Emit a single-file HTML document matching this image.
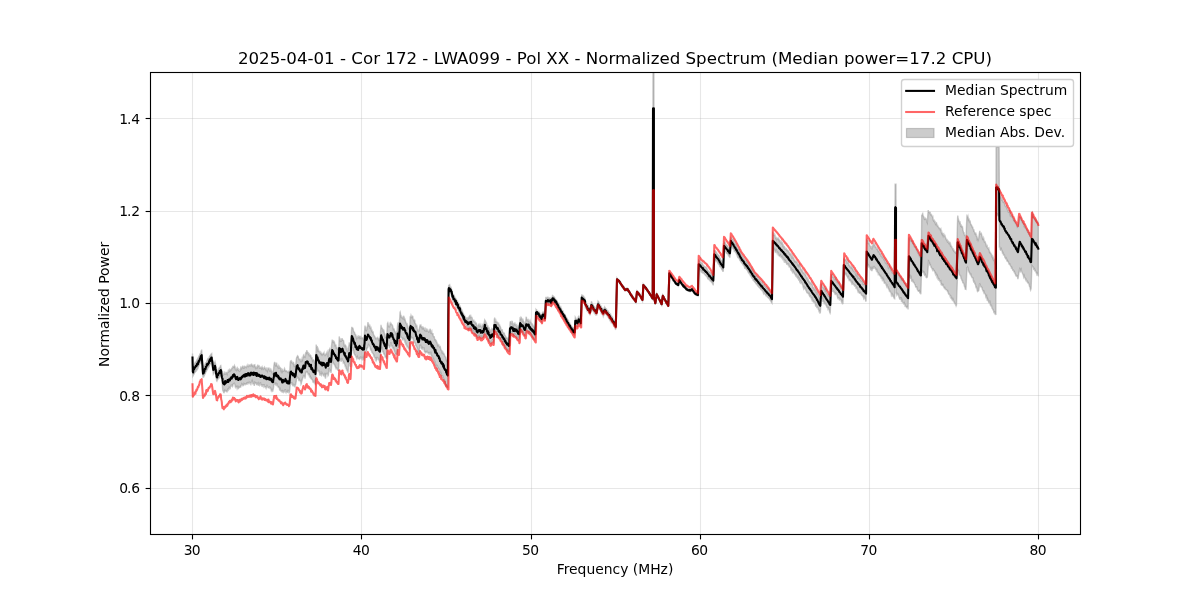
<!DOCTYPE html><html><head><meta charset="utf-8"><title>Normalized Spectrum</title>
<style>html,body{margin:0;padding:0;background:#fff}svg{display:block}text{font-family:"DejaVu Sans","Liberation Sans",sans-serif;fill:#000}</style></head><body>
<svg width="1200" height="600" viewBox="0 0 1200 600">
<rect width="1200" height="600" fill="#fff"/>
<defs><clipPath id="ax"><rect x="150" y="72" width="930" height="462"/></clipPath></defs>
<g clip-path="url(#ax)">
<polygon points="192.5,353.5 192.8,367.8 193.1,366.8 193.4,365.6 193.6,365.0 193.9,364.9 194.2,364.4 194.5,363.8 194.7,363.3 195.0,362.9 195.2,362.2 195.5,362.2 195.8,362.5 196.0,362.4 196.2,361.8 196.5,360.9 196.8,360.4 197.0,359.7 197.2,359.8 197.5,359.6 197.8,358.5 198.0,358.1 198.3,358.3 198.5,357.9 198.8,356.6 199.1,355.7 199.3,355.6 199.6,355.2 199.8,354.2 200.1,353.7 200.4,353.5 200.6,353.6 200.9,352.4 201.1,351.1 201.4,350.7 201.7,349.6 201.9,353.3 202.2,357.4 202.5,361.7 202.7,365.7 203.0,368.7 203.3,368.3 203.5,368.1 203.8,366.9 204.0,366.3 204.3,366.0 204.6,365.4 204.8,365.0 205.1,364.1 205.4,363.4 205.6,363.8 205.9,363.5 206.1,363.0 206.4,362.5 206.7,362.1 206.9,361.0 207.2,360.4 207.4,359.8 207.7,359.0 207.9,358.5 208.2,358.6 208.4,359.1 208.7,358.3 208.9,358.0 209.2,357.5 209.4,356.6 209.7,356.4 209.9,355.7 210.2,355.3 210.4,355.8 210.7,354.9 210.9,354.2 211.2,354.0 211.4,353.9 211.7,353.6 211.9,355.4 212.2,357.5 212.5,359.5 212.8,361.0 213.1,363.4 213.3,365.5 213.6,364.5 213.9,364.4 214.2,363.4 214.4,362.5 214.7,362.4 215.0,361.7 215.3,362.9 215.6,364.0 215.8,365.8 216.1,368.3 216.4,370.3 216.7,372.1 216.9,371.9 217.2,371.6 217.4,371.0 217.7,370.9 218.0,370.3 218.2,369.5 218.5,370.0 218.8,369.9 219.0,368.4 219.3,367.7 219.5,367.8 219.8,367.8 220.1,367.2 220.3,366.3 220.6,365.6 220.8,365.5 221.1,367.4 221.4,368.7 221.6,370.2 221.9,371.8 222.2,373.7 222.5,371.0 222.7,372.5 223.0,375.0 223.3,374.9 223.5,373.9 223.8,374.4 224.0,374.4 224.3,373.8 224.5,373.7 224.8,372.5 225.1,373.0 225.3,374.1 225.6,373.9 225.8,373.8 226.1,373.3 226.3,372.5 226.6,372.6 226.9,373.9 227.1,374.3 227.4,372.7 227.6,372.4 227.9,372.2 228.1,371.4 228.4,372.0 228.7,371.8 228.9,370.1 229.2,369.7 229.4,370.5 229.7,370.8 229.9,371.2 230.2,370.5 230.4,369.9 230.7,370.3 230.9,369.6 231.2,369.6 231.5,369.7 231.7,368.5 232.0,368.5 232.2,368.1 232.5,367.2 232.7,367.7 233.0,367.6 233.2,367.0 233.5,366.5 233.7,366.5 234.0,366.9 234.2,366.2 234.5,365.5 234.8,366.6 235.0,366.6 235.3,369.0 235.6,370.5 235.8,369.0 236.1,369.6 236.4,369.7 236.7,368.9 236.9,369.8 237.2,369.0 237.5,368.1 237.8,369.0 238.1,370.0 238.3,370.2 238.6,369.4 238.9,370.0 239.1,371.0 239.4,371.2 239.6,371.4 239.9,371.2 240.2,369.7 240.4,369.0 240.7,367.9 240.9,367.2 241.2,367.6 241.5,368.0 241.7,368.7 242.0,368.0 242.2,367.1 242.5,366.3 242.8,366.5 243.0,367.4 243.2,367.7 243.5,367.0 243.8,367.8 244.0,368.8 244.2,367.6 244.5,366.5 244.8,366.3 245.0,366.6 245.2,366.7 245.5,366.8 245.8,367.2 246.0,367.6 246.2,367.7 246.5,366.8 246.8,366.3 247.0,366.0 247.2,365.4 247.5,366.6 247.8,366.6 248.0,366.6 248.2,366.6 248.5,365.6 248.8,366.4 249.0,366.2 249.2,365.8 249.5,365.6 249.8,365.0 250.0,365.0 250.2,364.9 250.5,365.8 250.8,366.0 251.0,366.0 251.2,364.6 251.5,363.6 251.8,365.3 252.0,365.1 252.2,365.4 252.5,365.9 252.8,365.1 253.0,365.1 253.3,366.9 253.5,366.9 253.8,365.5 254.0,365.2 254.3,365.2 254.5,364.8 254.8,364.7 255.0,366.9 255.3,367.7 255.5,366.7 255.8,366.8 256.0,367.6 256.3,367.4 256.6,367.5 256.8,367.9 257.1,366.9 257.3,367.3 257.6,366.0 257.8,364.7 258.1,366.3 258.3,366.2 258.6,366.0 258.8,366.2 259.1,366.0 259.4,368.0 259.6,368.8 259.9,367.3 260.1,367.7 260.4,367.7 260.6,367.5 260.9,367.9 261.2,368.4 261.4,367.5 261.7,367.1 261.9,368.0 262.2,367.0 262.4,367.6 262.7,367.8 262.9,368.2 263.2,369.1 263.5,368.6 263.7,368.5 264.0,368.6 264.2,367.6 264.5,367.2 264.7,368.0 265.0,368.2 265.2,368.6 265.5,368.9 265.8,368.5 266.0,369.3 266.2,371.2 266.5,370.1 266.8,368.9 267.0,369.3 267.2,370.1 267.5,371.1 267.8,369.8 268.0,368.4 268.2,368.6 268.5,368.4 268.8,368.2 269.0,369.1 269.2,369.5 269.5,370.2 269.8,371.5 270.0,370.1 270.2,369.3 270.5,369.8 270.8,371.4 271.0,371.5 271.2,370.1 271.5,370.8 271.8,372.1 272.0,372.0 272.2,373.0 272.5,373.8 272.8,373.3 273.0,373.0 273.3,370.6 273.6,368.8 273.9,365.5 274.2,363.6 274.5,362.4 274.7,362.4 275.0,362.8 275.2,364.1 275.5,365.3 275.7,364.9 276.0,365.4 276.2,364.3 276.5,362.7 276.7,363.4 277.0,365.4 277.2,366.0 277.5,366.2 277.8,366.9 278.0,366.0 278.2,365.9 278.5,368.1 278.8,367.9 279.0,366.0 279.2,366.4 279.5,367.6 279.8,368.3 280.0,368.3 280.2,368.4 280.5,367.9 280.8,368.6 281.0,371.0 281.2,371.5 281.5,370.0 281.8,369.7 282.0,369.1 282.2,369.3 282.5,371.2 282.8,370.4 283.0,370.5 283.2,371.1 283.5,371.3 283.8,371.2 284.0,370.7 284.2,369.4 284.5,368.5 284.8,369.3 285.0,370.0 285.2,370.4 285.5,371.2 285.8,370.9 286.0,370.1 286.2,370.9 286.5,371.0 286.8,371.3 287.0,371.3 287.2,371.9 287.5,372.2 287.8,372.1 288.0,372.3 288.2,372.6 288.5,371.9 288.8,371.4 289.0,372.0 289.2,371.9 289.5,372.9 289.8,369.5 290.0,365.5 290.2,362.9 290.5,361.2 290.8,360.9 291.0,361.1 291.2,361.7 291.5,361.2 291.8,362.0 292.0,363.1 292.2,363.2 292.5,363.0 292.8,363.5 293.0,363.8 293.2,362.4 293.5,362.5 293.8,364.2 294.0,365.3 294.2,366.5 294.5,366.5 294.8,365.5 295.0,364.8 295.2,364.9 295.5,366.1 295.8,364.8 296.0,361.8 296.3,359.2 296.5,358.2 296.8,357.1 297.1,357.1 297.4,356.1 297.6,355.8 297.9,356.3 298.2,356.6 298.4,357.6 298.7,358.9 299.0,359.1 299.2,359.6 299.5,359.3 299.8,359.3 300.0,359.7 300.2,359.9 300.5,361.2 300.8,361.6 301.0,360.2 301.2,360.5 301.5,361.6 301.8,360.0 302.0,359.0 302.2,359.6 302.5,360.1 302.8,358.4 303.0,357.1 303.2,357.2 303.5,355.1 303.8,354.8 304.0,355.9 304.2,356.4 304.5,356.0 304.8,356.1 305.0,358.0 305.3,356.9 305.5,355.3 305.8,352.4 306.1,352.3 306.4,352.8 306.7,350.8 307.0,350.8 307.2,351.7 307.5,351.9 307.8,352.5 308.0,353.2 308.2,353.8 308.5,353.3 308.8,354.1 309.0,354.8 309.2,354.4 309.5,355.3 309.8,355.7 310.0,355.0 310.2,355.3 310.5,355.2 310.8,355.6 311.0,357.8 311.2,358.0 311.5,357.3 311.8,357.6 312.0,357.6 312.2,359.5 312.5,360.7 312.8,359.9 313.0,359.8 313.2,360.0 313.5,359.9 313.8,360.2 314.0,360.5 314.2,361.5 314.5,362.7 314.8,363.2 315.0,363.1 315.2,362.4 315.5,362.8 315.9,353.5 316.2,344.6 316.5,346.1 316.7,346.8 317.0,347.0 317.2,346.2 317.5,347.7 317.7,350.1 318.0,349.5 318.2,349.2 318.5,351.1 318.8,350.7 319.0,351.4 319.2,352.2 319.5,350.9 319.8,352.2 320.0,353.3 320.2,352.5 320.5,353.2 320.8,352.6 321.0,353.3 321.2,354.0 321.5,353.3 321.8,353.7 322.0,353.9 322.2,354.7 322.5,354.1 322.8,354.0 323.0,354.2 323.2,353.3 323.5,353.3 323.8,353.0 324.0,352.6 324.2,354.1 324.5,354.9 324.8,355.4 325.0,356.2 325.2,355.3 325.5,354.4 325.8,354.1 326.0,354.7 326.2,354.5 326.5,353.3 326.8,353.3 327.0,352.2 327.2,351.7 327.5,353.5 327.8,356.2 328.0,357.1 328.3,353.5 328.6,351.9 328.9,351.1 329.2,349.5 329.5,349.3 329.7,348.8 330.0,349.5 330.2,350.6 330.5,351.9 330.7,353.3 331.0,352.4 331.3,347.9 331.6,345.3 331.9,342.4 332.2,339.7 332.5,340.6 332.7,341.0 333.0,342.0 333.2,342.3 333.5,341.4 333.7,341.1 334.0,341.6 334.2,342.4 334.5,342.3 334.8,343.8 335.0,345.4 335.2,345.2 335.5,345.1 335.8,344.9 336.0,345.3 336.2,347.7 336.5,347.4 336.8,346.7 337.0,348.7 337.2,349.0 337.5,348.7 337.8,349.4 338.0,349.3 338.2,349.5 338.5,351.2 338.9,344.1 339.2,336.5 339.5,337.8 339.7,339.4 340.0,340.6 340.2,341.0 340.5,340.5 340.7,340.0 341.0,341.1 341.3,341.2 341.6,339.7 341.9,338.8 342.2,338.8 342.5,340.0 342.7,339.8 343.0,340.1 343.2,340.5 343.5,340.6 343.7,341.7 344.0,343.4 344.2,345.8 344.5,345.6 344.8,344.5 345.0,345.5 345.2,344.9 345.5,345.3 345.8,345.8 346.0,346.8 346.2,348.9 346.5,348.8 346.8,348.1 347.0,349.3 347.2,350.5 347.5,350.2 347.8,350.9 348.0,350.5 348.3,348.2 348.6,347.7 348.9,345.5 349.2,342.9 349.5,342.9 349.7,344.0 350.0,345.5 350.2,345.9 350.5,346.3 350.8,342.6 351.0,339.4 351.3,334.9 351.5,330.5 351.8,326.9 352.1,328.0 352.4,328.1 352.6,327.9 352.9,328.2 353.2,329.1 353.4,330.4 353.7,331.7 354.0,331.9 354.2,332.0 354.5,332.2 354.8,333.4 355.0,334.3 355.2,334.3 355.5,334.7 355.8,334.9 356.0,335.4 356.2,337.1 356.5,338.3 356.8,337.4 357.0,336.8 357.2,336.7 357.5,337.7 357.8,339.2 358.0,338.2 358.2,336.6 358.5,337.1 358.8,337.1 359.0,336.1 359.2,336.2 359.5,337.4 359.8,336.3 360.0,335.8 360.2,337.4 360.5,338.0 360.8,337.4 361.0,338.3 361.2,339.0 361.5,337.4 361.8,337.7 362.0,337.7 362.2,337.8 362.5,337.9 362.8,338.0 363.0,338.6 363.2,338.9 363.5,339.8 363.8,339.6 364.0,339.4 364.2,336.2 364.5,331.7 364.8,327.8 365.0,325.6 365.2,326.4 365.5,327.4 365.8,329.9 366.0,330.3 366.2,329.4 366.5,330.1 366.8,329.7 367.0,327.5 367.2,326.7 367.5,326.5 367.8,323.4 368.0,322.2 368.2,323.8 368.5,324.9 368.8,325.3 369.0,326.0 369.2,326.4 369.5,326.3 369.8,325.5 370.0,326.2 370.2,328.4 370.5,328.4 370.8,327.3 371.0,327.3 371.2,329.8 371.5,330.7 371.8,329.9 372.0,330.3 372.2,331.5 372.5,332.2 372.8,331.8 373.0,331.8 373.2,332.6 373.5,334.5 373.8,335.0 374.0,335.3 374.2,336.0 374.5,336.0 374.8,336.5 375.0,336.9 375.2,337.8 375.5,338.5 375.8,338.1 376.0,338.3 376.2,338.6 376.5,338.7 376.8,338.8 377.0,338.7 377.2,337.7 377.5,337.6 377.8,339.1 378.0,338.1 378.2,338.6 378.5,339.8 378.8,339.1 379.0,338.2 379.2,339.3 379.5,340.0 379.8,339.4 380.0,340.6 380.2,336.6 380.5,332.0 380.8,328.1 381.0,324.9 381.2,326.5 381.5,327.4 381.8,327.9 382.0,328.0 382.2,328.5 382.5,328.9 382.8,330.5 383.0,331.6 383.2,330.0 383.5,329.9 383.8,332.4 384.0,332.8 384.2,332.2 384.5,333.7 384.8,333.9 385.0,334.8 385.2,336.9 385.5,336.4 385.8,336.6 386.0,337.2 386.2,336.5 386.5,337.7 386.8,334.7 387.0,330.6 387.2,327.4 387.5,323.2 387.8,322.7 388.0,323.4 388.2,324.7 388.5,326.2 388.8,326.6 389.0,325.9 389.2,326.0 389.5,327.4 389.8,325.5 390.0,323.9 390.3,324.3 390.5,324.3 390.8,323.1 391.1,323.6 391.4,324.2 391.6,324.6 391.9,324.9 392.2,324.9 392.4,325.3 392.7,326.2 393.0,328.2 393.2,329.1 393.5,328.3 393.8,328.6 394.0,329.1 394.2,329.6 394.5,330.6 394.8,331.2 395.0,331.9 395.2,332.1 395.5,332.4 395.8,333.4 396.0,332.6 396.2,332.3 396.5,333.2 396.8,333.0 397.0,332.6 397.3,328.4 397.5,326.0 397.8,323.2 398.1,323.0 398.4,325.0 398.7,325.8 399.0,327.1 399.2,324.8 399.5,320.9 399.8,317.0 400.0,312.3 400.2,312.0 400.5,314.1 400.8,315.5 401.0,315.0 401.2,316.8 401.5,317.4 401.8,317.0 402.0,317.8 402.2,317.9 402.5,317.5 402.8,317.3 403.0,318.7 403.2,319.5 403.5,317.1 403.8,315.7 404.0,317.6 404.2,318.7 404.5,318.3 404.8,319.6 405.0,319.4 405.2,320.1 405.5,321.8 405.8,322.0 406.0,322.7 406.2,323.4 406.5,323.7 406.8,323.6 407.0,324.7 407.2,325.6 407.5,325.0 407.8,326.2 408.0,328.0 408.2,328.6 408.5,328.5 408.8,328.3 409.0,328.6 409.2,328.3 409.5,329.1 409.9,323.2 410.2,316.3 410.5,317.3 410.7,316.8 411.0,315.4 411.2,316.0 411.5,317.2 411.7,317.5 412.0,316.7 412.2,316.4 412.5,316.2 412.8,316.4 413.0,317.9 413.2,319.5 413.5,320.0 413.8,319.8 414.0,321.1 414.2,321.6 414.5,319.6 414.8,320.6 415.0,322.4 415.2,323.6 415.5,323.6 415.8,324.1 416.0,326.2 416.2,326.0 416.5,325.2 416.8,325.3 417.0,326.4 417.2,328.4 417.5,329.2 417.8,329.8 418.0,330.7 418.2,330.8 418.5,331.1 418.8,331.1 419.0,330.6 419.2,329.5 419.5,327.8 419.8,326.2 420.0,325.6 420.2,325.9 420.5,325.1 420.8,324.9 421.0,326.5 421.2,326.9 421.5,326.6 421.8,327.3 422.0,327.7 422.2,328.4 422.5,327.9 422.8,326.4 423.0,327.4 423.2,328.2 423.5,327.7 423.8,328.0 424.0,328.4 424.2,329.5 424.5,330.2 424.8,329.7 425.0,329.1 425.2,329.9 425.5,330.6 425.8,331.0 426.0,330.9 426.2,329.0 426.5,329.4 426.8,330.9 427.0,330.7 427.2,330.9 427.5,330.8 427.8,330.0 428.0,330.5 428.2,331.0 428.5,331.6 428.8,332.2 429.0,332.1 429.2,331.7 429.5,331.1 429.8,329.7 430.0,329.3 430.2,329.3 430.5,329.9 430.8,332.1 431.0,333.4 431.2,333.4 431.5,332.2 431.8,331.5 432.0,333.4 432.2,333.8 432.5,333.6 432.8,333.6 433.0,333.6 433.2,335.8 433.5,336.6 433.8,336.7 434.0,336.6 434.2,336.6 434.5,338.2 434.8,339.5 435.0,339.3 435.2,339.6 435.5,339.6 435.8,340.4 436.0,342.1 436.2,341.4 436.5,341.2 436.8,342.6 437.0,342.6 437.2,343.5 437.5,345.1 437.8,344.2 438.0,344.3 438.2,345.9 438.5,345.1 438.8,345.0 439.0,346.1 439.2,346.1 439.5,347.1 439.8,347.4 440.0,346.7 440.2,346.6 440.5,347.9 440.8,349.5 441.0,350.0 441.2,350.0 441.5,350.4 441.8,351.6 442.0,352.3 442.2,351.5 442.5,351.4 442.8,352.9 443.0,353.2 443.2,352.7 443.5,353.4 443.8,353.4 444.0,354.3 444.2,354.3 444.5,355.1 444.8,356.7 445.0,355.8 445.2,356.7 445.5,357.1 445.8,357.8 446.0,359.8 446.2,359.7 446.5,359.6 446.8,361.0 447.0,361.3 447.3,361.2 447.5,362.3 447.8,363.6 448.1,334.3 448.3,304.6 448.6,285.8 448.9,285.2 449.2,285.0 449.4,285.3 449.7,284.9 450.0,286.2 450.3,286.9 450.6,286.9 450.8,286.9 451.1,287.7 451.4,288.8 451.7,289.6 451.9,290.8 452.2,292.1 452.5,293.6 452.8,294.0 453.0,294.1 453.3,294.5 453.5,294.8 453.8,294.9 454.1,295.6 454.3,296.2 454.6,296.4 454.8,296.9 455.1,297.6 455.4,298.2 455.6,298.3 455.9,298.6 456.1,299.1 456.4,299.7 456.7,300.2 456.9,300.8 457.2,301.7 457.4,302.0 457.7,301.6 457.9,302.5 458.2,303.9 458.4,303.8 458.7,303.6 458.9,303.6 459.2,304.5 459.4,305.3 459.7,306.1 459.9,306.1 460.2,306.1 460.4,307.5 460.7,307.9 460.9,308.0 461.2,308.7 461.4,309.3 461.7,309.6 461.9,310.3 462.2,310.8 462.4,311.3 462.7,312.3 463.0,312.8 463.2,313.2 463.5,313.7 463.7,314.5 464.0,314.9 464.2,315.5 464.5,315.6 464.7,315.6 465.0,316.6 465.3,317.4 465.5,318.1 465.8,317.6 466.0,317.6 466.3,318.5 466.5,318.8 466.8,318.8 467.0,318.6 467.3,318.2 467.6,319.0 467.8,320.2 468.1,318.6 468.3,317.8 468.6,317.4 468.8,317.6 469.1,317.8 469.3,316.6 469.6,315.7 469.8,315.5 470.1,316.5 470.3,317.4 470.6,316.4 470.8,316.0 471.1,317.2 471.4,317.2 471.7,317.5 471.9,317.4 472.2,317.9 472.5,320.5 472.8,320.7 473.0,319.7 473.3,321.2 473.5,320.5 473.8,320.3 474.0,321.4 474.3,321.4 474.5,322.4 474.8,322.4 475.1,322.0 475.3,322.7 475.6,323.3 475.8,322.7 476.1,323.0 476.4,323.3 476.7,324.8 476.9,325.6 477.2,325.7 477.5,328.0 477.8,328.0 478.1,326.4 478.3,325.1 478.6,324.5 478.9,325.0 479.2,325.2 479.4,324.9 479.7,326.4 479.9,326.2 480.2,324.7 480.4,325.2 480.7,325.9 480.9,326.5 481.2,326.5 481.4,327.0 481.7,327.7 481.9,326.9 482.2,325.0 482.4,325.4 482.7,326.0 482.9,325.0 483.2,325.2 483.4,324.7 483.7,324.1 483.9,323.6 484.2,322.6 484.4,321.5 484.7,319.9 484.9,320.2 485.2,320.6 485.5,321.1 485.7,322.4 486.0,322.9 486.2,322.5 486.5,323.1 486.8,324.5 487.0,325.8 487.3,326.2 487.5,325.9 487.8,325.8 488.1,327.7 488.3,328.3 488.6,327.0 488.8,327.8 489.1,327.9 489.3,329.0 489.6,330.5 489.8,330.6 490.1,330.4 490.3,330.2 490.6,331.7 490.8,332.9 491.1,333.5 491.4,333.0 491.7,329.8 491.9,328.7 492.2,329.0 492.5,329.0 492.8,329.8 493.1,330.1 493.4,330.6 493.7,331.3 494.0,326.4 494.3,319.9 494.6,318.2 494.9,318.3 495.1,320.6 495.4,321.6 495.7,320.8 495.9,320.4 496.2,321.4 496.4,322.4 496.7,322.0 497.0,321.8 497.2,322.1 497.5,322.5 497.8,323.3 498.0,324.6 498.3,323.6 498.5,322.5 498.8,324.0 499.1,325.3 499.3,324.9 499.6,324.9 499.8,325.9 500.1,326.5 500.4,326.8 500.6,327.5 500.9,328.6 501.1,329.5 501.4,329.8 501.7,329.9 501.9,329.7 502.2,329.7 502.4,331.0 502.7,331.8 503.0,332.3 503.2,332.9 503.5,332.9 503.8,333.5 504.0,333.0 504.3,333.2 504.5,334.2 504.8,335.2 505.1,335.6 505.3,335.8 505.6,336.4 505.8,337.0 506.1,337.9 506.3,337.7 506.6,337.6 506.9,338.1 507.1,338.7 507.4,338.7 507.6,338.6 507.9,338.8 508.1,338.4 508.4,339.0 508.7,340.1 508.9,339.8 509.2,340.7 509.4,334.9 509.7,328.6 510.0,323.4 510.2,321.9 510.5,321.6 510.8,321.6 511.0,321.5 511.2,322.7 511.5,323.7 511.8,323.7 512.0,321.7 512.2,320.9 512.5,322.6 512.8,324.0 513.1,325.2 513.3,325.8 513.6,324.2 513.9,323.6 514.2,323.4 514.4,324.6 514.7,324.0 515.0,323.5 515.3,324.6 515.5,324.9 515.8,324.8 516.0,324.7 516.3,326.4 516.6,326.0 516.8,325.5 517.1,327.4 517.3,327.5 517.6,327.9 517.9,326.3 518.1,325.5 518.4,326.8 518.6,327.0 518.9,328.0 519.2,328.8 519.4,325.0 519.7,321.9 520.0,318.2 520.2,318.4 520.5,319.3 520.8,317.9 521.0,317.2 521.2,317.4 521.5,318.0 521.8,319.2 522.0,320.7 522.2,321.2 522.5,319.9 522.8,318.6 523.0,319.6 523.2,320.5 523.5,321.0 523.8,321.8 524.0,323.8 524.2,323.6 524.5,322.7 524.8,325.2 525.0,325.2 525.3,322.5 525.5,322.5 525.8,320.6 526.1,317.5 526.3,316.8 526.6,318.3 526.8,319.6 527.1,319.6 527.3,320.6 527.6,320.8 527.8,319.8 528.1,320.0 528.3,320.9 528.6,321.3 528.8,320.6 529.1,321.8 529.3,323.0 529.6,322.9 529.8,321.6 530.1,320.7 530.3,321.5 530.6,322.2 530.8,322.3 531.1,322.7 531.3,323.6 531.6,323.5 531.8,323.6 532.1,324.3 532.3,324.2 532.6,324.6 532.8,325.6 533.1,326.2 533.3,325.7 533.6,326.1 533.8,326.9 534.1,327.3 534.3,327.4 534.6,328.1 534.8,328.8 535.1,330.8 535.3,330.7 535.7,319.8 536.0,309.4 536.3,309.8 536.5,309.8 536.8,310.1 537.0,310.8 537.3,311.6 537.6,311.4 537.8,311.5 538.1,311.9 538.3,311.9 538.6,312.0 538.8,311.7 539.1,312.3 539.4,313.4 539.6,313.2 539.9,313.2 540.1,314.1 540.4,314.7 540.6,314.7 540.9,314.7 541.2,315.7 541.4,316.8 541.7,316.9 541.9,315.3 542.2,313.9 542.5,312.4 542.8,312.2 543.1,312.0 543.3,312.0 543.6,312.1 543.9,312.5 544.2,312.6 544.4,313.5 544.7,314.4 545.0,315.5 545.3,309.0 545.6,302.6 545.8,297.5 546.1,297.4 546.4,297.7 546.6,298.2 546.9,297.8 547.1,297.8 547.4,297.6 547.7,297.3 547.9,297.7 548.2,297.5 548.4,297.9 548.7,298.1 549.0,298.1 549.2,298.3 549.5,298.1 549.7,297.9 550.0,297.7 550.3,298.2 550.5,298.6 550.8,299.5 551.1,299.6 551.3,299.5 551.6,298.7 551.9,298.0 552.2,296.8 552.5,295.4 552.8,295.5 553.0,295.9 553.2,296.3 553.5,296.4 553.8,296.5 554.0,297.2 554.2,297.5 554.5,297.4 554.8,297.8 555.0,298.4 555.2,298.8 555.5,299.2 555.8,299.4 556.0,299.6 556.2,300.3 556.5,300.7 556.8,300.5 557.0,300.9 557.2,301.9 557.5,302.4 557.8,302.7 558.0,303.0 558.2,302.9 558.5,302.9 558.8,303.0 559.0,303.8 559.2,305.5 559.5,306.5 559.8,306.1 560.0,306.2 560.3,307.4 560.5,307.5 560.8,307.1 561.0,308.0 561.3,308.9 561.5,308.8 561.8,309.9 562.1,310.6 562.3,310.8 562.6,311.5 562.8,311.7 563.1,311.4 563.3,312.2 563.6,312.9 563.8,313.3 564.1,313.9 564.4,313.9 564.6,314.2 564.9,314.8 565.1,315.2 565.4,315.7 565.6,316.3 565.9,316.9 566.2,316.9 566.4,317.4 566.7,317.8 566.9,318.7 567.2,319.3 567.4,319.1 567.7,320.1 567.9,320.5 568.2,320.1 568.4,320.2 568.7,321.1 568.9,322.0 569.2,322.6 569.4,323.0 569.7,323.0 569.9,323.5 570.2,324.4 570.4,324.5 570.7,325.5 570.9,326.0 571.2,325.8 571.4,326.9 571.7,327.2 571.9,327.0 572.2,327.2 572.4,327.8 572.7,327.1 572.9,327.2 573.2,328.1 573.4,328.0 573.7,328.5 573.9,329.0 574.2,329.4 574.4,329.4 574.7,329.9 575.0,323.6 575.3,317.2 575.6,317.7 575.9,318.4 576.1,318.9 576.4,319.3 576.7,319.5 577.0,320.1 577.2,320.8 577.5,320.6 577.8,318.9 578.1,317.6 578.4,316.6 578.7,316.3 578.9,317.5 579.2,317.3 579.5,318.1 579.8,318.9 580.0,318.2 580.3,319.2 580.6,320.7 580.8,320.9 581.1,311.7 581.4,303.4 581.7,294.9 581.9,294.8 582.2,295.3 582.4,295.7 582.7,295.7 583.0,295.6 583.2,296.2 583.5,296.1 583.7,296.2 584.0,297.2 584.2,297.5 584.5,297.6 584.7,297.7 585.0,298.3 585.0,300.5 585.2,300.7 585.5,301.6 585.8,301.7 586.0,301.7 586.2,303.0 586.5,304.0 586.8,303.8 587.0,304.2 587.2,305.0 587.5,305.6 587.8,306.3 588.0,305.7 588.2,305.7 588.5,307.3 588.8,308.3 589.0,308.2 589.2,307.8 589.5,308.5 589.8,309.1 590.0,309.5 590.3,307.9 590.5,306.6 590.8,305.6 591.1,304.0 591.3,302.0 591.6,301.8 591.8,302.2 592.1,303.2 592.3,303.5 592.6,304.0 592.8,305.4 593.1,305.4 593.3,305.3 593.6,306.1 593.8,306.7 594.1,306.6 594.4,306.6 594.6,307.1 594.9,307.4 595.1,307.9 595.4,308.4 595.6,308.9 595.9,308.6 596.2,308.9 596.4,310.0 596.7,309.9 596.9,308.1 597.2,306.8 597.5,305.1 597.7,303.1 598.0,301.4 598.2,301.7 598.5,301.6 598.8,302.0 599.0,302.6 599.2,303.3 599.5,304.2 599.8,304.6 600.0,305.2 600.3,305.5 600.5,305.4 600.8,305.7 601.0,306.0 601.3,306.6 601.5,307.7 601.8,307.8 602.0,308.0 602.3,308.9 602.6,309.4 602.8,309.8 603.1,310.2 603.3,310.6 603.6,309.9 603.9,308.8 604.1,308.1 604.4,308.2 604.7,307.0 604.9,307.3 605.2,307.7 605.4,308.1 605.7,308.7 606.0,308.9 606.2,309.3 606.5,309.1 606.7,309.8 607.0,310.7 607.2,310.3 607.5,310.4 607.8,311.2 608.0,311.2 608.3,311.2 608.5,312.1 608.8,312.6 609.1,312.9 609.3,313.9 609.6,314.2 609.8,313.7 610.1,314.3 610.4,314.5 610.6,314.3 610.9,315.9 611.1,316.3 611.4,315.9 611.7,316.2 611.9,316.5 612.2,317.4 612.4,317.1 612.7,317.4 613.0,318.8 613.2,319.7 613.5,320.0 613.8,320.0 614.0,320.5 614.3,321.1 614.5,321.2 614.8,321.8 615.1,323.1 615.3,323.4 615.6,323.5 615.8,324.3 616.1,311.7 616.4,299.5 616.7,288.0 617.0,278.1 617.2,278.4 617.5,278.7 617.8,278.8 618.0,279.3 618.2,279.7 618.5,279.8 618.8,280.0 619.0,280.6 619.2,280.8 619.5,280.7 619.8,281.2 620.0,281.8 620.2,282.2 620.5,282.3 620.8,282.3 621.0,282.9 621.2,283.5 621.5,283.8 621.8,284.2 622.0,284.7 622.2,285.1 622.5,285.2 622.8,285.6 623.0,285.9 623.2,286.3 623.5,286.8 623.8,286.9 624.0,287.2 624.2,287.6 624.5,288.0 624.8,288.5 625.0,289.2 625.2,289.1 625.5,288.7 625.8,288.4 626.0,288.6 626.2,288.6 626.5,288.5 626.8,288.3 627.0,288.0 627.2,288.3 627.5,288.3 627.8,288.5 628.0,288.9 628.3,289.5 628.5,290.0 628.8,290.2 629.1,290.7 629.3,291.1 629.6,291.6 629.8,291.9 630.1,292.2 630.4,292.7 630.6,293.1 630.9,293.5 631.1,294.0 631.4,294.3 631.7,294.6 631.9,295.2 632.2,295.6 632.4,295.8 632.7,296.3 633.0,296.7 633.2,297.0 633.5,297.3 633.8,297.7 634.0,298.1 634.3,298.4 634.5,298.6 634.8,299.1 635.1,299.5 635.3,299.7 635.6,300.2 635.8,300.7 636.1,298.2 636.4,295.6 636.7,293.1 637.0,290.7 637.3,291.0 637.5,291.3 637.8,291.8 638.1,292.0 638.4,292.2 638.6,292.4 638.9,292.7 639.2,292.9 639.4,293.4 639.7,293.9 639.9,294.5 640.2,295.0 640.5,295.4 640.7,295.8 641.0,296.2 641.2,296.8 641.5,297.7 641.7,297.9 642.0,298.1 642.2,298.6 642.5,299.1 642.8,294.0 643.1,288.8 643.3,283.9 643.6,284.3 643.8,284.5 644.1,284.9 644.4,285.1 644.6,285.6 644.9,286.2 645.1,286.4 645.4,286.5 645.6,286.9 645.9,287.2 646.2,287.3 646.4,287.6 646.7,287.9 646.9,288.3 647.2,288.9 647.4,289.3 647.7,289.6 648.0,289.8 648.2,290.4 648.5,291.1 648.7,291.5 649.0,291.7 649.2,291.9 649.5,292.3 649.7,292.8 650.0,293.1 650.3,293.7 650.5,294.0 650.8,294.5 651.1,294.9 651.3,295.1 651.6,295.6 651.9,295.9 652.1,296.3 652.4,296.9 652.7,297.1 653.0,60.0 653.3,60.0 653.6,60.0 653.9,60.0 653.9,60.0 654.2,297.2 654.5,298.5 654.8,299.7 655.0,301.0 655.3,302.3 655.6,300.4 655.9,298.4 656.1,296.6 656.4,295.0 656.7,293.4 656.9,293.8 657.2,294.1 657.4,294.6 657.7,295.0 657.9,295.3 658.2,296.1 658.4,296.7 658.7,297.1 658.9,297.8 659.2,298.3 659.4,298.6 659.7,299.2 659.9,299.6 660.2,300.1 660.4,300.6 660.7,301.2 660.9,301.8 661.2,302.1 661.4,302.4 661.7,303.0 662.0,300.9 662.2,298.8 662.5,296.9 662.8,294.8 663.1,295.2 663.4,295.8 663.6,296.2 663.9,296.7 664.2,297.5 664.5,298.2 664.7,298.5 665.0,298.8 665.3,299.4 665.5,299.9 665.8,300.1 666.0,300.7 666.3,301.3 666.5,301.7 666.8,302.1 667.0,302.6 667.3,303.1 667.6,303.4 667.8,303.9 668.1,304.6 668.3,304.8 668.6,296.7 668.8,288.9 669.1,280.7 669.3,272.2 669.6,272.7 669.9,273.3 670.1,273.6 670.4,274.1 670.7,274.6 670.9,274.8 671.2,275.4 671.4,275.8 671.7,276.2 672.0,276.6 672.2,277.0 672.5,277.4 672.8,277.7 673.0,278.2 673.3,278.6 673.5,278.9 673.8,279.3 674.0,279.7 674.3,280.1 674.5,280.6 674.8,280.8 675.1,281.1 675.3,281.5 675.6,282.1 675.8,282.5 676.1,282.6 676.3,282.8 676.6,282.8 676.8,282.9 677.1,282.9 677.3,283.2 677.6,283.5 677.8,283.7 678.1,283.9 678.3,284.0 678.6,282.8 678.8,281.5 679.1,280.1 679.3,278.9 679.6,279.3 679.9,279.9 680.1,280.2 680.4,280.5 680.7,281.1 680.9,281.5 681.2,282.0 681.4,282.4 681.7,282.9 682.0,283.3 682.2,283.7 682.5,284.2 682.8,284.3 683.0,284.4 683.3,284.7 683.5,285.1 683.8,285.4 684.1,285.7 684.3,285.6 684.6,286.1 684.8,286.4 685.1,286.4 685.4,286.8 685.6,287.1 685.9,287.4 686.1,287.7 686.4,287.8 686.7,288.2 686.9,288.1 687.2,288.2 687.4,288.5 687.7,288.6 688.0,288.9 688.2,289.2 688.5,289.2 688.7,289.2 689.0,289.5 689.2,289.7 689.5,289.7 689.7,289.6 690.0,289.5 690.2,289.4 690.5,289.3 690.8,289.2 691.0,289.3 691.2,288.9 691.5,288.4 691.8,288.4 692.0,288.3 692.2,288.7 692.5,288.9 692.8,289.1 693.0,289.7 693.2,290.2 693.5,290.2 693.8,290.4 694.0,290.9 694.2,291.1 694.5,291.6 694.8,292.1 695.0,292.3 695.2,292.4 695.5,292.7 695.8,292.9 696.0,292.8 696.2,292.7 696.5,292.8 696.8,293.3 697.0,293.7 697.2,293.6 697.5,293.4 697.8,293.6 698.0,294.0 698.3,275.8 698.7,260.2 698.9,260.3 699.2,260.2 699.4,260.1 699.7,260.8 699.9,261.3 700.2,261.8 700.4,262.6 700.7,262.3 700.9,262.7 701.2,263.2 701.4,262.9 701.7,263.7 701.9,263.4 702.2,262.9 702.4,263.6 702.7,264.3 702.9,265.1 703.2,265.6 703.4,265.3 703.7,265.4 703.9,265.8 704.2,266.3 704.4,266.6 704.7,266.7 704.9,266.7 705.2,266.9 705.4,267.1 705.7,267.1 705.9,267.3 706.2,267.5 706.4,268.0 706.7,268.0 706.9,268.6 707.2,269.4 707.4,269.7 707.7,269.9 708.0,270.3 708.2,270.9 708.5,271.3 708.8,271.4 709.0,272.0 709.3,272.0 709.5,272.0 709.8,272.1 710.1,272.9 710.3,273.5 710.6,273.2 710.8,273.9 711.1,274.2 711.3,273.9 711.6,273.7 711.8,274.2 712.1,275.7 712.3,276.1 712.6,276.4 712.8,276.9 713.1,276.6 713.3,276.3 713.6,269.7 713.8,263.6 714.1,256.9 714.3,250.1 714.6,250.7 714.9,250.9 715.1,250.7 715.4,251.0 715.7,251.9 715.9,252.2 716.2,252.0 716.4,252.3 716.7,252.9 717.0,253.5 717.2,253.9 717.5,253.9 717.8,254.4 718.1,255.0 718.3,255.1 718.6,255.2 718.9,255.5 719.2,256.3 719.4,257.1 719.7,257.8 719.9,258.2 720.2,258.5 720.5,258.6 720.7,259.2 721.0,260.2 721.2,260.6 721.5,260.6 721.8,260.8 722.0,261.2 722.3,261.3 722.6,261.7 722.8,262.1 723.1,262.1 723.3,263.1 723.7,252.9 724.0,242.2 724.3,242.2 724.5,242.3 724.8,243.0 725.1,243.2 725.3,242.8 725.6,243.9 725.9,245.1 726.1,245.2 726.4,245.2 726.7,244.9 726.9,245.3 727.2,245.9 727.4,245.8 727.7,245.9 728.0,246.8 728.2,247.7 728.5,248.0 728.7,247.8 729.0,247.6 729.2,248.6 729.5,249.3 729.7,249.3 730.0,249.6 730.3,244.8 730.6,241.2 730.8,237.6 731.1,237.8 731.4,237.8 731.6,237.8 731.9,238.9 732.1,239.2 732.4,239.0 732.7,239.2 732.9,239.5 733.2,240.4 733.4,241.2 733.7,240.9 734.0,241.8 734.2,243.0 734.5,243.4 734.7,242.9 735.0,243.0 735.3,244.3 735.5,244.5 735.8,244.3 736.0,245.0 736.3,245.1 736.5,245.7 736.8,247.0 737.1,247.6 737.3,248.1 737.6,248.4 737.8,248.5 738.1,248.8 738.3,249.1 738.6,249.3 738.8,249.7 739.1,250.4 739.4,251.0 739.6,251.5 739.9,252.1 740.1,252.7 740.4,253.0 740.6,252.6 740.9,253.0 741.2,254.5 741.4,255.5 741.7,255.3 741.9,255.3 742.2,255.8 742.4,256.1 742.7,256.5 743.0,257.2 743.2,257.8 743.5,257.9 743.7,257.8 744.0,258.2 744.2,258.6 744.5,259.4 744.7,259.5 745.0,260.2 745.3,260.9 745.5,260.9 745.8,260.9 746.0,260.8 746.3,261.3 746.5,261.7 746.8,261.7 747.0,262.1 747.3,262.6 747.6,262.9 747.8,264.0 748.1,264.3 748.3,264.3 748.6,264.6 748.8,265.0 749.1,265.5 749.4,266.2 749.6,266.7 749.9,267.3 750.1,267.5 750.4,267.3 750.6,267.5 750.9,267.7 751.2,268.1 751.4,268.7 751.7,269.7 751.9,270.4 752.2,270.8 752.4,270.5 752.7,270.5 752.9,271.7 753.2,272.1 753.5,272.0 753.7,272.4 754.0,272.9 754.2,273.3 754.5,273.7 754.7,274.3 755.0,274.7 755.3,274.8 755.5,275.1 755.8,275.4 756.0,275.5 756.3,275.9 756.5,276.3 756.8,276.7 757.0,276.9 757.3,276.9 757.5,277.4 757.8,277.4 758.0,278.0 758.3,278.7 758.5,278.8 758.8,279.3 759.0,279.5 759.3,279.5 759.5,280.2 759.8,281.2 760.0,281.2 760.3,281.2 760.6,281.6 760.8,281.2 761.1,281.6 761.3,282.5 761.6,282.7 761.8,282.8 762.1,282.7 762.3,282.2 762.6,282.9 762.8,283.4 763.1,283.7 763.3,284.2 763.6,284.5 763.8,285.2 764.1,285.0 764.4,285.0 764.6,285.7 764.9,286.4 765.1,286.7 765.4,286.4 765.6,286.5 765.9,287.6 766.2,287.8 766.4,287.6 766.7,288.2 766.9,288.1 767.2,288.1 767.4,288.2 767.7,288.4 767.9,289.4 768.2,290.1 768.5,289.6 768.7,290.3 769.0,290.7 769.2,290.3 769.5,291.4 769.7,292.1 770.0,291.9 770.2,292.6 770.5,293.1 770.8,293.2 771.0,293.4 771.2,293.7 771.5,294.3 771.8,295.0 772.0,295.3 772.3,275.5 772.6,255.6 772.8,231.6 773.1,233.5 773.3,234.5 773.6,234.2 773.8,235.0 774.1,235.3 774.3,235.3 774.6,235.6 774.8,234.6 775.1,235.4 775.3,237.6 775.6,238.2 775.8,237.7 776.1,237.4 776.3,237.9 776.6,238.8 776.8,239.6 777.1,238.8 777.3,238.3 777.6,238.6 777.8,238.7 778.1,238.7 778.3,239.2 778.6,238.5 778.8,239.0 779.1,240.4 779.3,239.8 779.6,240.3 779.8,240.8 780.1,241.9 780.3,242.0 780.6,241.6 780.8,242.7 781.1,242.5 781.3,241.9 781.6,242.9 781.8,243.6 782.1,243.2 782.3,242.9 782.6,244.1 782.8,246.0 783.1,245.7 783.3,245.4 783.6,246.6 783.8,247.2 784.1,246.5 784.3,246.6 784.6,247.6 784.8,249.0 785.1,249.0 785.3,248.5 785.6,249.1 785.8,249.2 786.1,248.5 786.3,248.6 786.6,250.3 786.8,250.2 787.1,249.8 787.3,249.9 787.6,250.2 787.8,251.1 788.1,251.6 788.3,251.5 788.6,251.2 788.8,251.5 789.1,252.2 789.3,252.9 789.6,254.3 789.8,254.2 790.1,253.7 790.3,254.1 790.6,253.8 790.8,255.0 791.1,255.8 791.3,255.9 791.6,255.2 791.8,256.7 792.1,258.9 792.3,257.4 792.6,255.9 792.8,256.2 793.1,257.4 793.3,257.6 793.6,258.0 793.8,258.5 794.1,260.2 794.3,260.7 794.6,259.3 794.8,260.9 795.1,261.6 795.3,260.9 795.6,261.0 795.8,261.6 796.1,261.8 796.3,261.8 796.6,262.1 796.8,261.6 797.1,262.1 797.3,263.3 797.6,264.6 797.8,265.0 798.1,264.3 798.3,264.6 798.6,265.5 798.8,264.5 799.1,264.3 799.3,264.8 799.6,264.4 799.8,265.6 800.1,266.8 800.3,267.6 800.6,268.2 800.8,269.2 801.1,269.8 801.3,269.6 801.6,269.6 801.8,270.8 802.1,272.1 802.3,271.1 802.6,270.4 802.8,271.6 803.1,272.8 803.3,272.6 803.6,273.0 803.8,272.9 804.1,272.6 804.3,274.2 804.6,274.3 804.8,274.2 805.1,274.9 805.3,275.1 805.6,274.4 805.8,274.8 806.1,276.3 806.3,276.9 806.6,277.6 806.8,278.4 807.1,278.2 807.3,277.9 807.6,279.4 807.8,280.4 808.1,279.9 808.3,279.6 808.6,280.6 808.8,281.7 809.1,281.4 809.3,281.5 809.6,281.9 809.8,282.0 810.1,283.4 810.4,283.1 810.6,282.9 810.9,283.4 811.1,282.9 811.4,284.4 811.6,284.4 811.9,283.8 812.1,284.3 812.4,284.8 812.6,286.0 812.9,287.4 813.1,287.2 813.4,287.4 813.6,287.5 813.9,288.6 814.1,289.4 814.4,288.3 814.6,289.1 814.9,289.7 815.2,289.9 815.4,289.3 815.7,290.2 815.9,291.9 816.2,291.6 816.4,290.9 816.7,291.7 816.9,293.4 817.2,292.8 817.5,292.0 817.7,293.5 818.0,294.1 818.2,294.4 818.5,295.2 818.8,296.3 819.0,297.3 819.3,297.9 819.5,298.4 819.8,298.0 820.1,296.7 820.3,297.7 820.6,294.2 820.9,289.3 821.2,283.7 821.4,284.9 821.7,284.7 821.9,284.5 822.2,286.2 822.4,286.6 822.7,287.4 823.0,287.6 823.2,287.4 823.5,287.3 823.7,288.0 824.0,288.7 824.2,289.1 824.5,288.7 824.7,287.8 825.0,288.8 825.3,290.4 825.5,289.9 825.8,289.4 826.0,290.5 826.3,291.6 826.5,292.4 826.8,293.2 827.0,293.3 827.3,293.4 827.5,294.6 827.8,294.6 828.0,295.5 828.3,295.9 828.6,295.1 828.8,294.6 829.1,294.9 829.3,296.1 829.6,296.2 829.8,297.0 830.1,297.2 830.3,297.5 830.6,289.0 830.9,280.5 831.2,274.3 831.4,275.0 831.7,274.9 831.9,274.7 832.2,273.9 832.4,275.5 832.7,277.2 833.0,277.2 833.2,277.0 833.5,277.5 833.7,277.6 834.0,277.6 834.2,278.6 834.5,278.0 834.7,278.8 835.0,279.7 835.2,279.7 835.5,279.1 835.8,278.4 836.0,279.3 836.2,280.6 836.5,281.8 836.8,282.0 837.0,281.6 837.2,282.1 837.5,282.4 837.8,282.5 838.0,283.2 838.2,283.0 838.5,283.4 838.8,283.3 839.0,282.9 839.2,284.4 839.5,284.8 839.8,285.1 840.0,285.9 840.2,285.9 840.5,286.9 840.8,287.6 841.0,286.8 841.2,286.6 841.5,287.4 841.8,287.2 842.0,288.1 842.2,289.2 842.5,288.0 842.8,287.8 843.0,289.9 843.3,280.0 843.6,269.9 843.8,259.2 844.1,258.6 844.3,260.0 844.6,261.2 844.8,260.0 845.1,259.6 845.3,259.8 845.6,259.4 845.8,259.4 846.1,260.3 846.3,261.0 846.6,260.6 846.8,262.5 847.1,263.8 847.3,262.9 847.6,261.8 847.8,262.4 848.1,262.4 848.3,262.1 848.6,264.0 848.8,265.3 849.1,265.3 849.4,265.6 849.6,266.0 849.9,265.4 850.1,265.7 850.4,267.4 850.6,267.6 850.9,267.2 851.2,267.8 851.4,267.2 851.7,266.7 851.9,266.9 852.2,268.0 852.4,269.0 852.7,268.4 852.9,268.2 853.2,269.6 853.5,271.1 853.7,271.2 854.0,271.1 854.2,271.5 854.5,271.8 854.7,272.0 855.0,272.1 855.0,271.8 855.3,271.9 855.5,272.9 855.8,274.6 856.0,274.3 856.3,273.1 856.5,274.2 856.8,275.6 857.0,275.1 857.3,274.7 857.5,275.1 857.8,275.9 858.0,278.2 858.3,278.0 858.5,276.7 858.8,277.2 859.0,277.4 859.3,278.2 859.5,278.6 859.8,278.2 860.0,277.8 860.3,279.2 860.5,280.2 860.8,280.1 861.0,280.6 861.3,280.4 861.5,281.0 861.8,281.3 862.1,280.4 862.3,280.6 862.6,281.4 862.8,283.7 863.1,284.1 863.3,283.2 863.6,284.3 863.8,284.3 864.1,282.9 864.3,283.1 864.6,284.0 864.8,283.7 865.1,284.1 865.3,285.4 865.6,287.0 865.8,287.7 866.1,287.0 866.4,265.2 866.7,239.7 866.9,239.4 867.2,240.1 867.4,240.3 867.7,240.6 867.9,243.2 868.2,243.5 868.4,243.2 868.7,243.3 868.9,242.4 869.2,243.4 869.4,244.7 869.7,245.2 869.9,245.8 870.2,246.3 870.4,246.3 870.7,246.7 870.9,247.9 871.2,247.7 871.4,247.3 871.7,248.6 871.9,249.5 872.2,248.1 872.4,246.3 872.7,245.6 872.9,246.6 873.2,245.9 873.4,244.3 873.7,243.3 873.9,243.8 874.2,244.6 874.4,245.2 874.7,245.2 874.9,244.8 875.2,246.7 875.4,247.8 875.7,246.6 875.9,246.7 876.2,247.9 876.4,248.9 876.7,249.2 876.9,248.8 877.2,249.3 877.4,249.1 877.7,248.7 877.9,250.5 878.2,251.5 878.4,251.2 878.7,251.1 878.9,250.8 879.2,251.7 879.4,252.7 879.7,253.9 879.9,253.8 880.2,253.2 880.4,253.9 880.7,253.8 880.9,255.3 881.2,257.0 881.4,256.4 881.7,255.3 881.9,255.7 882.2,257.2 882.4,257.0 882.7,256.2 882.9,257.9 883.2,258.4 883.4,258.4 883.7,259.2 883.9,258.7 884.2,260.0 884.4,260.0 884.7,259.7 884.9,260.7 885.2,261.9 885.4,262.8 885.7,262.7 885.9,261.8 886.2,262.8 886.4,263.6 886.7,263.5 886.9,263.1 887.2,263.3 887.4,265.0 887.7,265.2 887.9,265.7 888.2,267.0 888.4,267.9 888.7,267.3 888.9,266.0 889.2,265.3 889.4,266.3 889.7,267.2 889.9,268.0 890.2,268.1 890.4,268.9 890.7,270.4 890.9,269.3 891.2,269.9 891.4,271.5 891.7,272.0 891.9,272.1 892.2,272.5 892.4,273.2 892.7,273.0 892.9,273.2 893.2,273.0 893.4,273.8 893.7,274.2 893.9,274.0 894.2,274.5 894.4,275.5 894.7,276.6 895.1,184.3 895.4,184.3 895.7,184.3 896.0,184.3 896.0,184.3 896.2,270.5 896.5,270.7 896.7,270.1 897.0,270.9 897.2,272.6 897.5,272.1 897.7,272.3 898.0,273.9 898.2,274.4 898.5,274.9 898.7,275.2 899.0,274.7 899.2,275.7 899.5,276.4 899.7,275.2 900.0,276.3 900.2,276.6 900.5,276.7 900.8,277.0 901.0,277.5 901.3,279.0 901.5,278.5 901.8,278.4 902.0,279.5 902.3,279.4 902.5,279.7 902.8,280.0 903.0,279.7 903.3,279.6 903.5,280.5 903.8,281.7 904.0,282.3 904.3,282.7 904.5,283.0 904.8,282.9 905.0,283.8 905.3,283.9 905.6,283.7 905.8,284.4 906.1,284.2 906.3,285.8 906.6,286.6 906.8,285.2 907.1,285.5 907.3,286.2 907.6,287.4 907.8,287.6 908.1,286.9 908.4,273.1 908.6,258.7 908.9,237.4 909.2,238.8 909.4,239.4 909.7,239.2 909.9,238.5 910.2,239.3 910.4,239.8 910.7,240.8 910.9,240.6 911.2,240.4 911.4,240.9 911.7,240.5 911.9,240.7 912.2,240.9 912.4,242.5 912.7,243.2 912.9,242.7 913.2,242.8 913.4,243.3 913.7,244.1 913.9,245.5 914.2,246.2 914.4,246.1 914.7,246.4 914.9,247.2 915.2,247.1 915.4,247.3 915.7,247.6 915.9,247.3 916.2,248.6 916.4,249.6 916.7,249.6 916.9,249.4 917.2,250.2 917.4,252.3 917.7,252.8 917.9,252.3 918.2,252.3 918.4,253.1 918.7,253.3 918.9,254.7 919.2,255.5 919.4,254.3 919.7,255.2 919.9,255.0 920.2,254.3 920.4,254.9 920.7,255.6 920.9,257.4 921.2,246.3 921.5,235.9 921.7,215.3 922.0,215.2 922.2,215.2 922.5,213.8 922.7,213.5 923.0,215.4 923.3,216.3 923.5,216.2 923.8,216.9 924.0,217.9 924.3,218.9 924.5,218.7 924.8,218.4 925.0,219.2 925.3,218.9 925.5,218.4 925.8,218.7 926.1,218.9 926.3,219.2 926.6,220.6 926.8,221.7 927.1,222.6 927.3,223.0 927.6,218.1 927.9,213.9 928.2,210.1 928.5,212.1 928.8,211.9 929.0,212.1 929.2,212.3 929.5,212.2 929.8,212.4 930.0,213.6 930.2,214.0 930.5,213.4 930.8,214.8 931.0,215.7 931.2,214.8 931.5,214.7 931.8,215.5 932.0,215.9 932.2,216.5 932.5,216.9 932.8,216.6 933.0,218.1 933.2,220.1 933.5,220.8 933.8,220.1 934.0,220.0 934.2,220.5 934.5,221.6 934.8,222.3 935.0,222.0 935.2,223.2 935.5,224.1 935.8,223.5 936.0,222.6 936.2,222.8 936.5,222.9 936.8,224.5 937.0,225.5 937.2,225.4 937.5,226.0 937.8,225.6 938.0,226.1 938.2,227.1 938.5,227.3 938.8,227.5 939.0,228.1 939.2,227.9 939.5,228.1 939.8,228.8 940.0,228.8 940.2,229.5 940.5,229.1 940.8,228.7 941.0,230.2 941.2,232.2 941.5,233.0 941.8,232.1 942.0,233.0 942.2,233.9 942.5,233.1 942.8,233.3 943.0,234.9 943.2,235.8 943.5,234.9 943.8,234.3 944.0,235.3 944.2,235.6 944.5,235.4 944.8,236.8 945.0,236.9 945.2,236.4 945.5,237.5 945.8,238.1 946.0,239.1 946.2,239.6 946.5,239.6 946.8,240.3 947.0,240.0 947.2,240.5 947.5,241.9 947.8,241.7 948.0,241.0 948.2,241.3 948.5,242.8 948.8,243.3 949.0,242.6 949.2,242.3 949.5,242.9 949.8,243.2 950.0,244.1 950.2,244.8 950.5,243.9 950.8,245.3 951.0,246.5 951.2,246.6 951.5,246.3 951.8,246.8 952.0,247.8 952.2,247.9 952.5,248.5 952.8,249.4 953.0,249.2 953.2,249.9 953.5,250.6 953.8,250.0 954.0,250.5 954.2,251.0 954.5,251.9 954.8,252.2 955.0,251.7 955.2,251.9 955.5,252.8 955.8,252.3 956.0,251.5 956.2,252.6 956.5,253.9 956.8,245.4 957.1,235.9 957.4,225.6 957.7,215.6 957.9,217.0 958.2,218.5 958.4,219.4 958.7,220.8 958.9,220.7 959.2,221.6 959.4,222.4 959.7,222.2 959.9,223.2 960.2,222.8 960.4,224.7 960.7,226.2 961.0,226.1 961.2,226.5 961.5,225.6 961.7,226.0 962.0,226.9 962.2,227.1 962.5,226.9 962.7,229.0 963.0,230.6 963.2,230.9 963.5,232.6 963.7,232.8 964.0,232.8 964.2,234.2 964.5,235.0 964.7,235.2 965.0,235.1 965.2,235.1 965.5,236.6 965.7,237.6 966.0,238.4 966.3,231.3 966.6,223.5 966.9,215.9 967.2,216.3 967.4,217.1 967.7,216.4 967.9,215.9 968.2,217.8 968.4,219.6 968.7,219.1 968.9,218.4 969.2,220.1 969.4,221.7 969.7,221.7 969.9,220.4 970.2,221.4 970.5,223.5 970.7,224.1 971.0,224.5 971.2,225.1 971.5,225.0 971.7,225.5 972.0,227.0 972.2,227.2 972.5,226.8 972.7,227.0 973.0,228.4 973.2,228.9 973.5,229.8 973.7,230.8 974.0,230.5 974.2,231.4 974.5,232.1 974.7,233.3 975.0,234.7 975.2,233.6 975.5,233.2 975.7,233.1 976.0,234.2 976.2,236.1 976.5,236.3 976.7,235.8 977.0,237.1 977.2,239.1 977.5,238.6 977.7,238.1 978.0,238.6 978.2,239.9 978.5,239.1 978.8,237.4 979.0,235.8 979.3,233.8 979.5,232.4 979.8,230.9 980.0,232.3 980.3,233.7 980.5,233.6 980.8,233.9 981.0,233.8 981.3,233.4 981.5,234.0 981.8,235.3 982.0,236.1 982.3,237.3 982.5,238.6 982.8,238.0 983.1,237.5 983.3,239.1 983.6,238.9 983.8,238.7 984.1,240.8 984.3,241.6 984.6,241.4 984.8,242.2 985.1,242.6 985.3,242.3 985.6,243.3 985.8,244.1 986.1,244.8 986.3,246.0 986.6,247.0 986.8,245.5 987.1,245.4 987.3,247.6 987.6,248.3 987.8,248.4 988.1,248.2 988.4,249.1 988.6,249.3 988.9,248.7 989.1,250.0 989.4,251.8 989.6,251.3 989.9,252.0 990.1,252.7 990.4,252.8 990.6,253.0 990.9,253.3 991.1,254.1 991.4,254.3 991.6,255.4 991.9,256.5 992.1,256.3 992.4,257.3 992.6,257.9 992.9,256.6 993.2,257.4 993.4,259.9 993.7,260.3 993.9,259.0 994.2,259.3 994.4,260.8 994.7,262.0 994.9,262.5 995.2,263.3 995.5,264.4 995.9,264.2 996.1,147.0 996.4,147.0 996.6,147.0 996.9,147.0 997.1,147.0 997.4,147.0 997.7,147.0 997.9,147.0 998.2,147.0 998.4,147.0 998.7,147.0 999.1,147.0 999.4,194.7 999.7,195.3 999.9,195.7 1000.2,196.2 1000.4,197.0 1000.7,198.3 1000.9,197.5 1001.2,198.0 1001.4,199.5 1001.7,200.0 1002.0,200.3 1002.2,198.9 1002.5,199.4 1002.7,201.3 1003.0,202.0 1003.2,202.2 1003.5,201.8 1003.8,201.8 1004.0,202.3 1004.3,202.7 1004.5,203.6 1004.8,204.8 1005.0,205.6 1005.3,206.1 1005.5,206.0 1005.8,206.5 1006.1,207.0 1006.3,206.5 1006.6,207.5 1006.8,208.4 1007.1,208.3 1007.3,209.5 1007.6,210.2 1007.9,210.4 1008.1,211.6 1008.4,212.3 1008.6,212.2 1008.9,212.0 1009.1,210.9 1009.4,209.9 1009.6,210.9 1009.9,214.0 1010.1,214.8 1010.4,213.7 1010.7,214.6 1010.9,215.9 1011.2,216.2 1011.4,216.3 1011.7,216.8 1011.9,216.7 1012.2,216.6 1012.4,216.0 1012.7,216.7 1013.0,218.4 1013.2,219.0 1013.5,220.0 1013.7,219.5 1014.0,218.7 1014.2,220.3 1014.5,220.5 1014.7,220.7 1015.0,222.0 1015.3,222.7 1015.5,222.7 1015.8,223.3 1016.1,223.6 1016.3,224.2 1016.6,225.4 1016.9,225.2 1017.1,225.8 1017.4,227.3 1017.7,227.1 1017.9,226.8 1018.2,225.2 1018.4,224.3 1018.7,223.9 1018.9,221.4 1019.2,219.3 1019.4,217.7 1019.7,216.4 1019.9,218.0 1020.2,218.1 1020.4,218.0 1020.7,217.9 1020.9,219.3 1021.2,220.0 1021.4,219.6 1021.7,220.5 1022.0,221.4 1022.2,222.0 1022.5,221.6 1022.7,221.5 1023.0,222.8 1023.2,223.0 1023.5,223.7 1023.7,225.8 1024.0,226.4 1024.2,225.7 1024.5,224.7 1024.8,225.8 1025.0,227.3 1025.3,227.1 1025.5,227.6 1025.8,228.0 1026.0,228.2 1026.3,229.3 1026.5,229.5 1026.8,229.9 1027.0,230.6 1027.3,230.1 1027.5,230.7 1027.8,231.9 1028.1,231.6 1028.3,232.0 1028.6,232.9 1028.8,234.0 1029.1,233.9 1029.3,233.6 1029.6,235.3 1029.8,236.1 1030.1,235.9 1030.3,236.3 1030.6,237.0 1030.8,238.4 1031.1,238.9 1031.4,231.3 1031.6,223.8 1031.9,214.0 1032.2,213.1 1032.4,214.0 1032.7,215.1 1032.9,216.4 1033.2,215.7 1033.5,216.9 1033.7,218.0 1034.0,218.4 1034.2,218.4 1034.5,218.4 1034.7,219.8 1035.0,219.6 1035.3,219.4 1035.5,220.0 1035.8,220.0 1036.0,220.6 1036.3,220.1 1036.5,220.8 1036.8,222.3 1037.0,221.6 1037.3,222.3 1037.6,222.3 1037.8,221.7 1038.1,223.8 1038.3,225.1 1038.3,275.7 1038.1,275.6 1037.8,273.7 1037.6,273.4 1037.3,274.5 1037.0,274.8 1036.8,273.8 1036.5,272.8 1036.3,273.0 1036.0,272.4 1035.8,271.3 1035.5,271.1 1035.3,270.6 1035.0,270.9 1034.7,270.2 1034.5,268.7 1034.2,268.9 1034.0,269.6 1033.7,269.4 1033.5,267.5 1033.2,267.0 1032.9,266.8 1032.7,266.8 1032.4,267.1 1032.2,265.9 1031.9,265.5 1031.6,273.6 1031.4,280.6 1031.1,288.7 1030.8,289.4 1030.6,290.1 1030.3,289.4 1030.1,287.3 1029.8,287.1 1029.6,286.8 1029.3,285.5 1029.1,284.5 1028.8,283.9 1028.6,283.3 1028.3,282.7 1028.1,283.1 1027.8,283.0 1027.5,281.7 1027.3,281.2 1027.0,281.4 1026.8,280.7 1026.5,280.0 1026.3,279.6 1026.0,279.1 1025.8,280.1 1025.5,279.5 1025.3,278.3 1025.0,278.1 1024.8,277.9 1024.5,277.3 1024.2,275.9 1024.0,276.5 1023.7,277.2 1023.5,276.1 1023.2,274.9 1023.0,274.4 1022.7,274.0 1022.5,273.2 1022.2,272.8 1022.0,272.3 1021.7,271.6 1021.4,270.8 1021.2,269.3 1020.9,269.9 1020.7,271.3 1020.4,271.6 1020.2,270.8 1019.9,268.4 1019.7,268.3 1019.4,270.5 1019.2,271.6 1018.9,272.6 1018.7,274.3 1018.4,276.1 1018.2,277.8 1017.9,279.1 1017.7,277.7 1017.4,276.6 1017.1,275.9 1016.9,276.1 1016.6,276.2 1016.3,275.3 1016.1,275.2 1015.8,275.5 1015.5,274.8 1015.3,273.9 1015.0,273.5 1014.7,272.5 1014.5,271.8 1014.2,272.2 1014.0,271.7 1013.7,270.9 1013.5,270.6 1013.2,269.9 1013.0,269.9 1012.7,270.1 1012.4,269.0 1012.2,268.4 1011.9,267.6 1011.7,268.2 1011.4,268.2 1011.2,266.7 1010.9,266.4 1010.7,266.3 1010.4,265.8 1010.1,264.6 1009.9,264.9 1009.6,264.5 1009.4,264.1 1009.1,264.2 1008.9,263.4 1008.6,262.9 1008.4,261.8 1008.1,261.7 1007.9,261.4 1007.6,260.8 1007.3,261.4 1007.1,261.3 1006.8,260.4 1006.6,258.7 1006.3,258.2 1006.1,258.8 1005.8,258.9 1005.5,258.5 1005.3,257.8 1005.0,257.6 1004.8,257.2 1004.5,255.2 1004.3,255.0 1004.0,254.6 1003.8,255.0 1003.5,255.0 1003.2,253.0 1003.0,252.6 1002.7,253.2 1002.5,253.3 1002.2,251.5 1002.0,250.8 1001.7,250.0 1001.4,249.1 1001.2,249.8 1000.9,250.4 1000.7,250.3 1000.4,249.8 1000.2,249.6 999.9,247.7 999.7,246.6 999.4,247.8 999.1,217.3 998.7,216.2 998.4,215.9 998.2,215.2 997.9,214.6 997.7,215.1 997.4,214.6 997.1,214.1 996.9,213.5 996.6,215.6 996.4,215.9 996.1,214.5 995.9,315.1 995.5,313.7 995.2,314.0 994.9,313.9 994.7,311.6 994.4,311.7 994.2,312.7 993.9,312.6 993.7,311.4 993.4,309.9 993.2,309.8 992.9,309.8 992.6,308.7 992.4,308.6 992.1,308.5 991.9,307.7 991.6,306.0 991.4,304.5 991.1,306.5 990.9,305.7 990.6,304.5 990.4,305.7 990.1,303.6 989.9,300.6 989.6,301.4 989.4,303.6 989.1,302.9 988.9,302.0 988.6,302.1 988.4,301.4 988.1,300.1 987.8,299.1 987.6,299.8 987.3,300.8 987.1,299.4 986.8,297.6 986.6,296.0 986.3,296.6 986.1,298.3 985.8,296.5 985.6,295.3 985.3,294.6 985.1,294.0 984.8,293.7 984.6,293.2 984.3,293.1 984.1,291.1 983.8,290.9 983.6,292.3 983.3,291.6 983.1,291.1 982.8,290.3 982.5,289.8 982.3,289.0 982.0,287.6 981.8,287.6 981.5,286.7 981.3,286.6 981.0,286.9 980.8,286.5 980.5,286.0 980.3,284.8 980.0,284.4 979.8,283.9 979.5,284.1 979.3,286.3 979.0,288.8 978.8,290.3 978.5,291.0 978.2,290.9 978.0,291.1 977.7,291.2 977.5,291.4 977.2,290.5 977.0,288.4 976.7,287.3 976.5,287.1 976.2,287.9 976.0,287.6 975.7,285.8 975.5,284.6 975.2,284.5 975.0,283.4 974.7,283.4 974.5,281.9 974.2,280.6 974.0,282.0 973.7,282.1 973.5,280.9 973.2,280.3 973.0,278.4 972.7,277.1 972.5,277.9 972.2,277.9 972.0,277.2 971.7,276.9 971.5,276.8 971.2,275.4 971.0,274.6 970.7,275.1 970.5,275.0 970.2,273.7 969.9,273.1 969.7,273.4 969.4,272.7 969.2,272.2 968.9,271.6 968.7,270.8 968.4,271.1 968.2,269.7 967.9,267.4 967.7,267.1 967.4,267.7 967.2,267.8 966.9,267.1 966.6,275.1 966.3,282.1 966.0,289.0 965.7,288.7 965.5,289.9 965.2,288.9 965.0,286.7 964.7,287.0 964.5,286.5 964.2,285.4 964.0,284.3 963.7,283.2 963.5,283.1 963.2,283.1 963.0,283.0 962.7,282.4 962.5,280.6 962.2,280.5 962.0,280.5 961.7,279.5 961.5,278.8 961.2,278.7 961.0,278.2 960.7,276.2 960.4,274.9 960.2,275.7 959.9,275.3 959.7,275.0 959.4,274.8 959.2,273.6 958.9,272.6 958.7,270.9 958.4,270.9 958.2,271.4 957.9,269.5 957.7,269.2 957.4,279.7 957.1,288.3 956.8,296.2 956.5,305.0 956.2,305.7 956.0,304.7 955.8,304.1 955.5,304.6 955.2,303.8 955.0,303.5 954.8,303.5 954.5,302.7 954.2,302.5 954.0,301.5 953.8,301.4 953.5,300.3 953.2,299.5 953.0,300.5 952.8,299.6 952.5,300.1 952.2,299.1 952.0,298.5 951.8,299.0 951.5,298.4 951.2,298.2 951.0,297.1 950.8,295.8 950.5,295.5 950.2,296.6 950.0,296.0 949.8,294.8 949.5,294.5 949.2,294.1 949.0,294.0 948.8,294.2 948.5,293.7 948.2,292.7 948.0,291.9 947.8,291.2 947.5,291.5 947.2,291.0 947.0,290.2 946.8,290.0 946.5,289.7 946.2,289.8 946.0,289.8 945.8,289.5 945.5,288.9 945.2,288.6 945.0,288.3 944.8,287.7 944.5,288.3 944.2,287.8 944.0,287.4 943.8,287.1 943.5,286.3 943.2,285.4 943.0,283.9 942.8,285.0 942.5,285.4 942.2,285.5 942.0,285.4 941.8,284.0 941.5,284.1 941.2,285.2 941.0,283.2 940.8,280.7 940.5,280.8 940.2,281.9 940.0,281.7 939.8,280.7 939.5,280.2 939.2,278.7 939.0,278.6 938.8,279.2 938.5,278.8 938.2,279.6 938.0,279.2 937.8,276.8 937.5,276.0 937.2,277.9 937.0,277.9 936.8,275.0 936.5,275.1 936.2,275.0 936.0,273.3 935.8,273.0 935.5,274.3 935.2,273.5 935.0,272.5 934.8,272.2 934.5,271.0 934.2,271.1 934.0,271.0 933.8,270.2 933.5,269.5 933.2,269.8 933.0,268.9 932.8,268.9 932.5,269.9 932.2,269.1 932.0,268.6 931.8,268.1 931.5,267.7 931.2,267.4 931.0,266.5 930.8,266.0 930.5,265.0 930.2,265.2 930.0,264.7 929.8,263.8 929.5,264.4 929.2,263.8 929.0,262.6 928.8,261.2 928.5,260.9 928.2,266.5 927.9,270.8 927.6,274.2 927.3,277.8 927.1,277.2 926.8,277.6 926.6,277.4 926.3,277.4 926.1,277.4 925.8,275.8 925.5,274.7 925.3,275.1 925.0,275.6 924.8,275.6 924.5,274.5 924.3,272.4 924.0,272.6 923.8,273.0 923.5,271.9 923.3,272.2 923.0,272.6 922.7,272.4 922.5,271.1 922.2,270.0 922.0,271.7 921.7,272.5 921.5,273.0 921.2,282.7 920.9,294.3 920.7,293.6 920.4,293.1 920.2,292.2 919.9,292.8 919.7,292.5 919.4,290.9 919.2,291.2 918.9,291.3 918.7,291.1 918.4,291.2 918.2,291.0 917.9,290.4 917.7,290.1 917.4,289.6 917.2,289.0 916.9,288.0 916.7,286.8 916.4,286.9 916.2,287.3 915.9,287.1 915.7,286.9 915.4,285.9 915.2,284.9 914.9,284.5 914.7,284.1 914.4,283.4 914.2,282.7 913.9,282.6 913.7,282.2 913.4,282.2 913.2,281.8 912.9,281.4 912.7,280.2 912.4,280.3 912.2,281.3 911.9,281.1 911.7,281.1 911.4,278.9 911.2,277.4 910.9,278.1 910.7,279.0 910.4,277.0 910.2,274.7 909.9,276.6 909.7,277.9 909.4,276.4 909.2,275.2 908.9,276.3 908.6,281.7 908.4,294.7 908.1,309.4 907.8,308.1 907.6,307.2 907.3,307.1 907.1,306.7 906.8,307.2 906.6,307.5 906.3,307.0 906.1,306.8 905.8,306.4 905.6,305.4 905.3,305.4 905.0,305.7 904.8,303.9 904.5,303.2 904.3,304.1 904.0,304.2 903.8,303.2 903.5,302.9 903.3,302.9 903.0,302.3 902.8,302.1 902.5,302.3 902.3,300.8 902.0,300.0 901.8,301.2 901.5,301.3 901.3,298.9 901.0,297.8 900.8,297.8 900.5,297.9 900.2,299.4 900.0,299.4 899.7,299.0 899.5,298.4 899.2,297.8 899.0,297.1 898.7,296.2 898.5,295.0 898.2,293.7 898.0,294.6 897.7,294.7 897.5,294.0 897.2,293.4 897.0,293.6 896.7,294.6 896.5,293.8 896.2,293.1 896.0,292.3 896.0,218.3 895.7,219.5 895.4,219.2 895.1,218.5 894.7,298.7 894.4,298.6 894.2,298.3 893.9,297.8 893.7,297.1 893.4,296.7 893.2,295.8 892.9,295.1 892.7,295.4 892.4,295.7 892.2,293.9 891.9,293.0 891.7,294.5 891.4,295.1 891.2,293.6 890.9,292.7 890.7,292.3 890.4,291.6 890.2,291.4 889.9,290.9 889.7,290.6 889.4,291.0 889.2,290.1 888.9,288.5 888.7,289.2 888.4,288.7 888.2,287.4 887.9,287.5 887.7,286.7 887.4,285.9 887.2,285.3 886.9,285.7 886.7,286.4 886.4,285.5 886.2,284.9 885.9,284.2 885.7,283.2 885.4,283.1 885.2,282.8 884.9,282.4 884.7,282.4 884.4,283.2 884.2,283.1 883.9,280.7 883.7,279.8 883.4,280.6 883.2,281.4 882.9,280.1 882.7,278.4 882.4,278.9 882.2,279.4 881.9,277.9 881.7,276.7 881.4,278.8 881.2,277.8 880.9,276.4 880.7,276.9 880.4,276.7 880.2,275.7 879.9,275.2 879.7,275.4 879.4,275.2 879.2,274.7 878.9,273.6 878.7,273.2 878.4,273.4 878.2,273.8 877.9,272.2 877.7,271.9 877.4,272.1 877.2,270.6 876.9,269.7 876.7,270.3 876.4,270.7 876.2,269.7 875.9,269.3 875.7,269.4 875.4,268.6 875.2,267.7 874.9,267.8 874.7,268.0 874.4,267.0 874.2,266.5 873.9,266.5 873.7,266.7 873.4,268.2 873.2,268.2 872.9,268.8 872.7,268.9 872.4,268.2 872.2,269.8 871.9,271.0 871.7,270.2 871.4,269.2 871.2,268.6 870.9,269.8 870.7,269.6 870.4,268.7 870.2,267.8 869.9,267.1 869.7,267.3 869.4,266.5 869.2,266.1 868.9,266.5 868.7,265.1 868.4,264.2 868.2,265.4 867.9,265.6 867.7,264.3 867.4,262.9 867.2,263.6 866.9,263.7 866.7,262.7 866.4,279.1 866.1,300.7 865.8,301.6 865.6,300.2 865.3,299.2 865.1,298.8 864.8,298.5 864.6,297.5 864.3,296.9 864.1,298.3 863.8,298.7 863.6,297.3 863.3,296.5 863.1,296.9 862.8,296.3 862.6,295.9 862.3,295.7 862.1,295.4 861.8,295.2 861.5,295.1 861.3,294.7 861.0,293.8 860.8,293.7 860.5,292.7 860.3,292.9 860.0,293.4 859.8,293.4 859.5,293.0 859.3,292.4 859.0,292.7 858.8,292.4 858.5,291.9 858.3,290.7 858.0,290.2 857.8,291.0 857.5,290.0 857.3,288.5 857.0,288.1 856.8,287.5 856.5,287.7 856.3,288.7 856.0,288.6 855.8,286.4 855.5,285.6 855.3,285.5 855.0,286.1 855.0,286.9 854.7,285.8 854.5,284.8 854.2,284.7 854.0,284.4 853.7,284.2 853.5,284.5 853.2,283.9 852.9,283.7 852.7,283.9 852.4,282.7 852.2,283.3 851.9,283.8 851.7,283.0 851.4,282.2 851.2,280.7 850.9,281.6 850.6,281.0 850.4,280.3 850.1,280.8 849.9,280.8 849.6,280.3 849.4,279.8 849.1,280.1 848.8,279.0 848.6,277.8 848.3,276.7 848.1,277.1 847.8,278.5 847.6,277.3 847.3,276.6 847.1,276.2 846.8,276.0 846.6,275.6 846.3,274.2 846.1,274.4 845.8,273.4 845.6,273.8 845.3,275.1 845.1,274.2 844.8,274.1 844.6,273.7 844.3,272.8 844.1,272.9 843.8,272.3 843.6,281.4 843.3,291.9 843.0,304.1 842.8,303.7 842.5,302.4 842.2,301.0 842.0,300.8 841.8,302.6 841.5,302.0 841.2,300.5 841.0,299.7 840.8,299.3 840.5,299.4 840.2,299.2 840.0,299.3 839.8,299.6 839.5,298.5 839.2,298.2 839.0,297.9 838.8,298.0 838.5,298.0 838.2,297.1 838.0,298.6 837.8,298.3 837.5,297.0 837.2,296.2 837.0,294.8 836.8,294.2 836.5,293.9 836.2,294.2 836.0,293.4 835.8,293.2 835.5,294.3 835.2,294.4 835.0,294.1 834.7,292.7 834.5,292.2 834.2,292.2 834.0,292.3 833.7,291.7 833.5,291.1 833.2,291.0 833.0,291.4 832.7,291.4 832.4,289.1 832.2,288.1 831.9,289.2 831.7,289.7 831.4,288.8 831.2,288.4 830.9,296.7 830.6,304.0 830.3,312.4 830.1,313.2 829.8,312.5 829.6,311.9 829.3,310.5 829.1,309.8 828.8,308.9 828.6,308.1 828.3,308.6 828.0,309.1 827.8,307.8 827.5,307.5 827.3,307.5 827.0,307.4 826.8,307.0 826.5,305.7 826.3,305.7 826.0,305.2 825.8,304.6 825.5,303.4 825.3,303.3 825.0,303.8 824.7,303.7 824.5,302.5 824.2,301.9 824.0,302.6 823.7,301.4 823.5,301.1 823.2,302.2 823.0,300.4 822.7,298.1 822.4,298.7 822.2,299.6 821.9,298.7 821.7,298.5 821.4,298.7 821.2,298.2 820.9,303.5 820.6,309.0 820.3,313.4 820.1,312.3 819.8,311.2 819.5,310.8 819.3,312.1 819.0,311.5 818.8,310.0 818.5,309.5 818.2,309.3 818.0,308.1 817.7,307.6 817.5,307.3 817.2,307.3 816.9,308.1 816.7,306.5 816.4,305.2 816.2,304.3 815.9,305.9 815.7,306.6 815.4,304.7 815.2,303.8 814.9,302.5 814.6,302.6 814.4,302.3 814.1,301.7 813.9,301.6 813.6,301.8 813.4,302.0 813.1,301.0 812.9,299.5 812.6,300.8 812.4,300.9 812.1,299.0 811.9,298.0 811.6,298.4 811.4,298.8 811.1,297.8 810.9,297.6 810.6,296.6 810.4,296.1 810.1,296.5 809.8,296.6 809.6,296.3 809.3,294.8 809.1,293.8 808.8,294.2 808.6,293.6 808.3,293.7 808.1,293.5 807.8,292.8 807.6,292.6 807.3,292.4 807.1,292.7 806.8,292.5 806.6,291.7 806.3,291.1 806.1,290.7 805.8,290.3 805.6,288.8 805.3,287.2 805.1,288.4 804.8,289.4 804.6,288.4 804.3,286.8 804.1,286.0 803.8,287.6 803.6,288.4 803.3,287.5 803.1,286.8 802.8,285.3 802.6,284.6 802.3,284.5 802.1,283.9 801.8,282.8 801.6,282.9 801.3,283.0 801.1,282.1 800.8,280.8 800.6,280.6 800.3,281.8 800.1,282.6 799.8,282.0 799.6,280.3 799.3,279.0 799.1,279.5 798.8,280.7 798.6,278.6 798.3,277.6 798.1,278.5 797.8,278.1 797.6,278.2 797.3,277.3 797.1,277.0 796.8,276.9 796.6,275.4 796.3,274.9 796.1,276.4 795.8,276.1 795.6,275.2 795.3,275.0 795.1,274.4 794.8,274.1 794.6,273.9 794.3,273.6 794.1,272.4 793.8,272.5 793.6,272.4 793.3,271.5 793.1,272.3 792.8,272.6 792.6,270.7 792.3,269.7 792.1,269.8 791.8,270.9 791.6,270.5 791.3,268.9 791.1,269.3 790.8,269.6 790.6,268.1 790.3,267.5 790.1,267.3 789.8,266.5 789.6,266.7 789.3,266.6 789.1,266.7 788.8,265.7 788.6,264.5 788.3,264.8 788.1,264.3 787.8,264.5 787.6,263.8 787.3,263.6 787.1,264.3 786.8,264.3 786.6,263.4 786.3,263.1 786.1,262.4 785.8,261.4 785.6,261.0 785.3,261.3 785.1,262.9 784.8,260.4 784.6,259.2 784.3,260.6 784.1,261.1 783.8,260.0 783.6,258.5 783.3,258.6 783.1,258.3 782.8,258.1 782.6,258.7 782.3,257.8 782.1,256.9 781.8,257.5 781.6,256.8 781.3,256.9 781.1,257.6 780.8,255.8 780.6,255.1 780.3,255.9 780.1,255.5 779.8,256.2 779.6,256.0 779.3,255.8 779.1,255.8 778.8,255.2 778.6,253.9 778.3,252.5 778.1,253.5 777.8,253.1 777.6,252.1 777.3,252.3 777.1,253.3 776.8,252.4 776.6,250.9 776.3,250.6 776.1,250.1 775.8,250.9 775.6,252.1 775.3,252.3 775.1,251.4 774.8,250.6 774.6,249.7 774.3,250.0 774.1,249.6 773.8,248.5 773.6,249.3 773.3,249.1 773.1,248.5 772.8,248.0 772.6,263.8 772.3,283.3 772.0,303.1 771.8,302.8 771.5,302.7 771.2,301.7 771.0,301.3 770.8,301.2 770.5,300.6 770.2,300.4 770.0,299.9 769.7,299.5 769.5,298.8 769.2,298.7 769.0,298.6 768.7,298.3 768.5,298.1 768.2,297.7 767.9,297.6 767.7,297.3 767.4,297.1 767.2,296.7 766.9,295.5 766.7,295.9 766.4,296.1 766.2,295.0 765.9,295.1 765.6,295.3 765.4,294.9 765.1,294.5 764.9,293.9 764.6,293.6 764.4,293.6 764.1,293.1 763.8,293.0 763.6,293.6 763.3,293.0 763.1,291.9 762.8,291.3 762.6,291.0 762.3,291.0 762.1,290.7 761.8,290.3 761.6,289.3 761.3,289.1 761.1,289.4 760.8,289.5 760.6,289.1 760.3,288.3 760.0,287.7 759.8,287.6 759.5,287.8 759.3,287.6 759.0,287.5 758.8,286.9 758.5,286.3 758.3,286.2 758.0,286.2 757.8,285.8 757.5,285.5 757.3,285.3 757.0,284.6 756.8,284.1 756.5,284.1 756.3,284.2 756.0,283.7 755.8,283.2 755.5,282.9 755.3,282.4 755.0,282.2 754.7,281.9 754.5,281.8 754.2,281.4 754.0,280.4 753.7,280.0 753.5,280.5 753.2,280.4 752.9,279.3 752.7,278.1 752.4,278.2 752.2,278.3 751.9,278.2 751.7,277.9 751.4,277.2 751.2,276.6 750.9,275.7 750.6,275.8 750.4,275.9 750.1,275.1 749.9,274.4 749.6,273.7 749.4,273.0 749.1,272.8 748.8,273.3 748.6,273.1 748.3,272.4 748.1,271.9 747.8,271.6 747.6,271.1 747.3,270.3 747.0,269.9 746.8,269.8 746.5,269.7 746.3,269.4 746.0,268.4 745.8,267.7 745.5,268.2 745.3,268.2 745.0,268.2 744.7,268.2 744.5,267.3 744.2,266.6 744.0,265.9 743.7,265.4 743.5,265.1 743.2,265.1 743.0,265.0 742.7,264.0 742.4,263.5 742.2,263.5 741.9,263.1 741.7,263.0 741.4,262.3 741.2,262.1 740.9,262.0 740.6,260.9 740.4,260.7 740.1,260.6 739.9,259.8 739.6,259.9 739.4,259.0 739.1,258.2 738.8,258.3 738.6,258.1 738.3,257.8 738.1,257.7 737.8,257.5 737.6,256.6 737.3,256.1 737.1,255.6 736.8,254.4 736.5,254.2 736.3,253.4 736.0,252.5 735.8,252.5 735.5,252.5 735.3,251.9 735.0,251.2 734.7,251.0 734.5,251.0 734.2,251.2 734.0,250.0 733.7,248.4 733.4,248.5 733.2,249.1 732.9,248.9 732.7,247.6 732.4,246.8 732.1,247.1 731.9,246.8 731.6,246.3 731.4,245.9 731.1,245.5 730.8,244.9 730.6,248.5 730.3,252.6 730.0,257.0 729.7,257.2 729.5,256.9 729.2,256.2 729.0,255.5 728.7,255.8 728.5,255.8 728.2,254.7 728.0,254.2 727.7,254.1 727.4,254.0 727.2,253.8 726.9,253.5 726.7,253.4 726.4,253.3 726.1,252.6 725.9,252.1 725.6,252.0 725.3,251.5 725.1,251.1 724.8,250.7 724.5,250.5 724.3,250.7 724.0,250.2 723.7,260.3 723.3,271.1 723.1,271.2 722.8,271.2 722.6,270.4 722.3,269.8 722.0,269.4 721.8,268.7 721.5,269.1 721.2,268.2 721.0,267.1 720.7,267.2 720.5,267.0 720.2,266.6 719.9,266.6 719.7,266.6 719.4,265.6 719.2,264.2 718.9,264.3 718.6,264.3 718.3,263.3 718.1,263.0 717.8,263.3 717.5,262.6 717.2,261.8 717.0,261.2 716.7,261.2 716.4,260.7 716.2,259.9 715.9,259.5 715.7,259.6 715.4,260.1 715.1,259.3 714.9,258.6 714.6,257.8 714.3,256.8 714.1,264.3 713.8,271.4 713.6,277.8 713.3,284.8 713.1,284.8 712.8,284.3 712.6,283.5 712.3,283.1 712.1,282.8 711.8,282.4 711.6,281.8 711.3,282.0 711.1,281.6 710.8,280.5 710.6,281.0 710.3,281.1 710.1,280.5 709.8,280.4 709.5,279.8 709.3,279.1 709.0,279.4 708.8,279.1 708.5,278.1 708.2,278.4 708.0,279.0 707.7,278.7 707.4,277.7 707.2,276.7 706.9,276.7 706.7,276.6 706.4,276.2 706.2,275.9 705.9,275.9 705.7,275.8 705.4,275.4 705.2,275.1 704.9,274.4 704.7,274.4 704.4,274.0 704.2,273.4 703.9,273.6 703.7,273.2 703.4,272.8 703.2,272.8 702.9,272.6 702.7,272.5 702.4,272.8 702.2,272.3 701.9,271.8 701.7,271.1 701.4,271.4 701.2,271.8 700.9,271.3 700.7,270.9 700.4,269.8 700.2,269.6 699.9,269.5 699.7,269.2 699.4,269.0 699.2,268.3 698.9,268.2 698.7,268.0 698.3,283.3 698.0,295.9 697.8,295.7 697.5,295.7 697.2,295.7 697.0,295.5 696.8,295.3 696.5,295.2 696.2,295.1 696.0,295.0 695.8,294.9 695.5,294.9 695.2,294.6 695.0,294.3 694.8,294.0 694.5,293.5 694.2,293.5 694.0,293.2 693.8,292.6 693.5,292.1 693.2,291.7 693.0,291.3 692.8,291.1 692.5,290.8 692.2,290.7 692.0,290.5 691.8,290.4 691.5,290.4 691.2,290.6 691.0,290.9 690.8,290.9 690.5,291.2 690.2,291.6 690.0,291.7 689.7,291.6 689.5,291.6 689.2,291.4 689.0,291.2 688.7,291.2 688.5,291.0 688.2,290.9 688.0,290.9 687.7,290.7 687.4,290.6 687.2,290.4 686.9,290.3 686.7,290.2 686.4,290.1 686.1,289.8 685.9,289.6 685.6,289.1 685.4,288.8 685.1,288.6 684.8,288.1 684.6,288.1 684.3,288.1 684.1,287.7 683.8,287.4 683.5,287.1 683.3,287.0 683.0,286.8 682.8,286.4 682.5,285.8 682.2,285.4 682.0,285.4 681.7,285.0 681.4,284.4 681.2,284.0 680.9,283.5 680.7,283.0 680.4,282.5 680.1,282.0 679.9,281.5 679.6,281.2 679.3,281.1 679.1,282.5 678.8,283.7 678.6,285.0 678.3,286.2 678.1,286.0 677.8,285.5 677.6,285.4 677.3,285.5 677.1,285.3 676.8,285.1 676.6,284.7 676.3,284.4 676.1,284.3 675.8,284.3 675.6,284.0 675.3,283.6 675.1,283.3 674.8,282.9 674.5,282.3 674.3,282.0 674.0,281.7 673.8,281.3 673.5,280.9 673.3,280.3 673.0,279.8 672.8,279.5 672.5,279.4 672.2,279.0 672.0,278.4 671.7,278.1 671.4,277.7 671.2,277.1 670.9,276.7 670.7,276.5 670.4,276.2 670.1,275.6 669.9,275.3 669.6,275.0 669.3,274.3 669.1,282.5 668.8,290.4 668.6,298.7 668.3,307.0 668.1,306.3 667.8,305.7 667.6,305.3 667.3,305.1 667.0,304.7 666.8,304.3 666.5,304.0 666.3,303.4 666.0,303.0 665.8,302.7 665.5,301.9 665.3,301.6 665.0,301.4 664.7,300.5 664.5,299.9 664.2,299.5 663.9,298.8 663.6,298.2 663.4,297.9 663.1,297.4 662.8,296.7 662.5,298.9 662.2,301.0 662.0,303.0 661.7,305.2 661.4,304.6 661.2,303.9 660.9,303.2 660.7,303.0 660.4,302.5 660.2,302.0 659.9,301.6 659.7,301.1 659.4,300.8 659.2,300.3 658.9,299.9 658.7,299.2 658.4,298.5 658.2,298.0 657.9,297.7 657.7,297.3 657.4,296.5 657.2,296.0 656.9,295.6 656.7,295.4 656.4,297.1 656.1,298.7 655.9,300.8 655.6,302.5 655.3,304.2 655.0,302.9 654.8,301.7 654.5,300.5 654.2,299.2 653.9,297.9 653.9,109.4 653.6,109.3 653.3,109.3 653.0,109.5 652.7,299.4 652.4,299.0 652.1,298.6 651.9,298.1 651.6,297.9 651.3,297.3 651.1,296.8 650.8,296.6 650.5,296.2 650.3,295.6 650.0,295.3 649.7,295.0 649.5,294.4 649.2,293.7 649.0,293.6 648.7,293.4 648.5,292.8 648.2,292.3 648.0,291.9 647.7,291.5 647.4,291.2 647.2,291.0 646.9,290.7 646.7,290.3 646.4,290.1 646.2,289.7 645.9,289.2 645.6,288.9 645.4,288.4 645.1,288.3 644.9,288.1 644.6,287.6 644.4,287.3 644.1,286.9 643.8,286.5 643.6,286.3 643.3,286.0 643.1,291.0 642.8,296.1 642.5,301.1 642.2,300.5 642.0,300.1 641.7,299.6 641.5,298.9 641.2,298.5 641.0,298.4 640.7,297.9 640.5,297.3 640.2,296.7 639.9,296.4 639.7,296.2 639.4,295.5 639.2,295.2 638.9,295.1 638.6,294.6 638.4,294.0 638.1,293.7 637.8,293.6 637.5,293.3 637.3,293.0 637.0,292.7 636.7,295.0 636.4,297.7 636.1,300.3 635.8,302.5 635.6,302.1 635.3,301.9 635.1,301.5 634.8,301.1 634.5,300.6 634.3,300.3 634.0,299.9 633.8,299.6 633.5,299.4 633.2,299.1 633.0,298.6 632.7,298.4 632.4,298.0 632.2,297.4 631.9,297.2 631.7,297.0 631.4,296.3 631.1,295.8 630.9,295.5 630.6,295.1 630.4,294.9 630.1,294.5 629.8,294.1 629.6,293.8 629.3,293.3 629.1,292.8 628.8,292.3 628.5,292.0 628.3,291.5 628.0,291.0 627.8,290.6 627.5,290.2 627.2,290.2 627.0,290.2 626.8,290.5 626.5,290.7 626.2,290.5 626.0,290.5 625.8,290.8 625.5,291.0 625.2,290.9 625.0,291.0 624.8,290.7 624.5,290.1 624.2,289.8 624.0,289.4 623.8,289.0 623.5,288.6 623.2,288.2 623.0,288.0 622.8,287.6 622.5,287.0 622.2,287.0 622.0,286.6 621.8,286.2 621.5,285.8 621.2,285.1 621.0,284.8 620.8,284.8 620.5,284.5 620.2,284.0 620.0,283.5 619.8,283.1 619.5,282.8 619.2,282.6 619.0,282.5 618.8,282.2 618.5,281.6 618.2,281.0 618.0,281.0 617.8,281.1 617.5,280.7 617.2,280.5 617.0,280.2 616.7,293.4 616.4,305.4 616.1,317.4 615.8,329.0 615.6,329.3 615.3,329.1 615.1,328.1 614.8,327.6 614.5,326.9 614.3,326.6 614.0,326.3 613.8,325.7 613.5,325.4 613.2,324.9 613.0,323.8 612.7,323.5 612.4,323.5 612.2,322.9 611.9,322.6 611.7,321.3 611.4,321.2 611.1,322.0 610.9,321.2 610.6,319.9 610.4,319.4 610.1,319.7 609.8,320.1 609.6,319.2 609.3,318.6 609.1,318.9 608.8,318.5 608.5,317.8 608.3,317.4 608.0,317.1 607.8,316.8 607.5,316.0 607.2,315.1 607.0,314.8 606.7,315.3 606.5,315.0 606.2,314.1 606.0,313.7 605.7,314.0 605.4,313.8 605.2,313.5 604.9,313.5 604.7,312.9 604.4,313.4 604.1,314.7 603.9,315.3 603.6,315.5 603.3,316.3 603.1,315.5 602.8,314.9 602.6,314.7 602.3,314.1 602.0,313.5 601.8,313.7 601.5,313.7 601.3,313.2 601.0,312.3 600.8,311.6 600.5,311.1 600.3,310.6 600.0,310.1 599.8,309.7 599.5,309.4 599.2,308.5 599.0,308.1 598.8,308.2 598.5,307.8 598.2,307.4 598.0,307.3 597.7,308.9 597.5,310.7 597.2,311.9 596.9,313.1 596.7,314.8 596.4,314.7 596.2,314.9 595.9,314.3 595.6,313.9 595.4,314.3 595.1,313.6 594.9,312.8 594.6,313.1 594.4,313.3 594.1,312.7 593.8,311.8 593.6,311.3 593.3,311.3 593.1,311.1 592.8,311.0 592.6,310.7 592.3,310.2 592.1,309.6 591.8,308.1 591.6,307.5 591.3,308.2 591.1,309.4 590.8,310.4 590.5,311.8 590.3,313.7 590.0,315.4 589.8,314.3 589.5,313.7 589.2,313.6 589.0,313.1 588.8,312.9 588.5,312.5 588.2,312.1 588.0,311.5 587.8,310.7 587.5,310.7 587.2,310.4 587.0,310.6 586.8,309.8 586.5,308.4 586.2,308.0 586.0,307.9 585.8,308.2 585.5,308.0 585.2,306.5 585.0,305.9 585.0,303.5 584.7,302.8 584.5,303.4 584.2,302.7 584.0,301.8 583.7,302.4 583.5,302.1 583.2,301.1 583.0,301.1 582.7,302.0 582.4,301.7 582.2,301.1 581.9,300.7 581.7,300.4 581.4,309.4 581.1,317.4 580.8,325.6 580.6,325.3 580.3,325.2 580.0,324.8 579.8,323.5 579.5,323.1 579.2,323.3 578.9,323.0 578.7,321.8 578.4,322.5 578.1,324.2 577.8,325.3 577.5,326.4 577.2,326.1 577.0,325.7 576.7,325.2 576.4,324.3 576.1,324.1 575.9,324.7 575.6,324.3 575.3,323.8 575.0,329.7 574.7,334.4 574.4,334.2 574.2,334.6 573.9,334.3 573.7,333.9 573.4,333.4 573.2,333.2 572.9,333.4 572.7,333.1 572.4,332.8 572.2,332.3 571.9,331.7 571.7,332.0 571.4,332.3 571.2,331.4 570.9,330.4 570.7,330.4 570.4,329.9 570.2,329.2 569.9,328.7 569.7,328.2 569.4,328.0 569.2,327.9 568.9,327.7 568.7,327.0 568.4,326.1 568.2,325.7 567.9,325.5 567.7,324.9 567.4,324.0 567.2,324.2 566.9,324.0 566.7,323.7 566.4,323.3 566.2,322.7 565.9,322.2 565.6,321.6 565.4,321.1 565.1,320.6 564.9,320.0 564.6,319.7 564.4,319.7 564.1,319.0 563.8,318.1 563.6,317.8 563.3,318.2 563.1,317.6 562.8,316.7 562.6,316.8 562.3,316.1 562.1,314.9 561.8,315.0 561.5,314.7 561.3,314.1 561.0,313.6 560.8,313.0 560.5,312.8 560.3,312.4 560.0,311.8 559.8,311.9 559.5,310.9 559.2,309.9 559.0,310.0 558.8,309.2 558.5,309.0 558.2,309.5 558.0,308.5 557.8,307.9 557.5,307.4 557.2,306.8 557.0,307.1 556.8,307.0 556.5,306.2 556.2,305.1 556.0,304.8 555.8,304.8 555.5,303.9 555.2,303.2 555.0,303.2 554.8,303.6 554.5,303.0 554.2,301.7 554.0,301.9 553.8,302.5 553.5,302.4 553.2,301.7 553.0,301.4 552.8,301.3 552.5,300.8 552.2,301.3 551.9,302.8 551.6,304.5 551.3,305.5 551.1,304.7 550.8,304.1 550.5,303.7 550.3,303.8 550.0,303.8 549.7,303.5 549.5,303.4 549.2,303.7 549.0,303.8 548.7,304.0 548.4,304.3 548.2,304.0 547.9,303.5 547.7,303.2 547.4,303.1 547.1,302.9 546.9,303.2 546.6,304.0 546.4,303.6 546.1,303.5 545.8,303.7 545.6,309.1 545.3,315.2 545.0,320.8 544.7,319.7 544.4,319.2 544.2,318.0 543.9,317.8 543.6,317.2 543.3,317.2 543.1,317.9 542.8,317.6 542.5,317.8 542.2,319.2 541.9,320.2 541.7,322.3 541.4,322.1 541.2,321.5 540.9,320.4 540.6,319.9 540.4,319.9 540.1,319.2 539.9,319.2 539.6,319.3 539.4,318.9 539.1,318.1 538.8,317.5 538.6,316.9 538.3,316.1 538.1,316.6 537.8,316.2 537.6,316.0 537.3,316.3 537.0,315.7 536.8,316.2 536.5,316.5 536.3,315.3 536.0,315.4 535.7,326.4 535.3,336.7 535.1,336.7 534.8,339.5 534.6,339.2 534.3,338.7 534.1,338.8 533.8,339.1 533.6,338.6 533.3,337.4 533.1,336.2 532.8,335.8 532.6,336.2 532.3,336.7 532.1,335.6 531.8,335.0 531.6,333.8 531.3,333.5 531.1,334.4 530.8,333.1 530.6,332.6 530.3,332.3 530.1,332.3 529.8,332.4 529.6,332.0 529.3,332.5 529.1,331.9 528.8,332.1 528.6,332.9 528.3,332.3 528.1,332.2 527.8,331.6 527.6,330.8 527.3,329.8 527.1,329.4 526.8,330.5 526.6,329.9 526.3,328.9 526.1,331.2 525.8,332.6 525.5,333.1 525.3,333.7 525.0,335.2 524.8,335.1 524.5,335.3 524.2,334.3 524.0,333.0 523.8,333.0 523.5,332.0 523.2,332.5 523.0,332.4 522.8,331.2 522.5,331.9 522.2,331.7 522.0,332.3 521.8,332.0 521.5,330.1 521.2,330.2 521.0,329.7 520.8,330.0 520.5,330.4 520.2,329.9 520.0,330.1 519.7,333.0 519.4,336.0 519.2,338.9 518.9,339.0 518.6,339.4 518.4,338.8 518.1,337.7 517.9,336.3 517.6,336.5 517.3,336.8 517.1,336.9 516.8,337.9 516.6,337.2 516.3,336.2 516.0,335.7 515.8,334.7 515.5,334.3 515.3,335.2 515.0,334.3 514.7,333.6 514.4,335.2 514.2,334.9 513.9,335.2 513.6,336.2 513.3,336.1 513.1,334.5 512.8,334.1 512.5,333.6 512.2,332.9 512.0,332.7 511.8,332.3 511.5,332.1 511.2,333.1 511.0,334.0 510.8,333.0 510.5,332.8 510.2,333.2 510.0,333.8 509.7,340.5 509.4,346.3 509.2,352.0 508.9,350.0 508.7,350.0 508.4,351.3 508.1,350.1 507.9,350.2 507.6,350.1 507.4,350.2 507.1,349.4 506.9,348.9 506.6,349.2 506.3,347.8 506.1,347.4 505.8,346.3 505.6,346.4 505.3,347.4 505.1,347.3 504.8,345.6 504.5,344.1 504.3,343.9 504.0,343.6 503.8,345.0 503.5,344.5 503.2,343.1 503.0,341.9 502.7,342.3 502.4,343.1 502.2,342.2 501.9,340.9 501.7,339.8 501.4,339.7 501.1,339.9 500.9,339.2 500.6,338.8 500.4,338.0 500.1,337.5 499.8,337.0 499.6,335.8 499.3,336.2 499.1,336.5 498.8,336.1 498.5,336.8 498.3,335.4 498.0,334.1 497.8,334.7 497.5,334.9 497.2,335.1 497.0,334.2 496.7,332.5 496.4,331.8 496.2,332.8 495.9,331.3 495.7,330.8 495.4,331.8 495.1,331.5 494.9,331.5 494.6,330.9 494.3,329.8 494.0,336.4 493.7,342.6 493.4,342.3 493.1,341.3 492.8,339.7 492.5,339.8 492.2,340.3 491.9,340.7 491.7,341.5 491.4,342.3 491.1,343.8 490.8,343.7 490.6,342.0 490.3,341.8 490.1,342.0 489.8,342.1 489.6,341.0 489.3,340.3 489.1,341.0 488.8,341.2 488.6,340.2 488.3,339.1 488.1,338.8 487.8,338.0 487.5,337.5 487.3,336.8 487.0,335.7 486.8,335.3 486.5,335.1 486.2,334.4 486.0,334.2 485.7,334.1 485.5,333.0 485.2,331.6 484.9,331.5 484.7,333.0 484.4,333.2 484.2,333.7 483.9,335.2 483.7,335.7 483.4,336.7 483.2,337.7 482.9,336.2 482.7,336.5 482.4,337.8 482.2,337.8 481.9,337.5 481.7,336.8 481.4,337.7 481.2,337.3 480.9,335.6 480.7,336.7 480.4,337.5 480.2,336.8 479.9,335.7 479.7,335.7 479.4,336.5 479.2,335.8 478.9,336.6 478.6,336.8 478.3,336.2 478.1,337.0 477.8,337.5 477.5,337.6 477.2,336.5 476.9,336.5 476.7,336.0 476.4,334.9 476.1,334.6 475.8,334.2 475.6,334.0 475.3,334.6 475.1,334.1 474.8,333.5 474.5,333.7 474.3,333.2 474.0,332.2 473.8,331.6 473.5,332.9 473.3,332.1 473.0,330.9 472.8,331.6 472.5,330.7 472.2,330.1 471.9,330.5 471.7,329.7 471.4,329.8 471.1,328.8 470.8,326.6 470.6,327.4 470.3,327.9 470.1,327.6 469.8,327.1 469.6,327.3 469.3,327.9 469.1,328.6 468.8,328.4 468.6,329.1 468.3,330.2 468.1,328.8 467.8,326.7 467.6,326.8 467.3,325.9 467.0,325.5 466.8,325.6 466.5,326.0 466.3,325.6 466.0,325.1 465.8,324.9 465.5,324.6 465.3,324.3 465.0,323.8 464.7,323.2 464.5,322.7 464.2,322.2 464.0,321.6 463.7,321.4 463.5,321.3 463.2,320.7 463.0,319.7 462.7,319.2 462.4,318.9 462.2,318.0 461.9,317.3 461.7,316.4 461.4,316.0 461.2,316.1 460.9,315.6 460.7,314.1 460.4,313.3 460.2,312.8 459.9,312.9 459.7,313.0 459.4,312.4 459.2,312.2 458.9,312.0 458.7,311.0 458.4,309.8 458.2,309.6 457.9,309.1 457.7,308.9 457.4,308.3 457.2,307.5 456.9,307.5 456.7,307.6 456.4,306.6 456.1,305.7 455.9,306.1 455.6,305.5 455.4,304.6 455.1,304.5 454.8,304.2 454.6,303.3 454.3,302.8 454.1,302.9 453.8,302.1 453.5,301.7 453.3,301.5 453.0,300.7 452.8,300.4 452.5,300.0 452.2,298.5 451.9,297.6 451.7,296.7 451.4,295.7 451.1,294.8 450.8,292.9 450.6,293.2 450.3,293.3 450.0,292.2 449.7,292.2 449.4,293.0 449.2,292.5 448.9,292.5 448.6,292.5 448.3,329.7 448.1,359.7 447.8,388.3 447.5,387.6 447.3,387.4 447.0,386.0 446.8,385.0 446.5,385.4 446.2,385.9 446.0,387.0 445.8,385.3 445.5,383.0 445.2,383.8 445.0,383.1 444.8,381.4 444.5,379.8 444.2,379.4 444.0,380.1 443.8,379.6 443.5,378.2 443.2,378.2 443.0,377.3 442.8,376.0 442.5,375.9 442.2,376.1 442.0,376.2 441.8,375.6 441.5,374.8 441.2,373.7 441.0,374.5 440.8,374.5 440.5,373.3 440.2,373.2 440.0,372.0 439.8,370.4 439.5,369.6 439.2,370.0 439.0,370.2 438.8,369.3 438.5,368.2 438.2,368.4 438.0,368.7 437.8,367.2 437.5,366.1 437.2,366.6 437.0,366.6 436.8,367.2 436.5,366.4 436.2,365.1 436.0,365.4 435.8,365.7 435.5,365.4 435.2,363.4 435.0,362.0 434.8,362.2 434.5,361.5 434.2,361.2 434.0,360.5 433.8,359.6 433.5,360.1 433.2,358.7 433.0,357.9 432.8,358.1 432.5,356.7 432.2,356.3 432.0,355.9 431.8,356.3 431.5,356.4 431.2,354.8 431.0,352.4 430.8,351.7 430.5,354.3 430.2,354.1 430.0,353.8 429.8,354.1 429.5,352.7 429.2,352.5 429.0,353.5 428.8,353.7 428.5,353.0 428.2,352.9 428.0,352.7 427.8,352.7 427.5,352.7 427.2,351.1 427.0,351.1 426.8,352.2 426.5,352.1 426.2,352.0 426.0,352.6 425.8,352.7 425.5,351.9 425.2,352.4 425.0,352.0 424.8,351.9 424.5,351.7 424.2,349.4 424.0,348.0 423.8,348.0 423.5,348.3 423.2,348.4 423.0,349.0 422.8,348.7 422.5,347.7 422.2,348.4 422.0,349.0 421.8,348.7 421.5,348.6 421.2,347.5 421.0,346.4 420.8,345.5 420.5,345.7 420.2,345.9 420.0,344.7 419.8,346.2 419.5,349.0 419.2,350.3 419.0,351.4 418.8,353.1 418.5,352.7 418.2,350.8 418.0,350.3 417.8,349.2 417.5,348.5 417.2,348.8 417.0,347.9 416.8,346.9 416.5,346.6 416.2,346.0 416.0,345.9 415.8,345.6 415.5,344.0 415.2,343.3 415.0,343.0 414.8,342.8 414.5,342.2 414.2,341.2 414.0,340.4 413.8,341.3 413.5,340.5 413.2,339.4 413.0,338.5 412.8,337.7 412.5,337.7 412.2,337.6 412.0,338.1 411.7,337.9 411.5,337.2 411.2,337.7 411.0,337.3 410.7,337.3 410.5,338.7 410.2,338.5 409.9,344.6 409.5,350.2 409.2,349.5 409.0,348.8 408.8,348.2 408.5,348.4 408.2,348.2 408.0,347.3 407.8,346.4 407.5,346.4 407.2,346.4 407.0,346.6 406.8,345.9 406.5,344.7 406.2,343.8 406.0,344.1 405.8,344.3 405.5,342.2 405.2,341.0 405.0,341.3 404.8,341.6 404.5,340.0 404.2,338.7 404.0,339.4 403.8,339.1 403.5,338.4 403.2,338.7 403.0,338.9 402.8,339.9 402.5,339.7 402.2,338.0 402.0,338.1 401.8,337.9 401.5,337.3 401.2,337.0 401.0,337.2 400.8,337.1 400.5,335.6 400.2,334.5 400.0,333.8 399.8,338.1 399.5,341.2 399.2,344.5 399.0,347.9 398.7,346.8 398.4,346.3 398.1,345.1 397.8,343.2 397.5,346.3 397.3,351.1 397.0,354.9 396.8,353.6 396.5,353.4 396.2,353.5 396.0,354.5 395.8,354.7 395.5,354.0 395.2,354.2 395.0,352.8 394.8,351.4 394.5,351.7 394.2,351.2 394.0,349.3 393.8,348.2 393.5,348.9 393.2,349.1 393.0,347.8 392.7,347.8 392.4,346.7 392.2,345.2 391.9,346.6 391.6,345.9 391.4,344.7 391.1,343.3 390.8,342.2 390.5,344.5 390.3,345.8 390.0,345.6 389.8,347.3 389.5,348.2 389.2,346.0 389.0,346.0 388.8,345.8 388.5,345.7 388.2,345.5 388.0,344.1 387.8,343.5 387.5,344.3 387.2,347.2 387.0,350.7 386.8,355.8 386.5,358.9 386.2,357.5 386.0,357.1 385.8,356.8 385.5,357.3 385.2,357.2 385.0,356.4 384.8,355.2 384.5,354.7 384.2,353.9 384.0,354.1 383.8,354.0 383.5,352.3 383.2,351.7 383.0,351.8 382.8,351.8 382.5,349.6 382.2,348.1 382.0,348.4 381.8,349.3 381.5,349.3 381.2,347.6 381.0,346.6 380.8,351.0 380.5,354.8 380.2,357.2 380.0,361.9 379.8,362.8 379.5,361.0 379.2,359.4 379.0,359.4 378.8,360.1 378.5,359.7 378.2,359.0 378.0,358.7 377.8,357.8 377.5,357.9 377.2,357.6 377.0,357.8 376.8,359.5 376.5,360.1 376.2,360.7 376.0,359.8 375.8,357.9 375.5,358.2 375.2,359.0 375.0,358.0 374.8,357.4 374.5,357.2 374.2,355.3 374.0,355.3 373.8,355.7 373.5,354.4 373.2,353.7 373.0,353.6 372.8,353.2 372.5,352.9 372.2,352.6 372.0,352.5 371.8,351.5 371.5,350.7 371.2,350.5 371.0,349.6 370.8,349.9 370.5,349.4 370.2,348.1 370.0,346.7 369.8,346.4 369.5,346.0 369.2,345.8 369.0,345.7 368.8,344.8 368.5,344.5 368.2,345.5 368.0,346.9 367.8,347.7 367.5,347.8 367.2,347.9 367.0,348.7 366.8,348.9 366.5,351.1 366.2,351.6 366.0,349.9 365.8,348.7 365.5,347.5 365.2,346.6 365.0,345.1 364.8,348.7 364.5,352.7 364.2,356.4 364.0,359.7 363.8,359.5 363.5,358.8 363.2,358.3 363.0,357.6 362.8,358.4 362.5,359.0 362.2,357.3 362.0,358.7 361.8,359.0 361.5,358.3 361.2,357.5 361.0,357.0 360.8,357.0 360.5,358.6 360.2,358.6 360.0,356.8 359.8,357.7 359.5,359.2 359.2,358.9 359.0,358.5 358.8,358.7 358.5,358.4 358.2,358.3 358.0,359.2 357.8,358.1 357.5,356.9 357.2,358.0 357.0,358.2 356.8,358.7 356.5,357.7 356.2,356.8 356.0,356.9 355.8,356.3 355.5,355.8 355.2,354.6 355.0,354.6 354.8,354.9 354.5,354.5 354.2,352.9 354.0,351.3 353.7,350.5 353.4,351.4 353.2,350.4 352.9,347.5 352.6,348.5 352.4,349.0 352.1,347.7 351.8,347.6 351.5,352.3 351.3,356.4 351.0,360.0 350.8,363.0 350.5,366.9 350.2,365.9 350.0,364.5 349.7,364.2 349.5,364.1 349.2,363.8 348.9,364.4 348.6,366.3 348.3,370.3 348.0,373.0 347.8,371.7 347.5,371.1 347.2,370.6 347.0,370.5 346.8,369.5 346.5,368.8 346.2,368.8 346.0,368.1 345.8,366.4 345.5,366.1 345.2,366.3 345.0,365.3 344.8,364.5 344.5,363.8 344.2,362.9 344.0,363.1 343.7,362.4 343.5,361.9 343.2,362.4 343.0,361.0 342.7,360.5 342.5,360.0 342.2,358.9 341.9,358.7 341.6,359.8 341.3,361.2 341.0,361.1 340.7,360.2 340.5,359.3 340.2,359.5 340.0,360.1 339.7,359.8 339.5,358.5 339.2,357.6 338.9,363.9 338.5,370.4 338.2,370.3 338.0,369.8 337.8,370.6 337.5,369.3 337.2,367.6 337.0,368.6 336.8,368.7 336.5,367.9 336.2,367.5 336.0,367.3 335.8,367.9 335.5,367.1 335.2,366.7 335.0,365.5 334.8,364.9 334.5,365.1 334.2,364.6 334.0,364.3 333.7,363.4 333.5,363.2 333.2,363.2 333.0,363.0 332.7,361.1 332.5,360.5 332.2,360.3 331.9,362.6 331.6,366.3 331.3,370.4 331.0,372.9 330.7,371.3 330.5,370.6 330.2,371.1 330.0,371.2 329.7,370.1 329.5,369.4 329.2,367.9 328.9,369.6 328.6,373.1 328.3,375.3 328.0,375.8 327.8,374.4 327.5,374.1 327.2,373.5 327.0,372.8 326.8,373.7 326.5,374.1 326.2,374.4 326.0,374.2 325.8,376.7 325.5,378.6 325.2,376.8 325.0,374.9 324.8,374.1 324.5,374.8 324.2,375.9 324.0,375.6 323.8,375.8 323.5,375.8 323.2,374.2 323.0,374.0 322.8,374.0 322.5,374.0 322.2,373.3 322.0,372.9 321.8,374.8 321.5,375.3 321.2,373.8 321.0,373.9 320.8,374.1 320.5,373.1 320.2,375.0 320.0,375.0 319.8,373.0 319.5,373.5 319.2,371.5 319.0,370.4 318.8,371.3 318.5,371.4 318.2,370.5 318.0,370.6 317.7,370.9 317.5,369.7 317.2,368.5 317.0,368.8 316.7,367.6 316.5,365.0 316.2,364.1 315.9,374.6 315.5,383.9 315.2,384.3 315.0,383.8 314.8,383.2 314.5,383.0 314.2,381.3 314.0,381.8 313.8,383.0 313.5,381.5 313.2,381.6 313.0,382.6 312.8,381.1 312.5,380.2 312.2,379.7 312.0,379.5 311.8,379.4 311.5,378.4 311.2,378.6 311.0,379.2 310.8,377.4 310.5,376.7 310.2,377.7 310.0,377.5 309.8,376.2 309.5,374.9 309.2,375.5 309.0,374.6 308.8,373.4 308.5,374.7 308.2,374.6 308.0,373.3 307.8,373.0 307.5,372.9 307.2,371.5 307.0,371.5 306.7,372.1 306.4,372.0 306.1,372.0 305.8,372.2 305.5,374.1 305.3,376.5 305.0,378.7 304.8,376.6 304.5,376.5 304.2,376.5 304.0,376.1 303.8,375.6 303.5,375.8 303.2,377.2 303.0,377.4 302.8,378.2 302.5,378.5 302.2,380.0 302.0,380.6 301.8,380.3 301.5,382.2 301.2,384.0 301.0,384.3 300.8,382.3 300.5,380.9 300.2,380.7 300.0,380.7 299.8,380.2 299.5,379.5 299.2,380.4 299.0,381.2 298.7,379.7 298.4,378.4 298.2,377.9 297.9,378.0 297.6,378.1 297.4,376.5 297.1,376.4 296.8,376.9 296.5,378.4 296.3,381.2 296.0,382.7 295.8,383.8 295.5,385.0 295.2,385.4 295.0,387.4 294.8,386.2 294.5,385.5 294.2,385.1 294.0,384.7 293.8,385.6 293.5,385.3 293.2,385.5 293.0,386.4 292.8,385.6 292.5,385.0 292.2,384.4 292.0,383.1 291.8,383.3 291.5,383.5 291.2,382.7 291.0,382.7 290.8,383.6 290.5,384.4 290.2,385.5 290.0,387.2 289.8,389.6 289.5,392.1 289.2,392.7 289.0,391.9 288.8,391.8 288.5,390.9 288.2,390.5 288.0,391.7 287.8,392.4 287.5,392.3 287.2,391.3 287.0,391.5 286.8,391.8 286.5,391.6 286.2,391.9 286.0,392.6 285.8,392.2 285.5,390.0 285.2,390.1 285.0,389.9 284.8,389.9 284.5,391.2 284.2,391.8 284.0,392.1 283.8,392.2 283.5,391.3 283.2,391.0 283.0,392.4 282.8,392.2 282.5,391.2 282.2,390.8 282.0,391.4 281.8,391.6 281.5,391.1 281.2,391.3 281.0,391.0 280.8,390.9 280.5,390.4 280.2,389.0 280.0,389.4 279.8,390.5 279.5,389.3 279.2,387.8 279.0,387.0 278.8,386.8 278.5,387.4 278.2,387.3 278.0,386.7 277.8,386.3 277.5,385.7 277.2,384.6 277.0,383.6 276.7,383.4 276.5,384.2 276.2,385.2 276.0,384.9 275.7,384.3 275.5,384.4 275.2,383.4 275.0,383.7 274.7,384.0 274.5,383.2 274.2,381.9 273.9,384.5 273.6,386.9 273.3,388.9 273.0,390.2 272.8,389.9 272.5,390.9 272.2,390.4 272.0,390.5 271.8,391.0 271.5,390.3 271.2,390.5 271.0,389.3 270.8,387.7 270.5,388.5 270.2,388.5 270.0,387.7 269.8,387.0 269.5,387.0 269.2,387.8 269.0,387.7 268.8,387.7 268.5,387.8 268.2,387.6 268.0,387.6 267.8,386.7 267.5,386.2 267.2,385.9 267.0,384.8 266.8,385.4 266.5,387.2 266.2,388.1 266.0,387.3 265.8,386.7 265.5,386.8 265.2,387.3 265.0,386.9 264.7,386.9 264.5,386.1 264.2,384.1 264.0,385.2 263.7,386.0 263.5,384.8 263.2,384.7 262.9,385.0 262.7,384.9 262.4,385.5 262.2,386.4 261.9,386.3 261.7,385.0 261.4,385.0 261.2,385.0 260.9,384.9 260.6,383.2 260.4,382.1 260.1,384.0 259.9,384.0 259.6,385.1 259.4,384.7 259.1,383.5 258.8,385.3 258.6,385.2 258.3,384.0 258.1,382.7 257.8,383.0 257.6,384.2 257.3,384.3 257.1,384.9 256.8,384.8 256.6,384.4 256.3,383.0 256.0,382.8 255.8,383.4 255.5,383.2 255.3,383.2 255.0,382.5 254.8,382.3 254.5,384.6 254.3,385.8 254.0,384.5 253.8,383.9 253.5,383.9 253.3,383.9 253.0,382.7 252.8,382.0 252.5,382.9 252.2,382.0 252.0,380.6 251.8,381.0 251.5,382.0 251.2,383.2 251.0,382.5 250.8,382.9 250.5,383.8 250.2,383.0 250.0,382.8 249.8,383.2 249.5,382.5 249.2,382.1 249.0,382.9 248.8,383.1 248.5,382.9 248.2,382.9 248.0,383.5 247.8,383.0 247.5,382.7 247.2,383.5 247.0,384.1 246.8,384.1 246.5,383.5 246.2,384.2 246.0,384.1 245.8,384.3 245.5,384.6 245.2,383.8 245.0,383.7 244.8,384.2 244.5,384.5 244.2,384.0 244.0,383.7 243.8,384.7 243.5,385.5 243.2,385.5 243.0,385.1 242.8,384.8 242.5,384.4 242.2,385.3 242.0,385.0 241.7,384.0 241.5,384.5 241.2,385.3 240.9,386.2 240.7,387.1 240.4,387.2 240.2,386.7 239.9,387.4 239.6,387.5 239.4,387.2 239.1,387.3 238.9,387.3 238.6,387.9 238.3,389.2 238.1,387.9 237.8,385.7 237.5,387.9 237.2,388.6 236.9,387.0 236.7,387.2 236.4,386.6 236.1,387.3 235.8,387.6 235.6,386.7 235.3,386.8 235.0,385.3 234.8,384.3 234.5,383.6 234.2,383.2 234.0,383.6 233.7,383.7 233.5,384.0 233.2,384.1 233.0,384.8 232.7,386.2 232.5,386.6 232.2,386.2 232.0,385.3 231.7,385.8 231.5,385.4 231.2,385.2 230.9,386.1 230.7,386.4 230.4,386.8 230.2,388.7 229.9,388.8 229.7,387.7 229.4,387.6 229.2,387.4 228.9,389.2 228.7,389.6 228.4,388.7 228.1,388.7 227.9,389.4 227.6,390.7 227.4,390.4 227.1,390.8 226.9,392.4 226.6,390.7 226.3,390.9 226.1,391.7 225.8,390.3 225.6,391.0 225.3,391.1 225.1,390.6 224.8,391.4 224.5,391.9 224.3,391.2 224.0,392.3 223.8,393.1 223.5,391.5 223.3,390.3 223.0,391.3 222.7,389.9 222.5,387.6 222.2,382.5 221.9,380.9 221.6,378.5 221.4,377.3 221.1,376.5 220.8,375.4 220.6,375.8 220.3,375.6 220.1,376.3 219.8,376.7 219.5,377.1 219.3,377.7 219.0,377.4 218.8,377.8 218.5,378.2 218.2,378.7 218.0,379.4 217.7,379.7 217.4,379.8 217.2,380.5 216.9,381.2 216.7,381.0 216.4,379.2 216.1,377.9 215.8,376.3 215.6,374.0 215.3,372.0 215.0,370.5 214.7,371.2 214.4,372.0 214.2,372.5 213.9,373.1 213.6,373.7 213.3,374.2 213.1,372.3 212.8,370.3 212.5,368.4 212.2,365.8 211.9,364.1 211.7,362.3 211.4,362.6 211.2,363.1 210.9,363.5 210.7,363.8 210.4,363.9 210.2,364.1 209.9,364.6 209.7,365.1 209.4,365.9 209.2,366.2 208.9,366.4 208.7,367.2 208.4,367.4 208.2,367.7 207.9,368.1 207.7,368.7 207.4,369.4 207.2,369.7 206.9,370.0 206.7,370.4 206.4,371.2 206.1,371.7 205.9,371.8 205.6,372.6 205.4,373.5 205.1,374.0 204.8,374.2 204.6,374.8 204.3,375.7 204.0,376.3 203.8,376.0 203.5,376.3 203.3,376.9 203.0,377.7 202.7,374.7 202.5,370.9 202.2,367.0 201.9,363.0 201.7,359.1 201.4,360.0 201.1,360.5 200.9,361.6 200.6,362.8 200.4,362.6 200.1,363.1 199.8,363.6 199.6,364.2 199.3,364.9 199.1,364.8 198.8,365.5 198.5,366.7 198.3,366.9 198.0,368.2 197.8,368.6 197.5,368.5 197.2,369.2 197.0,369.9 196.8,370.2 196.5,369.7 196.2,370.3 196.0,371.2 195.8,371.3 195.5,371.7 195.2,372.2 195.0,372.1 194.7,372.2 194.5,372.9 194.2,373.9 193.9,374.3 193.6,374.6 193.4,375.0 193.1,376.0 192.8,376.4 192.5,361.8" fill="#808080" fill-opacity="0.4" stroke="#808080" stroke-opacity="0.4" stroke-width="1.39" stroke-linejoin="miter"/>
<g stroke="#b0b0b0" stroke-opacity="0.3" stroke-width="1.11"><line x1="192.50" x2="192.50" y1="72" y2="534"/><line x1="361.50" x2="361.50" y1="72" y2="534"/><line x1="531.50" x2="531.50" y1="72" y2="534"/><line x1="700.50" x2="700.50" y1="72" y2="534"/><line x1="869.50" x2="869.50" y1="72" y2="534"/><line x1="1038.50" x2="1038.50" y1="72" y2="534"/><line x1="150" x2="1080" y1="488.50" y2="488.50"/><line x1="150" x2="1080" y1="395.50" y2="395.50"/><line x1="150" x2="1080" y1="303.50" y2="303.50"/><line x1="150" x2="1080" y1="211.50" y2="211.50"/><line x1="150" x2="1080" y1="118.50" y2="118.50"/></g>
<polyline points="192.5,357.5 192.8,371.7 193.1,372.5 193.4,370.4 193.6,369.7 193.9,367.6 194.2,369.1 194.5,368.3 194.7,367.6 195.0,367.5 195.2,367.4 195.5,367.1 195.8,365.7 196.0,365.5 196.2,365.5 196.5,366.0 196.8,365.6 197.0,363.9 197.2,363.7 197.5,364.2 197.8,364.1 198.0,364.2 198.3,362.4 198.5,361.4 198.8,362.1 199.1,360.5 199.3,360.7 199.6,360.7 199.8,359.5 200.1,358.5 200.4,358.4 200.6,356.8 200.9,356.6 201.1,355.7 201.4,355.4 201.7,355.0 201.9,358.4 202.2,362.3 202.5,365.9 202.7,370.0 203.0,373.7 203.3,373.2 203.5,372.8 203.8,373.0 204.0,370.3 204.3,371.8 204.6,370.1 204.8,368.8 205.1,369.1 205.4,368.7 205.6,368.9 205.9,366.7 206.1,367.1 206.4,366.5 206.7,365.8 206.9,364.2 207.2,364.1 207.4,365.0 207.7,364.7 207.9,364.6 208.2,363.7 208.4,363.2 208.7,362.6 208.9,363.0 209.2,361.0 209.4,361.1 209.7,361.1 209.9,359.2 210.2,361.0 210.4,359.0 210.7,359.1 210.9,360.4 211.2,357.7 211.4,357.5 211.7,357.5 211.9,360.8 212.2,360.9 212.5,363.4 212.8,366.2 213.1,368.3 213.3,370.0 213.6,369.8 213.9,368.9 214.2,368.9 214.4,368.0 214.7,367.0 215.0,365.8 215.3,367.2 215.6,369.0 215.8,370.0 216.1,373.8 216.4,373.8 216.7,377.0 216.9,377.2 217.2,377.5 217.4,374.9 217.7,374.7 218.0,374.5 218.2,375.0 218.5,373.3 218.8,373.4 219.0,372.7 219.3,372.4 219.5,373.2 219.8,371.0 220.1,371.4 220.3,371.1 220.6,371.1 220.8,370.0 221.1,370.7 221.4,374.1 221.6,375.2 221.9,377.2 222.2,378.2 222.5,378.5 222.7,380.9 223.0,383.0 223.3,383.6 223.5,382.9 223.8,382.8 224.0,384.2 224.3,384.4 224.5,382.7 224.8,384.1 225.1,381.1 225.3,381.1 225.6,383.2 225.8,382.5 226.1,382.1 226.3,382.5 226.6,382.3 226.9,381.7 227.1,382.1 227.4,381.5 227.6,380.0 227.9,381.1 228.1,380.9 228.4,382.0 228.7,379.5 228.9,380.2 229.2,380.0 229.4,379.4 229.7,379.4 229.9,380.5 230.2,379.3 230.4,378.4 230.7,378.6 230.9,378.8 231.2,377.2 231.5,377.5 231.7,378.6 232.0,377.9 232.2,376.9 232.5,376.3 232.7,376.3 233.0,375.0 233.2,376.6 233.5,375.9 233.7,375.5 234.0,374.2 234.2,374.4 234.5,374.7 234.8,375.9 235.0,376.5 235.3,376.7 235.6,378.2 235.8,378.7 236.1,379.2 236.4,377.8 236.7,377.7 236.9,377.2 237.2,376.8 237.5,377.5 237.8,378.9 238.1,379.5 238.3,380.0 238.6,380.0 238.9,378.7 239.1,378.5 239.4,379.0 239.6,378.5 239.9,378.7 240.2,377.9 240.4,378.7 240.7,379.3 240.9,378.9 241.2,378.7 241.5,377.3 241.7,377.7 242.0,376.5 242.2,377.2 242.5,376.3 242.8,376.0 243.0,375.8 243.2,375.6 243.5,376.5 243.8,376.1 244.0,376.0 244.2,374.9 244.5,375.8 244.8,374.5 245.0,376.6 245.2,375.3 245.5,375.5 245.8,375.2 246.0,374.0 246.2,374.1 246.5,375.0 246.8,376.0 247.0,374.0 247.2,374.2 247.5,374.7 247.8,374.6 248.0,373.3 248.2,373.2 248.5,374.2 248.8,374.4 249.0,374.1 249.2,375.5 249.5,374.1 249.8,374.5 250.0,375.4 250.2,375.4 250.5,372.9 250.8,373.7 251.0,374.8 251.2,372.9 251.5,373.2 251.8,372.8 252.0,372.7 252.2,372.9 252.5,373.7 252.8,373.9 253.0,374.8 253.3,375.0 253.5,374.0 253.8,372.6 254.0,374.1 254.3,373.9 254.5,374.5 254.8,374.2 255.0,373.0 255.3,374.8 255.5,373.0 255.8,374.1 256.0,374.9 256.3,375.0 256.6,376.0 256.8,373.1 257.1,375.2 257.3,375.6 257.6,374.9 257.8,375.7 258.1,374.4 258.3,375.3 258.6,375.9 258.8,375.9 259.1,374.8 259.4,375.1 259.6,375.5 259.9,375.3 260.1,376.6 260.4,376.0 260.6,377.0 260.9,376.9 261.2,376.2 261.4,376.0 261.7,375.5 261.9,375.7 262.2,375.8 262.4,376.7 262.7,375.9 262.9,376.7 263.2,376.8 263.5,376.4 263.7,376.7 264.0,378.0 264.2,378.2 264.5,376.4 264.7,377.0 265.0,377.2 265.2,377.0 265.5,377.1 265.8,378.6 266.0,378.1 266.2,378.6 266.5,379.1 266.8,377.5 267.0,377.8 267.2,378.0 267.5,378.9 267.8,378.1 268.0,378.8 268.2,379.2 268.5,379.3 268.8,378.9 269.0,378.0 269.2,377.6 269.5,379.7 269.8,379.3 270.0,379.0 270.2,378.5 270.5,379.1 270.8,379.4 271.0,378.7 271.2,380.4 271.5,379.9 271.8,380.5 272.0,381.6 272.2,381.2 272.5,381.9 272.8,382.1 273.0,382.0 273.3,379.9 273.6,377.8 273.9,377.0 274.2,373.5 274.5,373.6 274.7,375.1 275.0,373.4 275.2,374.8 275.5,374.5 275.7,374.0 276.0,372.8 276.2,376.2 276.5,374.3 276.7,374.6 277.0,375.5 277.2,375.9 277.5,376.1 277.8,376.6 278.0,376.5 278.2,375.8 278.5,377.9 278.8,376.9 279.0,378.0 279.2,378.6 279.5,379.3 279.8,378.5 280.0,379.0 280.2,379.0 280.5,379.3 280.8,378.4 281.0,379.4 281.2,379.5 281.5,379.6 281.8,380.9 282.0,380.8 282.2,382.4 282.5,381.5 282.8,382.5 283.0,379.9 283.2,381.3 283.5,380.3 283.8,381.4 284.0,381.0 284.2,381.5 284.5,380.9 284.8,381.2 285.0,380.5 285.2,380.4 285.5,378.9 285.8,380.1 286.0,380.5 286.2,380.9 286.5,380.6 286.8,382.8 287.0,381.6 287.2,382.8 287.5,382.0 287.8,381.8 288.0,383.4 288.2,381.3 288.5,382.7 288.8,381.3 289.0,382.7 289.2,383.6 289.5,382.5 289.8,378.6 290.0,376.6 290.2,374.8 290.5,372.0 290.8,372.1 291.0,371.5 291.2,373.6 291.5,373.0 291.8,374.2 292.0,373.7 292.2,372.9 292.5,374.0 292.8,373.8 293.0,375.4 293.2,373.5 293.5,374.3 293.8,375.3 294.0,375.8 294.2,375.8 294.5,374.2 294.8,377.1 295.0,375.5 295.2,375.8 295.5,376.0 295.8,374.0 296.0,371.8 296.3,369.3 296.5,367.8 296.8,366.0 297.1,367.3 297.4,365.6 297.6,365.1 297.9,367.7 298.2,367.8 298.4,368.4 298.7,369.5 299.0,368.5 299.2,368.4 299.5,369.4 299.8,370.1 300.0,371.0 300.2,371.3 300.5,370.3 300.8,370.3 301.0,371.5 301.2,370.9 301.5,372.5 301.8,372.5 302.0,370.5 302.2,369.6 302.5,368.3 302.8,369.3 303.0,367.5 303.2,366.1 303.5,365.5 303.8,366.4 304.0,366.3 304.2,367.2 304.5,368.2 304.8,367.4 305.0,368.0 305.3,366.4 305.5,364.4 305.8,362.0 306.1,362.7 306.4,362.2 306.7,361.6 307.0,361.5 307.2,361.4 307.5,362.5 307.8,361.8 308.0,363.5 308.2,363.4 308.5,364.2 308.8,363.7 309.0,363.9 309.2,364.2 309.5,366.1 309.8,365.5 310.0,366.0 310.2,366.2 310.5,365.4 310.8,367.1 311.0,364.9 311.2,368.9 311.5,368.1 311.8,368.6 312.0,367.9 312.2,368.6 312.5,370.2 312.8,370.0 313.0,370.5 313.2,371.2 313.5,372.2 313.8,372.0 314.0,370.5 314.2,371.5 314.5,371.7 314.8,372.3 315.0,371.7 315.2,372.1 315.5,374.0 315.9,363.9 316.2,355.0 316.5,355.3 316.7,356.8 317.0,356.9 317.2,358.9 317.5,357.2 317.7,358.2 318.0,360.0 318.2,360.5 318.5,360.5 318.8,360.3 319.0,362.0 319.2,362.6 319.5,363.1 319.8,362.1 320.0,362.8 320.2,363.3 320.5,363.5 320.8,363.7 321.0,364.5 321.2,363.5 321.5,364.3 321.8,362.5 322.0,364.8 322.2,365.6 322.5,364.5 322.8,364.4 323.0,365.1 323.2,363.0 323.5,363.9 323.8,362.9 324.0,364.0 324.2,364.7 324.5,365.2 324.8,364.2 325.0,365.0 325.2,365.6 325.5,366.5 325.8,367.7 326.0,365.3 326.2,364.8 326.5,364.4 326.8,363.8 327.0,363.0 327.2,363.6 327.5,363.5 327.8,364.7 328.0,366.0 328.3,365.5 328.6,362.7 328.9,360.5 329.2,359.0 329.5,358.4 329.7,359.8 330.0,360.3 330.2,360.2 330.5,361.8 330.7,361.1 331.0,362.0 331.3,358.9 331.6,356.6 331.9,353.2 332.2,350.0 332.5,351.3 332.7,350.8 333.0,351.2 333.2,352.4 333.5,352.7 333.7,353.9 334.0,353.5 334.2,354.3 334.5,354.4 334.8,355.2 335.0,355.8 335.2,354.9 335.5,356.1 335.8,356.4 336.0,358.0 336.2,357.2 336.5,358.0 336.8,359.1 337.0,357.7 337.2,358.9 337.5,360.1 337.8,359.4 338.0,360.7 338.2,358.7 338.5,360.5 338.9,354.3 339.2,348.0 339.5,348.7 339.7,349.0 340.0,348.6 340.2,350.8 340.5,349.1 340.7,352.1 341.0,352.0 341.3,351.5 341.6,351.2 341.9,349.6 342.2,349.0 342.5,348.7 342.7,349.8 343.0,350.4 343.2,351.7 343.5,351.6 343.7,352.7 344.0,353.0 344.2,353.9 344.5,355.1 344.8,353.0 345.0,354.7 345.2,356.0 345.5,356.5 345.8,356.1 346.0,357.0 346.2,357.4 346.5,358.1 346.8,358.8 347.0,358.8 347.2,359.3 347.5,359.5 347.8,360.7 348.0,361.5 348.3,360.4 348.6,356.6 348.9,355.9 349.2,353.0 349.5,355.3 349.7,354.8 350.0,357.2 350.2,356.1 350.5,357.0 350.8,354.1 351.0,348.6 351.3,343.5 351.5,340.5 351.8,336.0 352.1,338.2 352.4,337.1 352.6,338.6 352.9,338.3 353.2,339.1 353.4,340.9 353.7,341.1 354.0,342.0 354.2,343.0 354.5,344.1 354.8,342.8 355.0,343.7 355.2,344.8 355.5,347.1 355.8,345.6 356.0,346.1 356.2,347.3 356.5,347.5 356.8,349.3 357.0,347.4 357.2,347.8 357.5,348.2 357.8,348.9 358.0,348.5 358.2,350.0 358.5,347.2 358.8,346.7 359.0,347.9 359.2,348.0 359.5,345.8 359.8,346.8 360.0,347.0 360.2,347.9 360.5,347.0 360.8,347.9 361.0,347.8 361.2,348.3 361.5,348.3 361.8,348.3 362.0,349.2 362.2,348.0 362.5,348.5 362.8,348.8 363.0,349.8 363.2,348.7 363.5,349.0 363.8,348.8 364.0,349.5 364.2,345.4 364.5,344.1 364.8,339.4 365.0,335.5 365.2,337.7 365.5,337.6 365.8,337.9 366.0,338.4 366.2,339.5 366.5,340.0 366.8,339.1 367.0,338.9 367.2,336.7 367.5,336.5 367.8,335.8 368.0,334.5 368.2,334.8 368.5,335.2 368.8,336.1 369.0,336.5 369.2,336.4 369.5,336.8 369.8,336.8 370.0,337.5 370.2,338.5 370.5,338.5 370.8,337.9 371.0,339.3 371.2,340.5 371.5,340.8 371.8,340.4 372.0,342.1 372.2,342.5 372.5,343.0 372.8,344.2 373.0,343.5 373.2,343.8 373.5,344.9 373.8,344.7 374.0,346.1 374.2,346.7 374.5,346.7 374.8,347.3 375.0,346.6 375.2,348.1 375.5,347.2 375.8,350.2 376.0,349.0 376.2,349.8 376.5,347.8 376.8,346.9 377.0,349.8 377.2,348.1 377.5,349.1 377.8,347.6 378.0,348.5 378.2,348.9 378.5,348.7 378.8,349.9 379.0,349.5 379.2,351.2 379.5,349.8 379.8,351.7 380.0,351.0 380.2,347.3 380.5,343.9 380.8,338.6 381.0,336.0 381.2,335.3 381.5,338.0 381.8,336.9 382.0,338.2 382.2,338.8 382.5,338.9 382.8,340.4 383.0,339.8 383.2,340.5 383.5,342.0 383.8,343.2 384.0,342.5 384.2,344.2 384.5,344.7 384.8,345.9 385.0,345.6 385.2,344.4 385.5,345.8 385.8,346.6 386.0,348.3 386.2,348.2 386.5,348.5 386.8,344.5 387.0,341.6 387.2,337.4 387.5,334.0 387.8,334.8 388.0,335.0 388.2,336.1 388.5,336.0 388.8,336.9 389.0,336.6 389.2,337.6 389.5,337.5 389.8,336.5 390.0,336.2 390.3,335.0 390.5,333.8 390.8,333.0 391.1,333.2 391.4,333.9 391.6,335.0 391.9,333.5 392.2,336.7 392.4,334.6 392.7,336.8 393.0,337.5 393.2,337.8 393.5,339.2 393.8,339.3 394.0,339.7 394.2,340.3 394.5,341.5 394.8,343.1 395.0,342.2 395.2,340.9 395.5,343.0 395.8,342.8 396.0,343.5 396.2,345.7 396.5,342.8 396.8,343.1 397.0,343.5 397.3,340.6 397.5,337.1 397.8,333.5 398.1,333.6 398.4,336.5 398.7,335.9 399.0,338.0 399.2,334.2 399.5,331.7 399.8,326.1 400.0,323.5 400.2,323.9 400.5,326.0 400.8,325.2 401.0,325.2 401.2,326.2 401.5,327.9 401.8,326.7 402.0,328.5 402.2,328.1 402.5,327.5 402.8,327.8 403.0,329.7 403.2,328.7 403.5,328.5 403.8,329.2 404.0,328.4 404.2,328.0 404.5,329.0 404.8,330.5 405.0,330.9 405.2,330.2 405.5,331.9 405.8,333.1 406.0,333.0 406.2,333.6 406.5,332.9 406.8,334.3 407.0,335.0 407.2,334.1 407.5,336.8 407.8,336.4 408.0,338.0 408.2,336.9 408.5,338.7 408.8,337.3 409.0,338.7 409.2,339.9 409.5,340.0 409.9,333.8 410.2,327.0 410.5,327.0 410.7,325.9 411.0,328.2 411.2,327.7 411.5,328.1 411.7,328.2 412.0,327.1 412.2,327.7 412.5,327.5 412.8,330.0 413.0,327.9 413.2,329.3 413.5,329.1 413.8,331.3 414.0,330.5 414.2,331.2 414.5,330.9 414.8,331.8 415.0,331.8 415.2,331.8 415.5,332.0 415.8,334.1 416.0,334.4 416.2,336.0 416.5,336.5 416.8,336.4 417.0,337.8 417.2,339.5 417.5,337.8 417.8,338.3 418.0,340.5 418.2,342.1 418.5,340.2 418.8,340.2 419.0,342.0 419.2,340.0 419.5,338.2 419.8,337.3 420.0,335.0 420.2,334.6 420.5,335.7 420.8,336.1 421.0,335.5 421.2,336.0 421.5,338.0 421.8,338.5 422.0,338.5 422.2,337.8 422.5,339.5 422.8,339.0 423.0,338.5 423.2,338.5 423.5,338.0 423.8,338.7 424.0,339.3 424.2,339.9 424.5,339.6 424.8,338.4 425.0,340.3 425.2,340.2 425.5,340.3 425.8,342.0 426.0,342.0 426.2,340.4 426.5,342.1 426.8,340.8 427.0,340.1 427.2,340.1 427.5,340.5 427.8,342.7 428.0,342.5 428.2,341.5 428.5,343.0 428.8,343.9 429.0,343.0 429.2,342.0 429.5,342.0 429.8,342.6 430.0,341.5 430.2,342.2 430.5,342.0 430.8,343.9 431.0,343.5 431.2,344.1 431.5,345.7 431.8,344.7 432.0,346.7 432.2,345.3 432.5,345.5 432.8,345.9 433.0,346.7 433.2,347.8 433.5,348.2 433.8,348.5 434.0,347.7 434.2,348.5 434.5,349.7 434.8,351.0 435.0,351.0 435.2,352.5 435.5,350.0 435.8,352.1 436.0,352.3 436.2,353.0 436.5,353.7 436.8,353.3 437.0,353.3 437.2,355.5 437.5,355.7 437.8,355.3 438.0,356.0 438.2,356.4 438.5,356.5 438.8,356.4 439.0,358.5 439.2,358.0 439.5,358.1 439.8,359.0 440.0,361.2 440.2,360.8 440.5,361.2 440.8,361.6 441.0,362.0 441.2,363.1 441.5,363.4 441.8,362.2 442.0,363.5 442.2,363.6 442.5,364.6 442.8,364.9 443.0,363.8 443.2,366.6 443.5,366.3 443.8,365.2 444.0,367.0 444.2,368.5 444.5,368.3 444.8,369.1 445.0,369.4 445.2,370.1 445.5,370.2 445.8,369.9 446.0,371.3 446.2,372.5 446.5,373.0 446.8,373.5 447.0,374.5 447.3,374.4 447.5,373.2 447.8,375.5 448.1,347.2 448.3,317.2 448.6,289.0 448.9,288.1 449.2,289.0 449.4,288.4 449.7,289.7 450.0,288.9 450.3,291.1 450.6,289.6 450.8,290.0 451.1,290.7 451.4,291.7 451.7,291.7 451.9,293.8 452.2,295.0 452.5,296.7 452.8,296.8 453.0,295.9 453.3,297.9 453.5,299.2 453.8,298.4 454.1,299.1 454.3,299.8 454.6,299.4 454.8,300.1 455.1,301.5 455.4,301.3 455.6,300.8 455.9,300.8 456.1,304.1 456.4,303.2 456.7,303.3 456.9,302.7 457.2,304.4 457.4,305.3 457.7,305.4 457.9,304.5 458.2,307.6 458.4,307.2 458.7,307.2 458.9,308.3 459.2,308.2 459.4,308.6 459.7,310.0 459.9,308.4 460.2,311.0 460.4,311.1 460.7,311.9 460.9,312.5 461.2,313.4 461.4,313.9 461.7,313.3 461.9,314.5 462.2,314.2 462.4,315.6 462.7,315.3 463.0,315.5 463.2,317.1 463.5,317.6 463.7,318.8 464.0,317.0 464.2,319.5 464.5,320.2 464.7,320.4 465.0,320.8 465.3,322.1 465.5,320.6 465.8,321.7 466.0,321.4 466.3,321.8 466.5,321.3 466.8,322.1 467.0,322.9 467.3,322.7 467.6,323.0 467.8,322.4 468.1,324.3 468.3,323.3 468.6,322.7 468.8,323.0 469.1,323.3 469.3,322.6 469.6,323.1 469.8,322.5 470.1,323.4 470.3,322.4 470.6,322.1 470.8,321.7 471.1,321.8 471.4,323.4 471.7,324.5 471.9,324.8 472.2,324.5 472.5,325.8 472.8,325.7 473.0,326.1 473.3,326.4 473.5,325.6 473.8,328.1 474.0,326.9 474.3,327.3 474.5,327.1 474.8,327.6 475.1,329.1 475.3,327.3 475.6,327.8 475.8,328.3 476.1,328.3 476.4,329.3 476.7,331.5 476.9,330.7 477.2,331.5 477.5,332.5 477.8,330.8 478.1,331.4 478.3,331.4 478.6,330.5 478.9,330.1 479.2,330.0 479.4,330.8 479.7,330.9 479.9,330.7 480.2,330.5 480.4,330.2 480.7,332.7 480.9,330.7 481.2,332.5 481.4,332.1 481.7,332.5 481.9,331.8 482.2,332.7 482.4,331.4 482.7,332.6 482.9,330.7 483.2,331.6 483.4,332.0 483.7,330.8 483.9,328.9 484.2,329.8 484.4,327.7 484.7,325.8 484.9,324.8 485.2,327.9 485.5,328.8 485.7,327.8 486.0,328.4 486.2,329.3 486.5,328.3 486.8,330.2 487.0,331.3 487.3,330.8 487.5,332.5 487.8,333.8 488.1,331.4 488.3,333.3 488.6,332.5 488.8,333.7 489.1,335.0 489.3,335.3 489.6,334.8 489.8,335.0 490.1,335.7 490.3,337.9 490.6,336.4 490.8,337.5 491.1,336.5 491.4,337.1 491.7,335.7 491.9,334.6 492.2,335.7 492.5,334.2 492.8,335.0 493.1,335.0 493.4,335.8 493.7,336.7 494.0,331.5 494.3,325.0 494.6,325.0 494.9,325.8 495.1,326.5 495.4,326.8 495.7,325.1 495.9,326.3 496.2,326.7 496.4,327.3 496.7,328.1 497.0,328.6 497.2,327.8 497.5,328.3 497.8,328.0 498.0,329.3 498.3,329.2 498.5,331.2 498.8,330.7 499.1,330.9 499.3,332.0 499.6,331.2 499.8,331.9 500.1,332.4 500.4,333.4 500.6,334.3 500.9,334.3 501.1,334.7 501.4,334.5 501.7,335.0 501.9,335.8 502.2,335.8 502.4,337.3 502.7,336.5 503.0,337.3 503.2,338.0 503.5,338.9 503.8,338.3 504.0,339.1 504.3,339.1 504.5,339.3 504.8,341.4 505.1,341.5 505.3,340.5 505.6,341.4 505.8,342.5 506.1,343.2 506.3,342.6 506.6,342.6 506.9,344.4 507.1,343.5 507.4,343.8 507.6,344.7 507.9,344.1 508.1,344.9 508.4,345.2 508.7,345.9 508.9,345.1 509.2,345.8 509.4,340.8 509.7,334.4 510.0,328.3 510.2,329.5 510.5,328.3 510.8,327.7 511.0,327.6 511.2,327.1 511.5,327.9 511.8,327.7 512.0,328.3 512.2,327.7 512.5,327.5 512.8,328.0 513.1,330.5 513.3,330.8 513.6,330.3 513.9,330.5 514.2,331.0 514.4,330.6 514.7,328.9 515.0,329.2 515.3,329.4 515.5,330.8 515.8,330.8 516.0,330.8 516.3,331.4 516.6,329.5 516.8,331.2 517.1,330.7 517.3,331.5 517.6,332.0 517.9,332.9 518.1,333.7 518.4,333.8 518.6,333.7 518.9,333.6 519.2,334.2 519.4,331.7 519.7,327.7 520.0,324.2 520.2,323.1 520.5,324.4 520.8,325.0 521.0,324.1 521.2,325.1 521.5,326.2 521.8,325.1 522.0,325.4 522.2,325.6 522.5,325.8 522.8,325.5 523.0,326.3 523.2,326.3 523.5,327.2 523.8,327.3 524.0,329.0 524.2,328.6 524.5,329.7 524.8,328.6 525.0,330.0 525.3,328.8 525.5,328.0 525.8,326.9 526.1,324.8 526.3,324.2 526.6,324.3 526.8,324.7 527.1,324.6 527.3,324.7 527.6,325.6 527.8,324.7 528.1,324.5 528.3,325.6 528.6,326.4 528.8,324.8 529.1,327.6 529.3,327.0 529.6,327.5 529.8,326.8 530.1,327.6 530.3,329.1 530.6,329.4 530.8,328.3 531.1,329.1 531.3,328.7 531.6,329.2 531.8,330.5 532.1,329.4 532.3,329.6 532.6,330.5 532.8,331.5 533.1,330.4 533.3,331.8 533.6,332.1 533.8,332.3 534.1,332.4 534.3,333.5 534.6,333.5 534.8,332.4 535.1,334.5 535.3,334.2 535.7,323.5 536.0,312.5 536.3,312.8 536.5,312.7 536.8,312.9 537.0,312.1 537.3,313.3 537.6,313.8 537.8,314.0 538.1,313.6 538.3,314.2 538.6,313.4 538.8,314.4 539.1,315.1 539.4,316.2 539.6,315.3 539.9,316.4 540.1,317.1 540.4,317.5 540.6,317.5 540.9,316.7 541.2,318.6 541.4,318.8 541.7,319.2 541.9,318.0 542.2,315.9 542.5,315.0 542.8,314.7 543.1,315.6 543.3,314.9 543.6,315.0 543.9,314.6 544.2,315.0 544.4,316.6 544.7,316.4 545.0,318.3 545.3,312.2 545.6,306.8 545.8,300.8 546.1,300.8 546.4,301.2 546.6,301.0 546.9,301.5 547.1,300.7 547.4,300.7 547.7,300.9 547.9,300.0 548.2,301.4 548.4,300.4 548.7,301.3 549.0,301.5 549.2,301.3 549.5,300.9 549.7,300.5 550.0,300.8 550.3,300.2 550.5,301.7 550.8,301.7 551.1,302.9 551.3,302.5 551.6,301.3 551.9,300.7 552.2,299.2 552.5,298.3 552.8,298.8 553.0,298.7 553.2,299.0 553.5,298.5 553.8,299.2 554.0,299.7 554.2,300.6 554.5,300.4 554.8,300.0 555.0,300.8 555.2,302.0 555.5,301.8 555.8,302.6 556.0,302.1 556.2,301.4 556.5,303.0 556.8,303.3 557.0,304.3 557.2,303.9 557.5,304.6 557.8,304.8 558.0,305.9 558.2,305.8 558.5,307.3 558.8,307.4 559.0,307.9 559.2,307.8 559.5,308.4 559.8,309.1 560.0,309.2 560.3,309.2 560.5,310.6 560.8,310.5 561.0,311.5 561.3,312.4 561.5,312.6 561.8,311.8 562.1,313.3 562.3,313.1 562.6,313.5 562.8,314.0 563.1,314.0 563.3,315.1 563.6,315.1 563.8,316.4 564.1,316.5 564.4,315.6 564.6,316.8 564.9,317.2 565.1,317.8 565.4,318.3 565.6,319.1 565.9,319.4 566.2,319.4 566.4,320.6 566.7,320.8 566.9,321.7 567.2,321.7 567.4,322.6 567.7,322.7 567.9,322.7 568.2,323.1 568.4,323.7 568.7,324.4 568.9,324.7 569.2,325.4 569.4,325.9 569.7,325.4 569.9,325.7 570.2,326.6 570.4,327.3 570.7,327.9 570.9,328.2 571.2,328.6 571.4,328.3 571.7,329.2 571.9,329.6 572.2,329.4 572.4,330.2 572.7,330.7 572.9,330.2 573.2,330.7 573.4,332.2 573.7,331.0 573.9,331.4 574.2,331.4 574.4,331.6 574.7,332.5 575.0,327.1 575.3,320.8 575.6,320.8 575.9,321.2 576.1,321.4 576.4,320.8 576.7,322.7 577.0,322.4 577.2,323.0 577.5,323.3 577.8,322.9 578.1,321.2 578.4,320.3 578.7,319.2 578.9,319.8 579.2,320.8 579.5,320.1 579.8,321.0 580.0,320.8 580.3,322.3 580.6,323.1 580.8,323.3 581.1,314.5 581.4,307.0 581.7,297.5 581.9,298.2 582.2,298.9 582.4,298.3 582.7,299.4 583.0,298.6 583.2,299.2 583.5,299.4 583.7,299.4 584.0,300.6 584.2,300.7 584.5,300.0 584.7,300.9 585.0,300.8 585.0,303.3 585.2,303.9 585.5,304.3 585.8,305.0 586.0,305.0 586.2,305.7 586.5,306.2 586.8,306.3 587.0,306.8 587.2,307.9 587.5,308.0 587.8,309.5 588.0,309.8 588.2,309.0 588.5,309.9 588.8,309.3 589.0,310.4 589.2,310.7 589.5,311.2 589.8,311.1 590.0,312.5 590.3,311.1 590.5,309.6 590.8,307.6 591.1,306.5 591.3,305.0 591.6,305.8 591.8,306.6 592.1,305.6 592.3,307.4 592.6,306.3 592.8,307.1 593.1,307.7 593.3,308.3 593.6,309.4 593.8,309.2 594.1,309.6 594.4,310.3 594.6,310.0 594.9,310.0 595.1,311.2 595.4,310.8 595.6,310.6 595.9,310.7 596.2,311.9 596.4,313.0 596.7,312.5 596.9,311.2 597.2,309.2 597.5,308.1 597.7,305.2 598.0,304.2 598.2,304.8 598.5,304.8 598.8,306.0 599.0,305.5 599.2,306.6 599.5,306.8 599.8,307.1 600.0,307.5 600.3,308.3 600.5,308.3 600.8,309.5 601.0,309.2 601.3,308.8 601.5,310.8 601.8,311.2 602.0,311.3 602.3,312.2 602.6,312.3 602.8,312.1 603.1,311.9 603.3,313.3 603.6,312.2 603.9,311.9 604.1,311.6 604.4,310.0 604.7,310.0 604.9,309.9 605.2,311.3 605.4,310.6 605.7,310.9 606.0,311.1 606.2,312.6 606.5,312.5 606.7,312.8 607.0,313.5 607.2,313.5 607.5,313.3 607.8,314.3 608.0,314.2 608.3,314.8 608.5,315.1 608.8,315.5 609.1,315.0 609.3,315.8 609.6,316.1 609.8,316.3 610.1,317.0 610.4,318.2 610.6,318.1 610.9,318.1 611.1,318.6 611.4,319.4 611.7,319.2 611.9,319.1 612.2,320.3 612.4,321.3 612.7,321.9 613.0,321.9 613.2,322.2 613.5,321.6 613.8,322.6 614.0,323.4 614.3,324.0 614.5,324.5 614.8,323.7 615.1,325.0 615.3,325.8 615.6,325.8 615.8,326.7 616.1,314.7 616.4,303.1 616.7,291.2 617.0,279.2 617.2,279.5 617.5,280.0 617.8,280.5 618.0,280.1 618.2,280.1 618.5,280.5 618.8,280.9 619.0,281.4 619.2,281.0 619.5,281.6 619.8,282.1 620.0,282.5 620.2,283.2 620.5,283.4 620.8,283.6 621.0,284.2 621.2,284.4 621.5,284.8 621.8,285.4 622.0,285.6 622.2,285.9 622.5,286.4 622.8,286.5 623.0,287.0 623.2,286.8 623.5,287.6 623.8,288.5 624.0,288.4 624.2,288.9 624.5,289.1 624.8,289.4 625.0,290.0 625.2,290.0 625.5,289.8 625.8,290.0 626.0,289.4 626.2,289.6 626.5,289.4 626.8,289.3 627.0,289.6 627.2,289.1 627.5,289.2 627.8,289.4 628.0,290.6 628.3,290.4 628.5,290.8 628.8,291.4 629.1,291.4 629.3,292.2 629.6,292.2 629.8,292.8 630.1,293.2 630.4,294.1 630.6,294.3 630.9,295.0 631.1,295.4 631.4,295.2 631.7,295.8 631.9,296.3 632.2,296.5 632.4,296.8 632.7,297.6 633.0,298.0 633.2,298.1 633.5,298.5 633.8,298.8 634.0,299.2 634.3,299.6 634.5,299.6 634.8,300.4 635.1,300.4 635.3,300.6 635.6,301.3 635.8,301.7 636.1,299.2 636.4,296.9 636.7,294.3 637.0,291.7 637.3,292.1 637.5,292.1 637.8,292.7 638.1,293.0 638.4,293.3 638.6,293.4 638.9,294.3 639.2,294.2 639.4,294.8 639.7,295.2 639.9,295.5 640.2,295.9 640.5,296.6 640.7,296.5 641.0,297.2 641.2,297.7 641.5,298.3 641.7,298.6 642.0,299.5 642.2,299.1 642.5,300.0 642.8,295.4 643.1,290.1 643.3,285.0 643.6,285.6 643.8,285.5 644.1,286.2 644.4,286.2 644.6,286.7 644.9,286.6 645.1,287.4 645.4,287.6 645.6,287.4 645.9,288.2 646.2,288.4 646.4,289.1 646.7,289.2 646.9,289.4 647.2,290.0 647.4,290.6 647.7,290.5 648.0,291.6 648.2,291.5 648.5,291.8 648.7,291.9 649.0,292.2 649.2,293.3 649.5,293.3 649.7,293.6 650.0,294.2 650.3,294.9 650.5,295.2 650.8,295.4 651.1,295.5 651.3,295.8 651.6,296.9 651.9,297.1 652.1,297.4 652.4,298.4 652.7,298.3 653.0,108.4 653.3,108.3 653.6,108.5 653.9,108.4 653.9,297.0 654.2,298.8 654.5,299.7 654.8,300.7 655.0,301.9 655.3,303.3 655.6,301.8 655.9,299.4 656.1,298.0 656.4,296.4 656.7,294.2 656.9,294.6 657.2,295.4 657.4,295.7 657.7,296.5 657.9,296.7 658.2,297.0 658.4,297.8 658.7,298.2 658.9,298.5 659.2,299.2 659.4,299.6 659.7,299.9 659.9,300.5 660.2,301.3 660.4,301.2 660.7,302.2 660.9,302.7 661.2,303.0 661.4,304.0 661.7,304.2 662.0,302.3 662.2,299.9 662.5,298.0 662.8,295.8 663.1,296.6 663.4,296.5 663.6,297.5 663.9,297.9 664.2,298.5 664.5,299.5 664.7,299.3 665.0,300.0 665.3,300.4 665.5,300.6 665.8,301.4 666.0,302.0 666.3,301.6 666.5,303.1 666.8,303.5 667.0,302.9 667.3,303.7 667.6,304.6 667.8,305.0 668.1,305.7 668.3,305.8 668.6,297.6 668.8,289.9 669.1,281.1 669.3,273.3 669.6,273.9 669.9,274.1 670.1,274.5 670.4,274.6 670.7,275.3 670.9,276.2 671.2,276.1 671.4,276.6 671.7,277.1 672.0,277.3 672.2,278.0 672.5,278.3 672.8,278.9 673.0,279.0 673.3,279.0 673.5,280.3 673.8,280.3 674.0,280.6 674.3,281.0 674.5,281.3 674.8,281.4 675.1,282.2 675.3,282.6 675.6,283.2 675.8,283.3 676.1,283.9 676.3,283.5 676.6,284.2 676.8,284.0 677.1,284.3 677.3,284.1 677.6,284.6 677.8,284.4 678.1,285.0 678.3,285.0 678.6,283.4 678.8,282.5 679.1,281.2 679.3,280.0 679.6,280.5 679.9,280.9 680.1,281.3 680.4,281.6 680.7,282.3 680.9,282.7 681.2,282.7 681.4,283.5 681.7,283.6 682.0,284.2 682.2,284.6 682.5,285.0 682.8,285.3 683.0,285.7 683.3,285.3 683.5,286.4 683.8,285.9 684.1,286.9 684.3,287.0 684.6,286.7 684.8,287.5 685.1,287.5 685.4,287.6 685.6,288.5 685.9,288.7 686.1,288.8 686.4,289.4 686.7,289.2 686.9,289.4 687.2,289.4 687.4,289.9 687.7,289.5 688.0,290.0 688.2,290.2 688.5,290.1 688.7,290.2 689.0,290.5 689.2,290.5 689.5,290.4 689.7,289.8 690.0,290.8 690.2,290.5 690.5,290.1 690.8,290.5 691.0,289.9 691.2,289.9 691.5,289.8 691.8,289.7 692.0,289.2 692.2,289.3 692.5,290.4 692.8,290.5 693.0,290.8 693.2,290.7 693.5,291.8 693.8,291.8 694.0,292.3 694.2,292.2 694.5,293.2 694.8,293.4 695.0,293.3 695.2,293.5 695.5,294.1 695.8,293.5 696.0,294.1 696.2,294.2 696.5,294.4 696.8,294.2 697.0,294.4 697.2,294.9 697.5,295.0 697.8,294.9 698.0,295.0 698.3,279.5 698.7,264.2 698.9,264.3 699.2,265.1 699.4,265.0 699.7,265.2 699.9,265.1 700.2,265.4 700.4,265.8 700.7,265.9 700.9,266.6 701.2,266.9 701.4,267.0 701.7,267.5 701.9,267.6 702.2,268.0 702.4,267.8 702.7,268.7 702.9,268.1 703.2,269.5 703.4,268.9 703.7,269.5 703.9,269.7 704.2,270.1 704.4,270.1 704.7,270.6 704.9,270.4 705.2,271.2 705.4,271.2 705.7,271.6 705.9,272.0 706.2,271.7 706.4,272.1 706.7,272.5 706.9,272.6 707.2,273.1 707.4,273.5 707.7,273.9 708.0,274.1 708.2,274.3 708.5,274.8 708.8,275.3 709.0,275.6 709.3,276.2 709.5,275.8 709.8,276.3 710.1,276.2 710.3,276.7 710.6,277.3 710.8,277.5 711.1,278.2 711.3,278.0 711.6,278.6 711.8,278.9 712.1,279.3 712.3,279.6 712.6,279.7 712.8,279.6 713.1,280.1 713.3,280.8 713.6,274.3 713.8,267.5 714.1,261.4 714.3,254.2 714.6,254.5 714.9,255.1 715.1,254.9 715.4,255.2 715.7,256.0 715.9,256.7 716.2,256.7 716.4,256.9 716.7,257.4 717.0,257.8 717.2,258.1 717.5,258.3 717.8,258.8 718.1,258.9 718.3,259.3 718.6,259.9 718.9,260.4 719.2,260.8 719.4,260.9 719.7,262.1 719.9,262.2 720.2,262.4 720.5,263.1 720.7,263.9 721.0,263.8 721.2,264.2 721.5,264.8 721.8,264.7 722.0,265.3 722.3,265.6 722.6,266.4 722.8,266.2 723.1,267.2 723.3,267.5 723.7,256.5 724.0,245.8 724.3,246.1 724.5,246.4 724.8,247.2 725.1,247.0 725.3,247.2 725.6,247.9 725.9,248.0 726.1,248.6 726.4,248.8 726.7,249.2 726.9,249.5 727.2,249.8 727.4,249.7 727.7,249.9 728.0,251.3 728.2,250.8 728.5,251.5 728.7,251.4 729.0,252.0 729.2,252.3 729.5,253.1 729.7,253.0 730.0,253.3 730.3,248.8 730.6,244.6 730.8,240.8 731.1,241.3 731.4,241.9 731.6,242.6 731.9,243.0 732.1,242.6 732.4,243.3 732.7,243.4 732.9,244.2 733.2,244.8 733.4,244.5 733.7,245.6 734.0,246.0 734.2,246.2 734.5,246.5 734.7,247.5 735.0,247.5 735.3,247.9 735.5,248.1 735.8,248.9 736.0,249.6 736.3,249.9 736.5,249.7 736.8,250.3 737.1,251.0 737.3,251.6 737.6,252.0 737.8,252.1 738.1,253.1 738.3,253.5 738.6,253.4 738.8,254.0 739.1,254.7 739.4,254.7 739.6,255.6 739.9,256.1 740.1,256.4 740.4,257.1 740.6,257.8 740.9,257.7 741.2,258.4 741.4,258.6 741.7,259.2 741.9,259.9 742.2,260.2 742.4,260.2 742.7,260.4 743.0,261.1 743.2,261.3 743.5,261.3 743.7,261.7 744.0,262.3 744.2,263.2 744.5,263.3 744.7,263.7 745.0,264.0 745.3,264.4 745.5,264.8 745.8,264.5 746.0,265.3 746.3,265.7 746.5,266.0 746.8,266.3 747.0,265.9 747.3,267.0 747.6,266.9 747.8,267.9 748.1,267.8 748.3,268.3 748.6,268.6 748.8,269.1 749.1,269.0 749.4,269.8 749.6,269.9 749.9,270.9 750.1,270.9 750.4,271.1 750.6,272.1 750.9,272.1 751.2,272.3 751.4,272.9 751.7,273.3 751.9,273.8 752.2,273.8 752.4,274.8 752.7,274.9 752.9,275.7 753.2,275.8 753.5,275.8 753.7,276.7 754.0,276.7 754.2,277.2 754.5,276.9 754.7,277.6 755.0,278.3 755.3,279.0 755.5,279.2 755.8,278.8 756.0,279.6 756.3,279.9 756.5,280.5 756.8,280.2 757.0,280.3 757.3,281.1 757.5,281.2 757.8,281.5 758.0,281.7 758.3,282.6 758.5,282.4 758.8,283.1 759.0,283.3 759.3,283.3 759.5,284.0 759.8,284.4 760.0,284.5 760.3,284.6 760.6,285.2 760.8,285.1 761.1,285.7 761.3,286.3 761.6,285.9 761.8,286.1 762.1,287.0 762.3,286.9 762.6,287.3 762.8,287.8 763.1,287.9 763.3,288.3 763.6,288.7 763.8,288.7 764.1,289.1 764.4,289.5 764.6,289.9 764.9,290.0 765.1,290.4 765.4,290.8 765.6,291.1 765.9,291.2 766.2,291.8 766.4,291.6 766.7,292.3 766.9,292.6 767.2,292.9 767.4,292.8 767.7,293.5 767.9,293.6 768.2,293.5 768.5,294.0 768.7,294.1 769.0,294.8 769.2,295.3 769.5,295.5 769.7,295.3 770.0,295.8 770.2,296.0 770.5,296.6 770.8,297.1 771.0,297.7 771.2,297.8 771.5,298.6 771.8,298.6 772.0,299.2 772.3,280.0 772.6,259.9 772.8,240.8 773.1,241.0 773.3,241.4 773.6,241.8 773.8,242.0 774.1,241.9 774.3,242.1 774.6,242.7 774.8,242.9 775.1,243.1 775.3,243.5 775.6,243.4 775.8,244.2 776.1,244.5 776.3,244.3 776.6,244.6 776.8,245.4 777.1,245.6 777.3,245.4 777.6,245.7 777.8,245.7 778.1,246.5 778.3,246.7 778.6,247.0 778.8,247.3 779.1,248.1 779.3,247.8 779.6,248.1 779.8,248.5 780.1,248.7 780.3,249.3 780.6,249.3 780.8,249.6 781.1,250.4 781.3,250.0 781.6,250.2 781.8,250.8 782.1,250.9 782.3,251.2 782.6,251.7 782.8,252.1 783.1,251.8 783.3,252.5 783.6,252.3 783.8,253.3 784.1,253.1 784.3,253.8 784.6,254.4 784.8,254.6 785.1,254.7 785.3,254.3 785.6,255.6 785.8,255.3 786.1,255.9 786.3,255.9 786.6,256.2 786.8,257.0 787.1,256.5 787.3,256.9 787.6,257.4 787.8,258.0 788.1,257.4 788.3,258.3 788.6,259.0 788.8,258.9 789.1,259.5 789.3,260.3 789.6,260.1 789.8,260.6 790.1,261.0 790.3,260.9 790.6,261.4 790.8,261.6 791.1,262.1 791.3,262.3 791.6,262.5 791.8,262.8 792.1,263.5 792.3,263.3 792.6,264.0 792.8,264.7 793.1,264.3 793.3,264.6 793.6,265.5 793.8,265.5 794.1,265.8 794.3,266.5 794.6,266.7 794.8,266.8 795.1,267.3 795.3,267.3 795.6,267.9 795.8,268.3 796.1,268.8 796.3,269.2 796.6,269.8 796.8,269.7 797.1,270.3 797.3,270.4 797.6,270.4 797.8,271.1 798.1,271.4 798.3,271.7 798.6,272.2 798.8,272.5 799.1,272.8 799.3,272.9 799.6,273.5 799.8,274.0 800.1,274.5 800.3,274.9 800.6,275.1 800.8,275.6 801.1,276.2 801.3,276.2 801.6,276.4 801.8,276.6 802.1,277.3 802.3,277.8 802.6,278.0 802.8,278.8 803.1,278.6 803.3,279.1 803.6,279.5 803.8,279.6 804.1,280.5 804.3,280.5 804.6,280.7 804.8,281.0 805.1,282.0 805.3,282.5 805.6,282.3 805.8,282.6 806.1,283.2 806.3,283.7 806.6,283.9 806.8,284.5 807.1,284.5 807.3,285.7 807.6,285.6 807.8,286.2 808.1,286.2 808.3,286.7 808.6,287.3 808.8,287.8 809.1,287.6 809.3,288.2 809.6,288.8 809.8,289.0 810.1,289.1 810.4,289.6 810.6,290.2 810.9,290.5 811.1,290.7 811.4,291.3 811.6,291.0 811.9,292.0 812.1,292.6 812.4,293.0 812.6,293.0 812.9,293.5 813.1,293.9 813.4,294.2 813.6,294.4 813.9,294.6 814.1,295.2 814.4,295.4 814.6,295.6 814.9,296.8 815.2,296.5 815.4,297.1 815.7,297.4 815.9,297.5 816.2,298.4 816.4,298.3 816.7,299.2 816.9,300.0 817.2,299.7 817.5,300.3 817.7,301.0 818.0,301.4 818.2,302.0 818.5,302.7 818.8,303.3 819.0,304.0 819.3,303.6 819.5,304.7 819.8,305.1 820.1,305.3 820.3,305.8 820.6,300.5 820.9,296.5 821.2,290.8 821.4,291.5 821.7,291.2 821.9,292.4 822.2,292.5 822.4,292.9 822.7,293.4 823.0,293.4 823.2,293.9 823.5,294.6 823.7,294.4 824.0,294.8 824.2,295.1 824.5,296.1 824.7,296.0 825.0,296.7 825.3,297.0 825.5,297.3 825.8,298.0 826.0,298.4 826.3,298.5 826.5,299.4 826.8,299.6 827.0,299.9 827.3,300.1 827.5,300.6 827.8,301.0 828.0,301.4 828.3,301.9 828.6,302.3 828.8,302.6 829.1,303.0 829.3,303.6 829.6,304.1 829.8,304.5 830.1,304.6 830.3,305.0 830.6,296.6 830.9,288.9 831.2,280.8 831.4,281.2 831.7,281.5 831.9,282.0 832.2,282.0 832.4,282.5 832.7,282.3 833.0,283.6 833.2,283.5 833.5,283.8 833.7,284.3 834.0,284.4 834.2,284.7 834.5,285.4 834.7,285.5 835.0,285.8 835.2,286.0 835.5,286.7 835.8,286.9 836.0,287.3 836.2,287.4 836.5,288.1 836.8,287.9 837.0,288.7 837.2,289.2 837.5,288.9 837.8,289.6 838.0,289.4 838.2,290.2 838.5,290.1 838.8,290.5 839.0,291.2 839.2,291.8 839.5,292.0 839.8,292.1 840.0,292.5 840.2,292.6 840.5,293.2 840.8,294.1 841.0,294.2 841.2,293.9 841.5,294.4 841.8,294.6 842.0,295.4 842.2,295.6 842.5,295.6 842.8,296.3 843.0,296.7 843.3,286.0 843.6,275.3 843.8,265.0 844.1,265.2 844.3,265.9 844.6,265.7 844.8,266.2 845.1,266.3 845.3,266.8 845.6,267.6 845.8,267.7 846.1,267.7 846.3,268.1 846.6,268.9 846.8,268.9 847.1,269.1 847.3,269.8 847.6,269.8 847.8,270.0 848.1,270.6 848.3,270.8 848.6,270.8 848.8,271.4 849.1,271.6 849.4,272.2 849.6,272.4 849.9,273.2 850.1,273.3 850.4,273.4 850.6,273.9 850.9,274.0 851.2,274.4 851.4,274.8 851.7,275.1 851.9,275.7 852.2,275.8 852.4,275.8 852.7,276.4 852.9,276.3 853.2,277.5 853.5,276.8 853.7,277.6 854.0,278.0 854.2,278.0 854.5,278.4 854.7,279.1 855.0,279.2 855.0,279.6 855.3,279.6 855.5,280.5 855.8,280.5 856.0,280.8 856.3,281.7 856.5,281.7 856.8,281.9 857.0,282.1 857.3,282.5 857.5,282.7 857.8,283.6 858.0,283.5 858.3,283.5 858.5,283.9 858.8,284.5 859.0,284.4 859.3,284.8 859.5,284.9 859.8,285.1 860.0,286.5 860.3,286.2 860.5,287.0 860.8,287.1 861.0,287.3 861.3,287.3 861.5,287.9 861.8,288.2 862.1,288.3 862.3,289.0 862.6,289.5 862.8,289.6 863.1,289.8 863.3,289.7 863.6,291.1 863.8,290.9 864.1,290.8 864.3,291.1 864.6,291.5 864.8,291.8 865.1,292.3 865.3,292.4 865.6,293.0 865.8,293.2 866.1,293.6 866.4,272.5 866.7,251.6 866.9,251.7 867.2,252.4 867.4,252.8 867.7,253.0 867.9,253.1 868.2,253.9 868.4,253.9 868.7,254.5 868.9,255.2 869.2,255.8 869.4,255.8 869.7,256.3 869.9,257.0 870.2,256.8 870.4,257.3 870.7,257.9 870.9,258.5 871.2,258.3 871.4,258.7 871.7,259.6 871.9,259.8 872.2,259.4 872.4,258.3 872.7,257.8 872.9,257.3 873.2,256.4 873.4,255.3 873.7,255.1 873.9,255.5 874.2,256.1 874.4,255.9 874.7,256.9 874.9,256.9 875.2,256.9 875.4,257.8 875.7,257.7 875.9,258.8 876.2,259.0 876.4,259.7 876.7,259.2 876.9,260.0 877.2,260.7 877.4,261.0 877.7,261.2 877.9,261.6 878.2,262.0 878.4,262.5 878.7,263.0 878.9,262.5 879.2,263.1 879.4,263.6 879.7,264.1 879.9,264.6 880.2,264.7 880.4,265.2 880.7,265.8 880.9,266.3 881.2,266.1 881.4,266.6 881.7,267.1 881.9,268.1 882.2,267.7 882.4,268.3 882.7,268.6 882.9,268.8 883.2,269.6 883.4,269.7 883.7,270.0 883.9,270.5 884.2,270.8 884.4,271.3 884.7,271.4 884.9,271.8 885.2,272.7 885.4,272.6 885.7,273.4 885.9,273.5 886.2,273.7 886.4,274.0 886.7,274.3 886.9,275.3 887.2,275.7 887.4,275.8 887.7,276.0 887.9,276.5 888.2,277.1 888.4,277.7 888.7,277.6 888.9,277.8 889.2,278.6 889.4,278.9 889.7,279.2 889.9,279.3 890.2,280.3 890.4,280.9 890.7,280.7 890.9,280.9 891.2,281.6 891.4,282.0 891.7,282.6 891.9,282.9 892.2,282.8 892.4,283.7 892.7,284.1 892.9,284.3 893.2,284.9 893.4,284.8 893.7,285.5 893.9,285.6 894.2,286.3 894.4,286.9 894.7,287.2 895.1,207.7 895.4,207.2 895.7,207.7 896.0,207.7 896.0,281.3 896.2,281.8 896.5,282.0 896.7,282.7 897.0,282.7 897.2,283.6 897.5,283.4 897.7,283.4 898.0,284.1 898.2,284.3 898.5,285.1 898.7,285.6 899.0,285.9 899.2,286.1 899.5,286.2 899.7,286.4 900.0,286.6 900.2,287.5 900.5,287.3 900.8,287.9 901.0,288.4 901.3,288.8 901.5,288.7 901.8,289.1 902.0,289.5 902.3,290.3 902.5,290.2 902.8,290.6 903.0,291.3 903.3,291.8 903.5,292.4 903.8,292.2 904.0,292.8 904.3,292.5 904.5,293.5 904.8,293.9 905.0,294.2 905.3,294.2 905.6,295.1 905.8,295.5 906.1,295.4 906.3,295.8 906.6,296.0 906.8,296.4 907.1,296.8 907.3,296.9 907.6,297.2 907.8,297.8 908.1,298.2 908.4,284.1 908.6,270.5 908.9,256.2 909.2,256.6 909.4,256.8 909.7,257.0 909.9,257.8 910.2,258.0 910.4,258.2 910.7,259.5 910.9,259.0 911.2,260.3 911.4,261.0 911.7,260.7 911.9,260.9 912.2,261.6 912.4,261.6 912.7,262.3 912.9,262.9 913.2,262.8 913.4,263.9 913.7,263.9 913.9,264.3 914.2,265.0 914.4,264.7 914.7,265.2 914.9,266.0 915.2,266.4 915.4,266.6 915.7,267.1 915.9,267.4 916.2,267.6 916.4,268.0 916.7,268.5 916.9,269.1 917.2,269.6 917.4,269.6 917.7,270.7 917.9,271.3 918.2,271.1 918.4,271.3 918.7,271.8 918.9,272.5 919.2,272.7 919.4,273.6 919.7,273.4 919.9,274.1 920.2,274.4 920.4,275.3 920.7,275.2 920.9,275.5 921.2,264.9 921.5,253.8 921.7,243.3 922.0,243.6 922.2,243.5 922.5,246.2 922.7,245.0 923.0,245.2 923.3,245.7 923.5,246.3 923.8,246.8 924.0,246.0 924.3,248.0 924.5,247.7 924.8,248.1 925.0,249.4 925.3,249.0 925.5,248.9 925.8,249.3 926.1,250.5 926.3,250.5 926.6,251.0 926.8,250.6 927.1,251.8 927.3,252.1 927.6,247.7 927.9,243.5 928.2,240.5 928.5,235.8 928.8,236.3 929.0,236.4 929.2,237.4 929.5,238.3 929.8,237.0 930.0,238.6 930.2,238.7 930.5,238.9 930.8,240.0 931.0,240.1 931.2,239.9 931.5,241.2 931.8,240.8 932.0,241.3 932.2,241.0 932.5,242.1 932.8,242.8 933.0,242.7 933.2,243.3 933.5,244.3 933.8,244.0 934.0,244.1 934.2,245.7 934.5,244.9 934.8,244.4 935.0,245.4 935.2,246.3 935.5,246.2 935.8,246.7 936.0,247.4 936.2,247.9 936.5,248.3 936.8,248.8 937.0,249.8 937.2,251.3 937.5,250.6 937.8,250.7 938.0,250.5 938.2,251.2 938.5,251.1 938.8,252.0 939.0,251.8 939.2,253.3 939.5,254.2 939.8,254.1 940.0,255.3 940.2,253.8 940.5,255.2 940.8,255.1 941.0,255.6 941.2,255.4 941.5,256.3 941.8,256.7 942.0,256.8 942.2,258.1 942.5,257.9 942.8,258.7 943.0,259.3 943.2,258.8 943.5,259.1 943.8,259.2 944.0,260.5 944.2,261.0 944.5,260.8 944.8,260.8 945.0,261.6 945.2,262.2 945.5,262.6 945.8,262.5 946.0,263.6 946.2,264.1 946.5,263.3 946.8,264.3 947.0,264.5 947.2,264.2 947.5,264.9 947.8,265.7 948.0,266.6 948.2,266.0 948.5,266.5 948.8,266.9 949.0,267.2 949.2,267.0 949.5,268.6 949.8,268.4 950.0,269.1 950.2,269.6 950.5,269.4 950.8,269.5 951.0,270.0 951.2,270.4 951.5,270.6 951.8,271.3 952.0,271.1 952.2,271.9 952.5,272.2 952.8,273.0 953.0,273.5 953.2,274.5 953.5,274.6 953.8,274.7 954.0,274.7 954.2,275.1 954.5,275.6 954.8,275.7 955.0,276.2 955.2,276.1 955.5,277.1 955.8,276.8 956.0,277.4 956.2,277.7 956.5,278.3 956.8,270.6 957.1,260.3 957.4,251.7 957.7,242.2 957.9,242.2 958.2,243.7 958.4,243.9 958.7,245.1 958.9,245.1 959.2,245.3 959.4,246.9 959.7,247.2 959.9,247.1 960.2,248.3 960.4,248.5 960.7,250.0 961.0,250.3 961.2,251.0 961.5,251.0 961.7,252.8 962.0,252.4 962.2,253.5 962.5,253.8 962.7,254.6 963.0,254.6 963.2,255.9 963.5,256.6 963.7,256.4 964.0,258.2 964.2,257.8 964.5,258.6 964.7,259.2 965.0,260.7 965.2,260.5 965.5,261.2 965.7,262.2 966.0,262.6 966.3,255.1 966.6,248.0 966.9,239.8 967.2,240.2 967.4,240.7 967.7,241.1 967.9,241.6 968.2,242.9 968.4,243.4 968.7,243.5 968.9,244.2 969.2,243.7 969.4,245.7 969.7,246.1 969.9,245.3 970.2,246.7 970.5,247.4 970.7,248.8 971.0,248.7 971.2,249.7 971.5,250.5 971.7,250.6 972.0,250.3 972.2,250.6 972.5,251.7 972.7,252.8 973.0,253.2 973.2,252.8 973.5,254.4 973.7,254.1 974.0,254.9 974.2,256.2 974.5,256.3 974.7,256.5 975.0,256.9 975.2,257.9 975.5,258.5 975.7,258.8 976.0,259.1 976.2,260.2 976.5,261.0 976.7,260.5 977.0,262.0 977.2,261.9 977.5,262.6 977.7,263.8 978.0,263.2 978.2,264.3 978.5,263.0 978.8,262.7 979.0,261.3 979.3,259.0 979.5,257.5 979.8,256.8 980.0,257.9 980.3,257.9 980.5,258.4 980.8,258.0 981.0,259.3 981.3,259.0 981.5,260.1 981.8,261.7 982.0,261.9 982.3,262.6 982.5,262.3 982.8,263.0 983.1,263.1 983.3,264.8 983.6,264.0 983.8,264.0 984.1,265.0 984.3,266.3 984.6,266.0 984.8,266.8 985.1,266.5 985.3,267.4 985.6,267.6 985.8,268.1 986.1,269.1 986.3,270.0 986.6,271.2 986.8,271.0 987.1,270.6 987.3,271.1 987.6,271.4 987.8,272.6 988.1,272.7 988.4,273.6 988.6,273.6 988.9,275.5 989.1,275.0 989.4,276.0 989.6,276.0 989.9,277.8 990.1,276.4 990.4,277.9 990.6,278.9 990.9,278.7 991.1,279.7 991.4,279.7 991.6,280.8 991.9,280.7 992.1,282.1 992.4,280.9 992.6,282.6 992.9,282.4 993.2,283.0 993.4,284.0 993.7,283.9 993.9,284.3 994.2,285.5 994.4,285.1 994.7,286.0 994.9,287.2 995.2,287.1 995.5,287.0 995.9,287.6 996.1,187.5 996.4,188.3 996.6,187.3 996.9,188.1 997.1,188.2 997.4,187.6 997.7,188.9 997.9,187.9 998.2,189.5 998.4,189.7 998.7,189.0 999.1,189.3 999.4,220.3 999.7,220.4 999.9,221.2 1000.2,221.5 1000.4,221.3 1000.7,222.0 1000.9,222.8 1001.2,223.3 1001.4,224.3 1001.7,223.9 1002.0,224.3 1002.2,225.3 1002.5,225.8 1002.7,225.7 1003.0,226.3 1003.2,226.4 1003.5,227.0 1003.8,226.4 1004.0,227.0 1004.3,228.8 1004.5,228.4 1004.8,228.6 1005.0,229.9 1005.3,231.1 1005.5,231.0 1005.8,231.1 1006.1,231.3 1006.3,232.6 1006.6,233.0 1006.8,232.5 1007.1,233.1 1007.3,233.3 1007.6,233.9 1007.9,234.6 1008.1,234.7 1008.4,234.9 1008.6,235.3 1008.9,235.3 1009.1,236.4 1009.4,237.1 1009.6,236.7 1009.9,237.4 1010.1,238.7 1010.4,238.3 1010.7,239.3 1010.9,239.0 1011.2,239.0 1011.4,240.6 1011.7,241.1 1011.9,241.4 1012.2,241.7 1012.4,242.9 1012.7,242.4 1013.0,242.6 1013.2,243.6 1013.5,244.4 1013.7,244.5 1014.0,245.3 1014.2,246.0 1014.5,245.2 1014.7,246.0 1015.0,246.5 1015.3,246.9 1015.5,247.8 1015.8,247.2 1016.1,249.0 1016.3,248.4 1016.6,249.8 1016.9,249.9 1017.1,250.4 1017.4,251.4 1017.7,251.0 1017.9,252.2 1018.2,251.0 1018.4,249.0 1018.7,247.0 1018.9,246.7 1019.2,244.0 1019.4,243.5 1019.7,241.7 1019.9,241.9 1020.2,242.4 1020.4,243.7 1020.7,243.6 1020.9,243.8 1021.2,244.8 1021.4,244.6 1021.7,246.1 1022.0,245.4 1022.2,246.5 1022.5,246.4 1022.7,247.5 1023.0,247.1 1023.2,248.0 1023.5,248.8 1023.7,248.3 1024.0,249.3 1024.2,250.0 1024.5,250.0 1024.8,250.5 1025.0,251.5 1025.3,252.1 1025.5,251.3 1025.8,252.1 1026.0,251.7 1026.3,253.4 1026.5,254.2 1026.8,253.9 1027.0,254.2 1027.3,255.4 1027.5,255.4 1027.8,257.2 1028.1,257.3 1028.3,256.1 1028.6,257.8 1028.8,258.3 1029.1,258.8 1029.3,258.8 1029.6,258.6 1029.8,259.8 1030.1,259.9 1030.3,261.6 1030.6,261.4 1030.8,262.2 1031.1,262.1 1031.4,253.7 1031.6,246.5 1031.9,238.8 1032.2,239.0 1032.4,239.0 1032.7,239.6 1032.9,239.5 1033.2,240.7 1033.5,240.6 1033.7,241.5 1034.0,242.0 1034.2,242.1 1034.5,242.3 1034.7,243.4 1035.0,243.8 1035.3,243.6 1035.5,244.7 1035.8,243.3 1036.0,245.1 1036.3,245.6 1036.5,245.8 1036.8,245.4 1037.0,246.6 1037.3,247.5 1037.6,247.5 1037.8,247.1 1038.1,248.2 1038.3,248.7" fill="none" stroke="#000" stroke-width="2.08" stroke-linejoin="round" stroke-linecap="square"/>
<polyline points="192.5,384.2 192.8,396.7 193.1,396.5 193.3,395.3 193.6,395.4 193.9,393.8 194.1,394.8 194.4,393.0 194.6,393.4 194.9,392.9 195.2,392.0 195.4,393.8 195.7,391.2 195.9,391.4 196.2,391.3 196.5,389.5 196.7,390.5 197.0,389.2 197.2,389.4 197.5,388.3 197.8,387.2 198.0,386.6 198.3,387.3 198.5,386.3 198.8,385.6 199.1,385.3 199.3,384.6 199.6,383.1 199.8,381.8 200.1,381.6 200.4,381.0 200.6,380.1 200.9,380.5 201.1,380.0 201.4,379.7 201.7,379.2 201.9,383.1 202.2,386.5 202.5,390.3 202.7,394.3 203.0,398.0 203.2,397.0 203.5,396.7 203.8,396.7 204.0,395.8 204.2,395.4 204.5,395.3 204.8,395.7 205.0,394.6 205.2,393.8 205.5,393.2 205.8,393.0 206.0,394.0 206.2,390.3 206.5,392.1 206.8,391.5 207.0,391.4 207.2,389.8 207.5,390.0 207.8,390.9 208.0,389.9 208.3,388.9 208.5,388.6 208.8,387.7 209.1,387.8 209.3,387.4 209.6,387.7 209.8,386.9 210.1,386.3 210.4,386.4 210.6,386.0 210.9,385.4 211.1,384.0 211.4,385.2 211.7,384.2 211.9,385.1 212.2,386.9 212.5,389.1 212.8,391.1 213.1,393.3 213.3,394.2 213.6,392.6 213.9,393.9 214.2,393.5 214.4,391.7 214.7,391.3 215.0,390.8 215.3,392.0 215.6,393.5 215.8,394.6 216.1,395.9 216.4,398.4 216.7,400.0 216.9,399.8 217.2,400.3 217.4,398.2 217.7,397.2 217.9,398.1 218.2,397.4 218.5,397.5 218.7,396.7 219.0,395.7 219.2,395.7 219.5,396.2 219.7,395.5 220.0,394.4 220.2,395.1 220.5,394.2 220.8,395.0 221.0,397.3 221.2,399.5 221.5,400.3 221.8,402.1 222.0,404.6 222.2,406.2 222.5,408.0 222.8,407.7 223.0,407.5 223.3,407.0 223.5,407.1 223.8,409.3 224.0,407.0 224.3,408.2 224.5,406.8 224.8,407.9 225.1,407.7 225.3,407.1 225.6,406.4 225.8,406.7 226.1,405.5 226.3,406.6 226.6,404.9 226.9,404.6 227.1,406.0 227.4,405.6 227.6,404.4 227.9,404.0 228.1,403.4 228.4,403.7 228.7,402.9 228.9,401.9 229.2,402.5 229.4,401.8 229.7,402.2 229.9,400.9 230.2,401.0 230.4,401.4 230.7,402.2 230.9,401.0 231.2,400.7 231.4,401.6 231.7,399.6 231.9,399.6 232.2,400.3 232.4,400.2 232.7,399.6 232.9,397.6 233.2,399.3 233.4,399.1 233.7,398.5 233.9,398.6 234.2,398.0 234.4,399.4 234.7,399.1 235.0,399.1 235.3,399.1 235.6,400.8 235.8,401.3 236.1,400.7 236.4,400.5 236.7,400.0 236.9,400.6 237.2,400.7 237.5,400.0 237.8,400.9 238.1,400.7 238.3,402.0 238.6,402.4 238.9,401.8 239.1,400.0 239.4,401.7 239.6,399.9 239.9,400.3 240.2,401.4 240.4,401.0 240.7,400.0 240.9,399.7 241.2,400.3 241.5,398.8 241.7,399.9 242.0,399.3 242.2,399.8 242.5,399.2 242.8,399.0 243.0,398.3 243.2,399.0 243.5,398.5 243.8,397.8 244.0,397.8 244.2,397.8 244.5,398.3 244.8,398.7 245.0,398.1 245.2,397.3 245.5,397.6 245.8,398.1 246.0,398.3 246.2,397.0 246.5,397.6 246.8,397.1 247.0,395.9 247.2,396.3 247.5,397.0 247.8,396.6 248.0,396.5 248.2,396.5 248.5,396.3 248.8,396.8 249.0,395.9 249.2,395.5 249.5,396.6 249.8,395.9 250.0,396.6 250.2,395.6 250.5,396.8 250.8,395.2 251.0,395.1 251.2,396.2 251.5,396.7 251.8,395.1 252.0,396.4 252.2,396.3 252.5,395.3 252.8,395.9 253.0,395.4 253.3,394.3 253.5,394.8 253.8,395.3 254.0,396.2 254.3,395.9 254.5,395.7 254.8,396.2 255.0,395.3 255.3,396.6 255.5,395.9 255.8,397.3 256.0,396.7 256.3,396.3 256.6,396.5 256.8,396.0 257.1,397.1 257.3,396.5 257.6,397.1 257.8,398.0 258.1,397.6 258.3,397.5 258.6,397.9 258.8,399.3 259.1,398.2 259.4,398.5 259.6,397.8 259.9,397.3 260.1,398.2 260.4,397.5 260.6,396.4 260.9,398.7 261.2,398.6 261.4,397.9 261.7,399.4 261.9,398.6 262.2,398.5 262.4,398.3 262.7,399.6 262.9,398.7 263.2,398.8 263.5,398.9 263.7,398.8 264.0,398.3 264.2,399.0 264.5,399.0 264.7,400.0 265.0,399.7 265.2,399.0 265.5,400.3 265.8,399.6 266.0,399.5 266.2,400.0 266.5,400.2 266.8,400.4 267.0,400.7 267.2,400.6 267.5,399.7 267.8,400.3 268.0,401.7 268.2,400.8 268.5,399.5 268.8,401.1 269.0,402.2 269.2,401.9 269.5,401.4 269.8,401.5 270.0,401.5 270.2,402.1 270.5,401.9 270.8,402.0 271.0,403.5 271.2,402.5 271.5,403.6 271.8,402.3 272.0,403.0 272.2,403.1 272.5,404.2 272.8,403.9 273.0,404.5 273.3,402.0 273.6,399.7 273.9,398.2 274.2,396.0 274.5,396.8 274.7,396.0 275.0,396.9 275.2,396.7 275.5,396.5 275.7,397.3 276.0,398.1 276.2,395.9 276.5,398.1 276.7,398.9 277.0,398.0 277.2,398.2 277.5,399.0 277.8,399.5 278.0,399.5 278.2,399.6 278.5,400.5 278.8,400.7 279.0,400.4 279.2,401.0 279.5,400.4 279.8,401.1 280.0,401.5 280.2,401.8 280.5,402.0 280.8,401.9 281.0,403.3 281.2,403.0 281.5,403.4 281.8,402.5 282.0,403.2 282.2,403.3 282.5,404.0 282.8,403.8 283.0,404.8 283.2,405.2 283.5,403.7 283.8,403.7 284.0,403.3 284.2,403.0 284.5,403.7 284.8,402.9 285.0,403.0 285.2,402.5 285.5,403.7 285.8,403.4 286.0,403.8 286.2,403.9 286.5,404.5 286.8,404.4 287.0,404.8 287.2,404.3 287.5,404.5 287.8,404.5 288.0,404.9 288.2,404.9 288.5,405.1 288.8,405.1 289.0,406.2 289.2,404.8 289.5,405.0 289.8,402.7 290.0,399.9 290.2,397.9 290.5,394.5 290.8,394.3 291.0,394.3 291.2,396.0 291.5,396.0 291.8,395.9 292.0,395.6 292.2,397.0 292.5,396.5 292.8,396.9 293.0,396.5 293.2,396.7 293.5,396.8 293.8,398.2 294.0,397.4 294.2,397.1 294.5,397.5 294.8,398.7 295.0,398.5 295.2,397.9 295.5,398.5 295.8,395.6 296.0,393.8 296.3,392.1 296.5,389.5 296.8,387.5 297.1,387.5 297.4,388.1 297.6,388.1 297.9,388.1 298.2,388.2 298.4,388.8 298.7,389.3 299.0,390.0 299.2,390.5 299.5,390.7 299.8,390.5 300.0,392.1 300.2,391.0 300.5,392.7 300.8,391.7 301.0,392.6 301.2,393.6 301.5,393.5 301.8,393.1 302.0,391.1 302.2,390.7 302.5,389.1 302.8,388.7 303.0,388.1 303.2,386.6 303.5,386.0 303.8,387.5 304.0,387.5 304.2,388.2 304.5,388.0 304.8,388.8 305.0,389.5 305.2,388.8 305.5,388.4 305.8,387.4 306.0,385.9 306.2,384.8 306.5,384.5 306.8,384.1 307.0,386.4 307.2,386.1 307.5,386.7 307.8,386.0 308.0,387.6 308.2,387.1 308.5,387.2 308.8,387.1 309.0,386.9 309.2,388.4 309.5,388.4 309.8,388.7 310.0,389.0 310.2,388.5 310.5,388.5 310.8,389.3 311.0,390.9 311.2,391.8 311.5,390.6 311.8,391.1 312.0,390.7 312.2,391.4 312.5,392.5 312.8,392.2 313.0,393.0 313.2,393.4 313.5,394.3 313.8,393.8 314.0,393.5 314.2,395.5 314.5,395.2 314.8,395.2 315.0,395.6 315.2,395.6 315.5,396.0 315.9,387.7 316.2,378.5 316.5,378.2 316.7,379.5 317.0,379.3 317.2,380.5 317.5,381.4 317.7,381.4 318.0,382.0 318.2,383.4 318.5,382.6 318.8,382.5 319.0,383.4 319.2,383.6 319.5,384.0 319.8,384.1 320.0,384.3 320.2,385.3 320.5,385.0 320.8,384.3 321.0,386.0 321.2,385.4 321.5,385.9 321.8,385.7 322.0,387.3 322.2,385.5 322.5,387.0 322.8,386.1 323.0,386.4 323.2,386.9 323.5,385.5 323.8,386.5 324.0,386.0 324.2,387.2 324.5,386.6 324.8,386.2 325.0,388.8 325.2,388.8 325.5,389.5 325.8,389.0 326.0,389.3 326.2,388.7 326.5,387.5 326.8,387.5 327.0,387.0 327.2,387.3 327.5,389.0 327.8,389.6 328.0,390.5 328.3,388.9 328.6,386.4 328.9,385.0 329.2,383.0 329.5,383.5 329.7,383.9 330.0,383.9 330.2,382.9 330.5,384.7 330.7,384.0 331.0,385.0 331.3,383.0 331.6,379.7 331.9,377.1 332.2,374.5 332.5,374.5 332.7,376.4 333.0,375.3 333.2,377.0 333.5,377.6 333.7,379.0 334.0,377.5 334.2,378.7 334.5,378.3 334.8,378.2 335.0,378.7 335.2,378.6 335.5,380.7 335.8,380.5 336.0,380.1 336.2,381.6 336.5,381.5 336.8,381.9 337.0,382.8 337.2,382.7 337.5,382.1 337.8,383.2 338.0,384.0 338.2,383.8 338.5,384.0 338.9,377.3 339.2,370.5 339.5,370.3 339.7,371.2 340.0,372.1 340.2,373.0 340.5,372.7 340.7,373.3 341.0,374.0 341.3,374.4 341.6,371.7 341.9,371.3 342.2,370.5 342.5,370.5 342.7,371.7 343.0,372.7 343.2,373.3 343.5,373.6 343.7,374.7 344.0,374.5 344.2,375.0 344.5,375.9 344.8,375.4 345.0,377.1 345.2,376.6 345.5,378.3 345.8,377.4 346.0,378.5 346.2,379.3 346.5,379.8 346.8,380.4 347.0,380.7 347.2,382.3 347.5,382.1 347.8,381.8 348.0,383.0 348.3,380.5 348.6,379.3 348.9,375.7 349.2,374.0 349.5,376.1 349.7,375.8 350.0,375.9 350.2,378.5 350.5,379.0 350.8,374.0 351.0,367.8 351.3,365.5 351.5,360.2 351.8,356.5 352.1,357.3 352.4,358.3 352.6,359.0 352.9,359.1 353.2,359.0 353.4,361.4 353.7,361.4 354.0,362.0 354.2,362.5 354.5,362.1 354.8,363.1 355.0,364.1 355.2,364.4 355.5,365.1 355.8,364.9 356.0,365.0 356.2,366.7 356.5,367.0 356.8,367.0 357.0,367.8 357.2,368.1 357.5,367.2 357.8,367.2 358.0,367.5 358.2,368.0 358.5,367.5 358.8,366.2 359.0,367.6 359.2,366.4 359.5,365.9 359.8,365.0 360.0,365.5 360.2,365.4 360.5,366.0 360.8,366.0 361.0,366.8 361.2,366.6 361.5,365.5 361.8,366.1 362.0,366.1 362.2,366.0 362.5,366.5 362.8,366.5 363.0,366.8 363.2,367.2 363.5,368.1 363.8,368.8 364.0,369.0 364.2,365.9 364.5,360.7 364.8,357.0 365.0,353.5 365.2,352.2 365.5,354.6 365.8,355.4 366.0,355.5 366.2,356.4 366.5,357.0 366.8,355.7 367.0,355.0 367.2,353.9 367.5,353.3 367.8,352.1 368.0,352.5 368.2,353.6 368.5,353.9 368.8,353.8 369.0,354.2 369.2,355.6 369.5,355.4 369.8,355.1 370.0,356.0 370.2,356.5 370.5,357.1 370.8,357.5 371.0,358.0 371.2,357.3 371.5,358.3 371.8,358.0 372.0,359.9 372.2,359.9 372.5,359.8 372.8,362.4 373.0,361.5 373.2,362.7 373.5,362.1 373.8,363.4 374.0,363.0 374.2,364.4 374.5,364.7 374.8,364.4 375.0,365.5 375.2,366.7 375.5,366.7 375.8,365.9 376.0,367.0 376.2,367.3 376.5,367.6 376.8,367.4 377.0,368.0 377.2,367.0 377.5,366.0 377.8,368.4 378.0,367.5 378.2,367.1 378.5,367.9 378.8,367.2 379.0,368.8 379.2,367.9 379.5,368.8 379.8,368.9 380.0,369.0 380.2,366.5 380.5,363.2 380.8,359.0 381.0,355.0 381.2,356.3 381.5,356.4 381.8,357.0 382.0,356.9 382.2,358.4 382.5,357.4 382.8,359.8 383.0,359.9 383.2,360.4 383.5,361.0 383.8,362.3 384.0,361.0 384.3,362.1 384.5,363.5 384.8,363.5 385.0,364.6 385.3,364.7 385.5,364.6 385.8,366.1 386.0,366.5 386.3,367.3 386.5,367.8 386.8,368.0 387.1,360.5 387.5,350.5 387.8,350.4 388.0,351.0 388.2,352.7 388.5,351.8 388.8,352.8 389.0,353.8 389.2,353.8 389.5,354.0 389.8,353.4 390.0,352.2 390.3,350.2 390.5,350.9 390.8,349.5 391.1,350.6 391.4,350.9 391.6,351.0 391.9,351.9 392.2,352.8 392.4,352.7 392.7,353.2 393.0,354.0 393.2,353.9 393.5,355.3 393.8,354.8 394.0,355.7 394.2,357.3 394.5,355.8 394.8,357.0 395.0,358.6 395.2,358.3 395.5,359.0 395.8,360.1 396.0,359.1 396.2,359.7 396.5,361.4 396.8,360.5 397.0,361.5 397.3,357.7 397.5,353.7 397.8,350.0 398.1,352.1 398.4,351.8 398.7,353.8 399.0,355.0 399.2,351.8 399.5,348.3 399.8,343.9 400.0,340.0 400.2,341.0 400.5,340.6 400.8,342.7 401.0,342.3 401.2,343.0 401.5,344.2 401.8,343.7 402.0,344.0 402.2,344.5 402.5,345.3 402.8,346.1 403.0,344.8 403.2,345.0 403.5,346.8 403.8,346.7 404.0,347.3 404.2,348.9 404.5,348.0 404.8,348.4 405.0,348.9 405.2,350.2 405.5,349.3 405.8,350.4 406.0,350.6 406.2,351.3 406.5,351.8 406.8,351.4 407.0,352.5 407.2,352.6 407.5,353.0 407.8,352.9 408.0,354.4 408.2,354.1 408.5,354.2 408.8,354.3 409.0,355.4 409.2,355.4 409.5,356.5 409.9,349.7 410.2,342.5 410.5,343.1 410.7,342.3 411.0,342.2 411.2,342.4 411.5,343.2 411.7,342.4 412.0,343.2 412.2,342.5 412.5,343.0 412.8,342.2 413.0,345.3 413.2,345.5 413.5,345.5 413.8,346.4 414.0,347.0 414.2,347.6 414.5,349.0 414.8,348.3 415.0,349.2 415.2,349.4 415.5,349.6 415.8,350.8 416.0,351.3 416.2,351.2 416.5,352.0 416.8,354.0 417.0,351.3 417.2,354.4 417.5,353.3 417.8,354.1 418.0,355.4 418.2,356.1 418.5,356.9 418.8,355.7 419.0,357.0 419.2,356.8 419.5,353.4 419.8,352.8 420.0,351.0 420.2,352.3 420.5,352.0 420.8,352.3 421.0,353.3 421.2,353.3 421.5,353.0 421.8,354.8 422.0,354.5 422.2,355.3 422.5,355.0 422.8,354.8 423.0,355.3 423.2,355.2 423.5,354.5 423.8,355.8 424.0,355.8 424.2,354.8 424.5,356.8 424.8,357.3 425.0,357.9 425.2,358.7 425.5,357.4 425.8,356.9 426.0,359.0 426.2,359.3 426.5,358.7 426.8,357.9 427.0,356.7 427.2,358.1 427.5,356.5 427.8,356.8 428.0,358.7 428.2,358.1 428.5,358.9 428.8,357.1 429.0,359.0 429.2,359.1 429.5,357.9 429.8,357.1 430.0,357.5 430.2,357.7 430.5,360.0 430.8,358.2 431.0,357.9 431.2,360.0 431.5,359.1 431.8,360.0 432.0,361.4 432.2,361.4 432.5,361.0 432.8,362.1 433.0,362.9 433.2,362.8 433.5,362.7 433.8,364.0 434.0,364.4 434.2,365.2 434.5,365.8 434.8,366.7 435.0,367.0 435.2,368.0 435.5,367.5 435.8,368.1 436.0,368.9 436.2,369.9 436.5,369.3 436.8,368.7 437.0,371.0 437.2,370.0 437.5,371.0 437.8,371.3 438.0,372.0 438.2,372.9 438.5,371.8 438.8,374.2 439.0,373.6 439.2,375.1 439.5,374.6 439.8,377.0 440.0,375.8 440.2,376.0 440.5,376.2 440.8,375.6 441.0,377.5 441.2,379.0 441.5,377.4 441.8,378.8 442.0,379.6 442.2,379.9 442.5,379.8 442.8,379.8 443.0,380.9 443.2,380.9 443.5,380.3 443.8,381.1 444.0,382.0 444.2,382.8 444.5,383.4 444.8,381.7 445.0,383.8 445.2,383.9 445.5,385.0 445.8,384.9 446.0,385.1 446.2,386.2 446.5,386.0 446.8,387.2 447.0,387.6 447.2,387.4 447.5,388.1 447.8,389.3 448.0,388.6 448.2,388.7 448.5,389.5 448.8,297.5 449.1,298.4 449.3,298.1 449.6,299.7 449.9,299.2 450.1,300.1 450.4,301.4 450.6,300.8 450.9,301.7 451.2,302.6 451.4,303.1 451.7,302.7 452.0,304.5 452.2,304.4 452.5,305.0 452.8,305.6 453.0,306.4 453.3,306.9 453.5,307.1 453.8,307.9 454.1,308.0 454.3,307.6 454.6,308.1 454.8,308.8 455.1,309.2 455.4,310.0 455.6,309.4 455.9,311.2 456.1,312.0 456.4,312.5 456.7,312.5 456.9,313.0 457.2,312.8 457.4,315.1 457.7,313.9 457.9,314.5 458.2,315.3 458.4,314.9 458.7,315.4 458.9,316.7 459.2,317.7 459.4,317.3 459.7,318.3 459.9,318.8 460.2,319.1 460.4,318.9 460.7,320.4 460.9,320.2 461.2,320.2 461.4,320.6 461.7,321.7 461.9,322.7 462.2,322.6 462.4,322.6 462.7,324.1 463.0,324.4 463.2,324.4 463.5,324.1 463.7,325.2 464.0,325.9 464.2,325.6 464.5,328.1 464.7,327.0 465.0,327.5 465.3,327.1 465.5,327.0 465.8,328.7 466.0,328.2 466.3,328.5 466.5,328.3 466.8,329.3 467.0,329.3 467.3,328.6 467.6,329.2 467.8,328.9 468.1,330.1 468.3,330.0 468.6,329.9 468.8,330.4 469.1,330.1 469.3,330.1 469.6,328.6 469.8,329.1 470.1,328.8 470.3,328.5 470.6,328.8 470.8,329.2 471.1,330.5 471.4,331.0 471.7,332.1 471.9,332.3 472.2,332.9 472.5,333.3 472.8,333.3 473.0,333.5 473.3,333.7 473.5,333.6 473.8,333.5 474.0,334.6 474.3,335.4 474.5,334.3 474.8,334.4 475.1,335.8 475.3,335.4 475.6,334.7 475.8,335.8 476.1,336.4 476.4,335.9 476.7,338.1 476.9,338.4 477.2,338.6 477.5,340.0 477.8,339.7 478.1,338.9 478.3,339.5 478.6,337.9 478.9,338.2 479.2,337.5 479.4,337.2 479.7,338.2 479.9,338.7 480.2,339.0 480.4,339.3 480.7,338.3 480.9,340.3 481.2,340.5 481.4,339.7 481.7,340.0 481.9,340.0 482.2,340.1 482.4,338.4 482.7,339.1 482.9,339.2 483.2,339.1 483.4,338.8 483.7,338.3 483.9,336.6 484.2,336.8 484.4,335.7 484.7,334.2 484.9,335.0 485.2,334.9 485.5,335.2 485.7,336.2 486.0,337.1 486.2,336.7 486.5,337.6 486.8,338.7 487.0,339.2 487.3,339.0 487.5,338.9 487.8,340.4 488.1,340.1 488.3,341.7 488.6,341.2 488.8,342.9 489.1,343.0 489.3,342.6 489.6,343.6 489.8,344.1 490.1,344.8 490.3,345.6 490.6,345.6 490.8,345.8 491.1,343.9 491.4,344.9 491.7,344.0 491.9,343.5 492.2,343.0 492.5,342.5 492.8,343.0 493.1,343.5 493.4,344.9 493.7,345.0 494.0,338.5 494.3,330.8 494.6,332.0 494.9,332.2 495.1,332.5 495.4,332.7 495.7,332.2 495.9,333.9 496.2,333.6 496.4,334.1 496.7,333.7 497.0,334.7 497.2,337.1 497.5,335.8 497.8,336.0 498.0,337.0 498.3,337.6 498.5,337.6 498.8,337.4 499.1,338.0 499.3,338.7 499.6,338.5 499.8,338.4 500.1,338.9 500.4,340.7 500.6,340.6 500.9,341.0 501.1,341.5 501.4,341.5 501.7,341.7 501.9,341.6 502.2,343.9 502.4,342.9 502.7,343.7 503.0,344.1 503.2,345.2 503.5,344.9 503.8,344.6 504.0,345.1 504.3,345.8 504.5,347.3 504.8,348.1 505.1,347.7 505.3,348.0 505.6,349.1 505.8,349.2 506.1,349.6 506.3,349.5 506.6,349.6 506.9,350.6 507.1,351.5 507.4,351.8 507.6,352.0 507.9,351.6 508.1,352.9 508.4,351.4 508.6,353.0 508.9,353.6 509.2,353.0 509.4,353.1 509.7,354.2 510.0,345.1 510.3,334.2 510.6,334.2 510.9,334.3 511.1,335.3 511.4,335.0 511.7,334.1 512.0,334.9 512.2,334.9 512.5,335.0 512.8,335.8 513.0,336.2 513.2,334.6 513.5,335.3 513.8,336.8 514.0,336.1 514.2,336.2 514.5,336.0 514.8,336.8 515.0,336.7 515.3,336.7 515.5,337.4 515.8,337.7 516.0,337.7 516.3,337.6 516.6,337.8 516.8,338.6 517.1,338.9 517.3,339.8 517.6,339.9 517.9,340.3 518.1,340.0 518.4,340.6 518.6,340.8 518.9,340.9 519.2,341.1 519.4,343.2 519.7,342.5 520.0,335.9 520.3,329.2 520.6,330.1 520.9,330.1 521.1,329.9 521.4,331.6 521.7,331.5 522.0,331.6 522.2,331.4 522.5,332.5 522.8,332.9 523.0,333.8 523.3,334.5 523.5,334.4 523.8,334.6 524.0,335.0 524.3,335.9 524.5,335.6 524.8,336.5 525.1,335.8 525.3,338.2 525.6,338.4 525.8,338.3 526.1,335.7 526.4,333.0 526.7,330.8 526.9,331.4 527.2,331.2 527.4,331.2 527.7,331.6 528.0,331.9 528.2,331.7 528.5,333.1 528.8,331.8 529.0,333.2 529.3,333.3 529.5,332.7 529.8,334.2 530.1,333.0 530.3,334.0 530.6,334.2 530.8,335.0 531.1,335.1 531.3,335.4 531.6,336.6 531.8,336.4 532.1,336.7 532.3,337.2 532.6,337.7 532.8,337.6 533.1,338.7 533.3,338.8 533.6,339.3 533.8,339.4 534.1,339.8 534.3,340.2 534.6,340.2 534.8,341.1 535.1,341.7 535.3,341.5 535.6,342.1 535.8,342.5 536.3,315.8 536.6,316.4 536.8,316.3 537.1,316.6 537.3,317.1 537.6,317.4 537.8,318.2 538.1,318.0 538.3,318.3 538.6,319.0 538.9,319.0 539.1,319.8 539.4,320.2 539.6,320.6 539.9,320.0 540.2,320.8 540.4,320.8 540.7,321.5 541.0,321.9 541.2,321.9 541.5,322.2 541.7,322.7 542.0,323.3 542.2,322.2 542.5,321.3 542.8,320.6 543.0,319.2 543.2,320.0 543.5,319.2 543.8,319.8 544.0,319.9 544.2,320.1 544.5,319.9 544.8,320.8 545.0,320.8 545.3,315.3 545.6,309.4 545.8,304.2 546.1,304.2 546.4,303.9 546.6,303.3 546.9,304.0 547.1,304.2 547.4,304.0 547.7,304.5 547.9,305.2 548.2,304.6 548.4,304.6 548.7,304.2 549.0,304.7 549.2,304.8 549.5,305.2 549.7,304.7 550.0,305.0 550.3,304.8 550.5,305.0 550.8,306.0 551.1,306.1 551.3,305.8 551.6,304.8 551.9,305.2 552.2,302.9 552.5,302.5 552.8,302.4 553.0,303.2 553.2,303.1 553.5,303.1 553.8,303.3 554.0,303.9 554.2,304.1 554.5,304.4 554.8,304.3 555.0,305.0 555.2,305.7 555.5,305.4 555.8,306.4 556.0,307.2 556.2,306.5 556.5,307.2 556.8,307.8 557.0,308.4 557.2,308.6 557.5,308.7 557.8,309.7 558.0,309.8 558.2,310.7 558.5,310.6 558.8,310.8 559.0,311.3 559.2,311.8 559.5,312.5 559.8,313.1 560.0,313.3 560.3,313.3 560.5,314.3 560.8,314.1 561.0,316.2 561.3,315.6 561.5,316.0 561.8,316.2 562.1,317.2 562.3,317.9 562.6,317.7 562.8,318.3 563.1,318.7 563.3,319.3 563.6,319.3 563.8,320.2 564.1,320.4 564.4,321.6 564.6,321.0 564.9,321.8 565.1,322.4 565.4,323.1 565.6,323.4 565.9,323.5 566.2,324.2 566.4,324.9 566.7,325.0 566.9,324.8 567.2,326.1 567.4,325.9 567.7,326.9 567.9,327.5 568.2,327.0 568.4,327.5 568.7,328.1 568.9,328.3 569.2,329.2 569.4,329.5 569.7,329.1 569.9,329.4 570.2,330.2 570.4,330.4 570.7,331.3 570.9,331.8 571.2,331.7 571.4,331.7 571.7,332.5 571.9,332.7 572.2,333.4 572.4,333.8 572.7,334.1 572.9,334.4 573.2,335.3 573.4,335.4 573.7,336.0 573.9,336.7 574.2,336.1 574.4,337.2 574.7,337.5 575.0,331.5 575.3,325.8 575.6,325.9 575.9,326.5 576.1,326.5 576.4,326.8 576.7,328.4 577.0,328.4 577.2,328.4 577.5,328.3 577.8,326.9 578.1,326.0 578.4,324.9 578.7,324.2 578.9,324.4 579.2,324.9 579.4,325.4 579.7,325.0 579.9,326.2 580.2,326.2 580.4,326.8 580.7,326.8 580.9,327.4 581.2,327.5 581.7,300.8 581.9,300.5 582.2,301.4 582.4,301.1 582.7,301.3 583.0,301.8 583.2,301.9 583.5,301.2 583.7,302.8 584.0,302.3 584.2,302.7 584.5,302.8 584.7,302.9 585.0,303.3 585.0,304.2 585.2,304.5 585.5,305.1 585.8,305.4 586.0,305.5 586.2,306.2 586.5,307.3 586.8,307.4 587.0,307.7 587.2,308.7 587.5,308.5 587.8,309.8 588.0,309.8 588.2,310.0 588.5,310.2 588.8,310.7 589.0,311.2 589.2,312.4 589.5,313.1 589.8,313.2 590.0,313.3 590.3,311.7 590.5,310.4 590.8,308.1 591.1,306.9 591.3,305.8 591.6,306.1 591.8,307.3 592.1,307.2 592.3,307.9 592.6,308.1 592.8,308.0 593.1,308.7 593.3,309.2 593.6,309.2 593.8,309.3 594.1,310.2 594.4,310.5 594.6,310.9 594.9,311.3 595.1,311.1 595.4,311.3 595.6,311.9 595.9,312.3 596.2,313.1 596.4,313.0 596.7,313.3 596.9,311.4 597.2,310.1 597.5,308.4 597.7,306.3 598.0,305.0 598.2,305.8 598.5,305.2 598.8,306.2 599.0,306.9 599.2,307.0 599.5,307.5 599.8,307.2 600.0,308.3 600.3,308.7 600.5,309.3 600.8,309.3 601.0,310.1 601.3,310.4 601.5,311.0 601.8,311.6 602.0,311.8 602.3,312.5 602.6,312.7 602.8,313.8 603.1,313.8 603.3,314.2 603.6,313.0 603.9,312.5 604.1,312.4 604.4,312.0 604.7,310.8 604.9,310.9 605.2,311.5 605.4,311.4 605.7,312.6 606.0,312.4 606.2,312.5 606.5,313.4 606.7,312.3 607.0,313.7 607.2,313.4 607.5,314.2 607.8,314.6 608.0,314.7 608.3,314.8 608.5,315.5 608.8,315.8 609.1,317.2 609.3,316.6 609.6,317.8 609.8,317.8 610.1,317.7 610.4,317.6 610.6,318.8 610.9,319.0 611.1,318.7 611.4,320.4 611.7,320.0 611.9,320.6 612.2,320.9 612.4,321.8 612.7,322.2 613.0,322.5 613.2,322.9 613.5,323.4 613.8,323.0 614.0,324.0 614.3,324.6 614.5,326.2 614.8,325.8 615.1,326.0 615.3,326.7 615.6,326.9 615.8,327.5 616.1,315.6 616.4,303.2 616.7,291.4 617.0,279.2 617.2,279.6 617.5,279.7 617.8,279.9 618.0,280.0 618.2,280.0 618.5,280.7 618.8,280.9 619.0,281.3 619.2,281.6 619.5,282.0 619.8,282.2 620.0,282.5 620.2,282.8 620.5,283.5 620.8,283.9 621.0,283.8 621.2,284.4 621.5,284.8 621.8,284.9 622.0,285.6 622.2,285.8 622.5,286.6 622.8,286.4 623.0,287.1 623.2,287.2 623.5,287.5 623.8,288.2 624.0,288.5 624.2,289.1 624.5,289.4 624.8,289.3 625.0,290.0 625.2,290.2 625.5,289.6 625.8,289.7 626.0,289.5 626.2,289.6 626.5,289.5 626.8,289.4 627.0,289.8 627.2,289.1 627.5,289.2 627.8,289.5 628.0,289.8 628.3,290.8 628.5,290.6 628.8,291.2 629.1,291.6 629.3,292.0 629.6,292.5 629.8,292.6 630.1,293.2 630.4,293.9 630.6,293.9 630.9,294.7 631.1,294.8 631.4,295.6 631.7,295.8 631.9,296.1 632.2,296.4 632.4,296.7 632.7,297.7 633.0,297.8 633.2,297.9 633.5,298.9 633.8,298.6 634.0,298.9 634.3,299.7 634.5,299.8 634.8,300.4 635.1,300.4 635.3,301.1 635.6,301.3 635.8,301.7 636.1,299.2 636.4,296.8 636.7,294.0 637.0,291.7 637.3,291.9 637.5,292.3 637.8,292.5 638.1,292.9 638.4,293.3 638.6,293.4 638.9,293.7 639.2,294.2 639.4,294.8 639.7,295.6 639.9,295.7 640.2,296.1 640.5,296.3 640.7,296.7 641.0,297.5 641.2,298.1 641.5,298.2 641.7,298.8 642.0,299.0 642.2,299.3 642.5,300.0 642.8,294.9 643.1,289.7 643.3,285.0 643.6,285.4 643.8,285.5 644.1,286.3 644.4,286.6 644.6,286.6 644.9,287.0 645.1,287.2 645.4,287.8 645.6,288.4 645.9,288.3 646.2,288.4 646.4,288.7 646.7,289.2 646.9,289.5 647.2,290.0 647.4,290.3 647.7,290.6 648.0,291.1 648.2,291.5 648.5,291.8 648.7,292.0 649.0,292.6 649.2,292.7 649.5,293.3 649.7,293.7 650.0,294.2 650.3,294.7 650.5,295.0 650.8,295.2 651.1,295.6 651.3,296.5 651.6,296.5 651.9,297.2 652.1,297.5 652.4,297.9 652.7,298.3 653.0,190.2 653.3,190.3 653.6,190.1 653.9,190.2 653.9,297.0 654.2,298.3 654.5,299.5 654.8,300.9 655.0,302.0 655.3,303.3 655.6,301.3 655.9,299.7 656.1,297.8 656.4,295.9 656.7,294.2 656.9,294.4 657.2,295.3 657.4,295.4 657.7,296.1 657.9,296.6 658.2,297.3 658.4,297.8 658.7,298.4 658.9,298.3 659.2,299.2 659.4,299.6 659.7,299.9 659.9,300.8 660.2,301.6 660.4,301.5 660.7,302.3 660.9,302.2 661.2,303.1 661.4,303.8 661.7,304.2 662.0,302.0 662.2,299.9 662.5,297.9 662.8,295.8 663.1,296.5 663.4,296.8 663.6,297.3 663.9,297.8 664.2,298.5 664.5,299.1 664.7,299.4 665.0,300.0 665.3,300.5 665.5,300.9 665.8,301.5 666.0,302.2 666.3,302.3 666.5,302.7 666.8,303.1 667.0,303.4 667.3,303.8 667.6,304.5 667.8,304.8 668.1,305.5 668.3,305.8 668.6,297.0 668.8,288.6 669.1,279.6 669.3,270.8 669.6,271.1 669.9,271.4 670.1,271.4 670.4,272.5 670.7,272.5 670.9,272.6 671.2,273.3 671.4,273.4 671.7,273.7 672.0,274.2 672.2,274.4 672.5,275.0 672.8,275.5 673.0,275.6 673.3,275.9 673.5,276.6 673.8,276.7 674.0,277.2 674.3,277.9 674.5,278.5 674.8,278.1 675.1,278.5 675.3,279.0 675.6,279.7 675.8,280.0 676.1,280.0 676.3,280.4 676.6,280.3 676.8,280.7 677.1,280.6 677.3,280.6 677.6,281.0 677.8,281.4 678.1,281.5 678.3,281.7 678.6,280.5 678.8,279.1 679.1,277.6 679.3,276.7 679.6,277.0 679.9,277.4 680.1,277.9 680.4,278.2 680.7,278.4 680.9,278.6 681.2,279.3 681.4,279.1 681.7,279.6 682.0,279.9 682.2,280.4 682.5,280.8 682.8,281.3 683.0,281.2 683.3,282.2 683.5,281.9 683.8,282.7 684.1,282.6 684.3,283.1 684.6,283.1 684.8,283.6 685.1,283.8 685.4,284.5 685.6,284.4 685.9,285.0 686.1,285.6 686.4,285.5 686.7,285.8 686.9,285.9 687.2,286.2 687.4,285.7 687.7,286.3 688.0,286.5 688.2,286.6 688.5,286.5 688.7,286.9 689.0,287.1 689.2,287.3 689.5,287.1 689.7,287.3 690.0,287.5 690.2,287.2 690.5,286.8 690.8,286.7 691.0,286.4 691.2,286.4 691.5,286.3 691.8,286.5 692.0,285.8 692.2,286.3 692.5,286.6 692.8,286.7 693.0,287.6 693.2,287.9 693.5,287.9 693.8,288.1 694.0,288.6 694.2,288.9 694.5,289.0 694.8,289.6 695.0,290.0 695.2,290.2 695.5,290.7 695.8,290.9 696.0,291.0 696.2,291.6 696.5,291.8 696.8,291.9 697.0,292.1 697.2,292.3 697.5,292.9 697.8,293.1 698.0,293.3 698.3,274.5 698.7,255.8 698.9,256.2 699.2,256.2 699.4,257.1 699.7,257.3 699.9,257.8 700.2,257.7 700.4,258.3 700.7,258.5 700.9,259.2 701.2,259.8 701.4,259.6 701.7,260.0 701.9,260.3 702.2,260.7 702.4,260.4 702.7,260.8 702.9,261.0 703.2,261.3 703.4,261.2 703.7,261.4 703.9,261.6 704.2,262.1 704.4,262.3 704.7,262.7 704.9,262.8 705.2,263.1 705.4,263.2 705.7,263.4 705.9,263.7 706.2,263.7 706.4,264.0 706.7,264.2 706.9,264.6 707.2,265.6 707.4,265.0 707.7,265.8 708.0,266.1 708.2,266.4 708.5,266.7 708.8,267.0 709.0,267.2 709.3,267.8 709.5,268.2 709.8,268.3 710.1,269.0 710.3,269.0 710.6,269.8 710.8,270.0 711.1,270.9 711.3,270.9 711.6,271.5 711.8,272.4 712.1,272.1 712.3,272.9 712.6,273.2 712.8,273.9 713.1,274.7 713.3,275.0 713.6,267.7 713.8,259.9 714.1,252.7 714.3,245.0 714.6,245.0 714.9,245.6 715.1,246.3 715.4,246.8 715.7,247.0 715.9,247.3 716.2,247.4 716.4,248.0 716.7,248.1 717.0,248.8 717.2,248.8 717.5,249.2 717.8,249.7 718.1,249.7 718.3,250.4 718.6,251.0 718.9,251.0 719.2,251.7 719.4,252.1 719.7,252.5 719.9,252.8 720.2,253.1 720.4,253.5 720.7,253.6 721.0,254.2 721.2,255.2 721.5,254.9 721.7,255.5 722.0,255.6 722.2,256.8 722.5,256.6 722.7,257.1 723.0,257.5 723.2,252.4 723.5,247.0 723.8,242.4 724.0,236.7 724.3,237.2 724.5,237.5 724.8,237.5 725.1,238.4 725.3,238.6 725.6,239.3 725.9,239.5 726.1,239.8 726.4,240.6 726.7,240.8 726.9,241.2 727.2,241.5 727.4,241.9 727.7,242.3 728.0,242.6 728.2,243.3 728.5,243.2 728.7,243.9 729.0,244.1 729.2,244.8 729.5,245.1 729.7,245.6 730.0,245.8 730.3,241.4 730.6,237.1 730.8,233.3 731.1,233.9 731.4,234.1 731.6,234.3 731.9,235.1 732.1,235.6 732.4,235.7 732.7,236.2 732.9,236.4 733.2,236.9 733.4,237.5 733.7,237.9 734.0,238.3 734.2,238.6 734.5,239.3 734.7,239.7 735.0,240.0 735.3,240.9 735.5,240.8 735.8,241.3 736.0,241.9 736.3,242.2 736.5,242.6 736.8,243.2 737.1,243.7 737.3,244.3 737.6,244.7 737.8,245.4 738.1,245.9 738.3,246.4 738.6,246.8 738.8,247.0 739.1,247.6 739.4,247.9 739.6,248.8 739.9,249.4 740.1,249.9 740.4,249.9 740.6,250.9 740.9,251.1 741.2,251.6 741.4,252.3 741.7,252.5 741.9,252.9 742.2,253.1 742.4,253.6 742.7,253.8 743.0,254.2 743.2,254.8 743.5,254.7 743.7,255.0 744.0,255.8 744.2,256.1 744.5,256.4 744.7,256.9 745.0,256.9 745.3,257.6 745.5,257.6 745.8,258.0 746.0,258.7 746.3,258.8 746.5,259.2 746.8,259.4 747.0,260.1 747.3,260.5 747.6,260.4 747.8,261.0 748.1,261.4 748.3,261.7 748.6,262.1 748.8,262.2 749.1,263.1 749.4,263.4 749.6,263.4 749.9,264.0 750.1,264.9 750.4,265.1 750.6,265.1 750.9,265.7 751.2,266.2 751.4,266.6 751.7,267.0 751.9,267.4 752.2,267.8 752.4,268.5 752.7,268.5 752.9,269.4 753.2,269.7 753.5,270.0 753.7,270.7 754.0,271.0 754.2,271.3 754.5,271.8 754.7,272.1 755.0,272.5 755.3,272.9 755.5,273.3 755.8,273.5 756.0,273.5 756.3,273.8 756.5,274.2 756.8,274.4 757.0,274.6 757.3,275.3 757.5,275.1 757.8,275.6 758.0,275.7 758.3,276.2 758.5,276.6 758.8,276.6 759.0,276.9 759.3,277.3 759.5,277.5 759.8,277.7 760.0,278.1 760.3,278.4 760.6,278.5 760.8,279.0 761.1,278.9 761.3,279.2 761.6,279.9 761.8,280.2 762.1,280.2 762.3,280.2 762.6,280.7 762.8,281.2 763.1,281.5 763.3,281.7 763.6,282.1 763.8,282.4 764.1,282.3 764.4,282.8 764.6,283.1 764.9,283.5 765.1,284.2 765.4,284.3 765.6,284.4 765.9,284.8 766.2,284.7 766.4,285.6 766.7,285.7 766.9,286.2 767.2,286.5 767.4,286.4 767.7,287.2 767.9,287.3 768.2,287.7 768.5,287.8 768.7,288.4 769.0,288.8 769.2,289.2 769.5,289.4 769.7,289.7 770.0,290.0 770.2,290.7 770.5,290.8 770.8,291.3 771.0,292.1 771.2,291.8 771.5,292.3 771.8,292.7 772.0,293.3 772.3,271.3 772.6,249.4 772.8,227.5 773.1,227.8 773.3,228.5 773.6,228.7 773.8,228.6 774.1,229.2 774.3,229.4 774.6,229.6 774.8,230.1 775.1,230.5 775.3,230.3 775.6,231.1 775.8,231.0 776.1,231.4 776.3,231.8 776.6,231.9 776.8,232.3 777.1,232.6 777.3,233.0 777.6,233.2 777.8,233.5 778.1,233.7 778.3,234.2 778.6,234.5 778.8,234.9 779.1,234.9 779.3,235.5 779.6,236.0 779.8,236.1 780.1,236.5 780.3,236.7 780.6,236.9 780.8,237.2 781.1,237.5 781.3,237.8 781.6,237.9 781.8,238.3 782.1,239.1 782.3,238.8 782.6,239.2 782.8,239.5 783.1,240.1 783.3,240.3 783.6,240.8 783.8,240.8 784.1,241.5 784.3,241.5 784.6,241.7 784.8,242.4 785.1,242.8 785.3,243.1 785.6,242.9 785.8,243.5 786.1,243.8 786.3,244.0 786.6,244.1 786.8,244.9 787.1,245.1 787.3,245.4 787.6,245.5 787.8,245.8 788.1,246.4 788.3,246.7 788.6,246.9 788.8,247.3 789.1,247.7 789.3,248.0 789.6,248.6 789.8,248.7 790.1,249.3 790.3,249.8 790.6,249.9 790.8,249.9 791.1,250.4 791.3,251.0 791.6,251.4 791.8,251.4 792.1,251.9 792.3,252.3 792.6,252.5 792.8,253.1 793.1,253.4 793.3,254.0 793.6,253.9 793.8,254.6 794.1,254.8 794.3,255.3 794.6,255.4 794.8,255.8 795.1,256.4 795.3,256.8 795.6,256.8 795.8,257.4 796.1,257.6 796.3,258.0 796.6,258.7 796.8,258.9 797.1,259.1 797.3,259.6 797.6,259.7 797.8,260.1 798.1,260.6 798.3,260.8 798.6,261.0 798.8,261.5 799.1,262.2 799.3,262.2 799.6,262.6 799.8,263.2 800.1,263.6 800.3,263.6 800.6,264.2 800.8,264.2 801.1,264.5 801.3,265.1 801.6,265.8 801.8,265.7 802.1,266.2 802.3,266.6 802.6,266.6 802.8,267.1 803.1,267.8 803.3,268.1 803.6,268.3 803.8,268.2 804.1,269.0 804.3,269.5 804.6,269.4 804.8,270.1 805.1,270.3 805.3,270.5 805.6,271.3 805.8,271.8 806.1,271.7 806.3,272.4 806.6,272.5 806.8,272.9 807.1,273.1 807.3,273.5 807.6,273.8 807.8,274.4 808.1,274.6 808.3,275.0 808.6,275.6 808.8,275.8 809.1,276.1 809.3,276.7 809.6,277.4 809.8,277.6 810.1,278.1 810.4,277.9 810.6,278.5 810.9,278.8 811.1,279.4 811.4,279.8 811.6,279.9 811.9,280.5 812.1,281.1 812.4,281.6 812.6,281.5 812.9,282.6 813.1,282.6 813.4,283.2 813.6,283.2 813.9,283.9 814.1,284.5 814.4,284.9 814.6,285.1 814.9,285.2 815.2,286.1 815.4,286.3 815.7,286.7 815.9,287.4 816.2,287.2 816.4,288.4 816.7,288.3 816.9,288.6 817.2,289.5 817.5,290.1 817.7,290.3 818.0,291.1 818.2,291.0 818.5,291.9 818.8,292.2 819.0,292.5 819.3,293.2 819.5,293.4 819.8,293.8 820.1,294.8 820.3,295.0 820.6,290.5 820.9,285.4 821.2,280.8 821.4,280.9 821.7,281.5 821.9,281.9 822.2,282.7 822.4,282.7 822.7,283.3 823.0,283.5 823.2,283.6 823.5,284.7 823.7,284.8 824.0,284.9 824.2,285.5 824.5,286.1 824.7,286.1 825.0,286.7 825.3,286.9 825.5,287.3 825.8,288.2 826.0,288.9 826.3,288.7 826.5,289.2 826.8,289.7 827.0,290.2 827.3,290.9 827.5,291.2 827.8,291.5 828.0,292.1 828.3,292.4 828.6,292.5 828.8,293.2 829.1,294.1 829.3,294.2 829.6,294.5 829.8,295.1 830.1,295.3 830.3,295.8 830.6,287.5 830.9,279.1 831.2,270.8 831.4,271.2 831.7,271.8 831.9,272.0 832.2,272.4 832.4,272.9 832.7,273.1 833.0,273.6 833.2,274.1 833.5,274.3 833.7,274.5 834.0,275.2 834.2,275.2 834.5,276.1 834.7,276.3 835.0,276.7 835.2,276.8 835.5,277.3 835.8,277.7 836.0,277.7 836.2,278.7 836.5,279.2 836.8,279.3 837.0,279.7 837.2,280.0 837.5,280.5 837.8,281.1 838.0,281.4 838.2,281.4 838.5,281.9 838.8,282.4 839.0,282.5 839.2,282.9 839.5,283.3 839.8,283.9 840.0,284.2 840.3,284.7 840.5,284.6 840.8,285.4 841.0,286.2 841.3,286.3 841.5,286.9 841.8,287.4 842.0,287.8 842.3,288.2 842.6,288.4 842.8,289.4 843.1,289.7 843.3,290.0 843.6,277.8 843.9,265.8 844.2,253.3 844.4,253.7 844.7,254.0 844.9,254.4 845.2,255.1 845.5,255.7 845.7,256.0 846.0,256.2 846.2,256.3 846.5,256.9 846.8,257.3 847.0,258.1 847.3,258.7 847.6,258.2 847.8,259.0 848.1,259.6 848.3,260.0 848.6,260.7 848.8,260.7 849.1,261.0 849.4,261.6 849.6,261.5 849.9,261.8 850.1,262.0 850.4,262.6 850.6,262.5 850.9,263.1 851.2,263.4 851.4,263.8 851.7,264.2 851.9,264.6 852.2,264.9 852.4,265.0 852.7,265.6 852.9,265.7 853.2,265.9 853.5,266.3 853.7,266.5 854.0,267.2 854.2,267.4 854.5,267.7 854.7,268.2 855.0,268.3 855.0,269.1 855.3,269.8 855.5,269.6 855.8,270.0 856.0,270.6 856.3,270.6 856.5,271.2 856.8,271.3 857.0,271.8 857.3,272.3 857.5,272.7 857.8,272.6 858.0,273.3 858.3,274.0 858.5,273.9 858.8,274.2 859.0,274.7 859.3,275.0 859.5,275.0 859.8,275.8 860.0,276.0 860.3,276.4 860.5,276.5 860.8,276.9 861.0,277.1 861.3,277.9 861.5,278.1 861.8,277.9 862.1,278.5 862.3,278.9 862.6,279.4 862.8,279.5 863.1,280.1 863.3,280.5 863.6,280.8 863.8,281.1 864.1,281.8 864.3,281.6 864.6,281.6 864.8,282.4 865.1,283.3 865.3,283.6 865.6,283.4 865.8,283.6 866.1,284.2 866.4,259.9 866.7,235.2 866.9,235.2 867.2,236.2 867.4,236.3 867.7,236.7 867.9,237.0 868.2,237.5 868.4,238.0 868.7,238.3 868.9,238.7 869.2,239.1 869.4,239.5 869.7,240.5 869.9,240.6 870.2,240.5 870.4,241.2 870.7,241.8 870.9,241.6 871.2,242.3 871.4,242.5 871.7,242.9 871.9,243.4 872.2,242.9 872.4,242.0 872.7,240.8 872.9,240.4 873.2,239.2 873.4,238.8 873.7,239.2 873.9,239.8 874.2,239.9 874.4,240.8 874.7,240.8 874.9,241.0 875.2,241.6 875.5,242.0 875.7,242.7 876.0,242.8 876.2,243.6 876.5,243.8 876.7,244.1 877.0,244.6 877.2,245.0 877.5,245.4 877.7,245.6 878.0,246.2 878.2,246.9 878.5,247.1 878.7,247.7 879.0,247.7 879.2,248.4 879.5,248.8 879.8,249.2 880.0,249.4 880.3,250.1 880.5,250.4 880.8,250.9 881.0,251.1 881.3,251.3 881.5,252.0 881.8,252.0 882.0,253.1 882.3,253.3 882.5,253.9 882.8,253.9 883.0,254.7 883.3,255.0 883.5,255.5 883.8,255.7 884.0,256.5 884.3,256.8 884.6,257.5 884.8,257.8 885.1,257.8 885.3,258.3 885.6,259.1 885.8,259.2 886.1,259.4 886.3,260.0 886.6,260.5 886.8,260.9 887.1,261.4 887.3,261.5 887.6,262.0 887.8,262.5 888.1,263.2 888.3,263.5 888.6,263.7 888.9,264.4 889.1,264.3 889.4,264.9 889.6,265.3 889.9,266.1 890.1,266.0 890.4,267.1 890.6,266.8 890.9,267.7 891.1,267.8 891.4,268.2 891.6,268.8 891.9,269.1 892.1,269.8 892.4,270.3 892.6,270.6 892.9,270.7 893.2,271.3 893.4,271.8 893.7,272.1 893.9,272.7 894.2,273.0 894.4,273.5 894.7,273.8 895.1,239.8 895.4,240.0 895.7,240.1 896.0,239.8 896.0,269.5 896.2,269.8 896.5,270.1 896.7,270.9 897.0,270.7 897.2,271.1 897.5,271.4 897.7,272.4 898.0,272.6 898.2,272.6 898.5,273.4 898.7,273.4 899.0,274.1 899.2,274.4 899.5,274.8 899.7,275.3 900.0,275.6 900.2,275.8 900.5,275.9 900.8,276.5 901.0,276.9 901.3,277.3 901.5,277.6 901.8,278.2 902.0,278.6 902.3,278.7 902.5,279.4 902.8,279.2 903.0,279.8 903.3,280.5 903.5,280.7 903.8,281.1 904.0,281.6 904.3,281.9 904.5,282.4 904.8,282.8 905.0,283.3 905.3,283.4 905.6,283.7 905.8,284.3 906.1,285.0 906.3,285.1 906.6,285.2 906.8,286.2 907.1,286.0 907.3,286.5 907.6,287.2 907.8,287.3 908.1,287.8 908.4,270.1 908.6,252.4 908.9,234.7 909.2,235.0 909.4,235.6 909.7,236.1 909.9,236.4 910.2,236.5 910.4,237.5 910.7,237.8 910.9,237.9 911.2,238.5 911.4,239.0 911.7,239.9 911.9,240.0 912.2,240.5 912.4,241.2 912.7,241.8 912.9,241.3 913.2,242.4 913.4,243.1 913.7,243.3 913.9,243.6 914.2,244.4 914.4,244.6 914.7,244.9 914.9,245.4 915.2,246.0 915.4,246.6 915.7,246.8 915.9,246.9 916.2,247.7 916.4,248.0 916.7,248.4 916.9,249.1 917.2,249.5 917.4,249.8 917.7,250.4 917.9,250.7 918.2,251.5 918.4,251.6 918.7,252.0 918.9,252.3 919.2,253.0 919.4,253.4 919.7,254.1 919.9,254.5 920.2,255.1 920.4,255.5 920.7,255.7 920.9,256.2 921.2,250.7 921.5,245.4 921.7,240.1 922.0,241.0 922.2,240.1 922.5,241.6 922.7,240.8 923.0,242.1 923.3,241.9 923.5,243.2 923.8,243.4 924.0,244.3 924.3,244.6 924.5,244.5 924.8,245.4 925.0,244.5 925.3,245.3 925.5,245.6 925.8,247.3 926.1,246.6 926.3,246.8 926.6,246.9 926.8,248.0 927.1,248.8 927.3,248.9 927.6,245.4 927.9,239.9 928.2,236.0 928.5,232.6 928.8,233.4 929.0,233.0 929.2,234.0 929.5,234.3 929.8,234.4 930.0,234.7 930.2,235.2 930.5,236.1 930.8,236.4 931.0,235.4 931.2,237.3 931.5,237.5 931.8,238.2 932.0,238.4 932.2,238.6 932.5,238.9 932.8,238.9 933.0,239.9 933.2,239.7 933.5,240.7 933.8,241.1 934.0,241.3 934.2,241.7 934.5,241.4 934.8,242.2 935.0,242.5 935.2,243.2 935.5,243.4 935.8,243.6 936.0,244.0 936.2,244.7 936.5,244.8 936.8,245.7 937.0,246.2 937.2,247.2 937.5,247.2 937.8,247.5 938.0,247.2 938.2,247.9 938.5,247.8 938.8,249.0 939.0,249.2 939.2,249.8 939.5,250.3 939.8,250.1 940.0,250.8 940.2,250.6 940.5,251.3 940.8,252.3 941.0,252.2 941.2,253.1 941.5,253.4 941.8,252.8 942.0,254.0 942.2,254.0 942.5,254.7 942.8,255.0 943.0,255.2 943.2,255.7 943.5,256.2 943.8,257.0 944.0,257.1 944.2,257.1 944.5,257.7 944.8,257.4 945.0,257.9 945.2,258.9 945.5,259.4 945.8,258.9 946.0,260.0 946.2,259.9 946.5,260.2 946.8,260.7 947.0,261.2 947.2,261.7 947.5,262.4 947.8,262.1 948.0,262.9 948.2,262.7 948.5,263.4 948.8,263.8 949.0,263.9 949.2,264.5 949.5,265.1 949.8,265.9 950.0,265.5 950.2,265.5 950.5,265.8 950.8,266.5 951.0,267.3 951.2,266.9 951.5,268.7 951.8,267.9 952.0,268.8 952.2,267.8 952.5,269.6 952.8,269.3 953.0,269.6 953.2,270.2 953.5,271.1 953.8,270.9 954.0,271.8 954.2,271.9 954.5,272.3 954.8,272.4 955.0,273.3 955.2,273.6 955.5,273.8 955.8,273.9 956.0,274.5 956.2,274.9 956.5,274.9 956.8,265.8 957.1,257.5 957.4,247.3 957.7,239.0 957.9,239.6 958.2,240.5 958.4,241.1 958.7,241.4 958.9,242.0 959.2,242.6 959.4,243.8 959.7,244.2 959.9,244.1 960.2,245.5 960.4,246.0 960.7,245.8 961.0,247.1 961.2,247.6 961.5,248.6 961.7,249.6 962.0,249.7 962.2,250.9 962.5,250.5 962.7,251.1 963.0,252.1 963.2,252.5 963.5,252.9 963.7,254.3 964.0,255.4 964.2,254.6 964.5,255.7 964.7,256.6 965.0,256.9 965.2,257.0 965.5,258.4 965.7,258.4 966.0,259.3 966.3,251.6 966.6,244.0 966.9,236.4 967.2,237.5 967.4,237.0 967.7,237.7 967.9,238.0 968.2,239.2 968.4,240.3 968.7,240.8 968.9,240.5 969.2,241.2 969.4,241.9 969.7,242.4 969.9,243.1 970.2,244.0 970.5,243.5 970.7,244.2 971.0,244.5 971.2,245.9 971.5,246.2 971.7,246.5 972.0,247.5 972.2,247.5 972.5,248.4 972.7,248.7 973.0,250.2 973.2,250.2 973.5,251.0 973.7,250.9 974.0,251.3 974.2,251.9 974.5,252.9 974.7,252.7 975.0,253.5 975.2,254.5 975.5,255.5 975.7,255.4 976.0,255.8 976.2,256.2 976.5,256.5 976.7,257.5 977.0,257.9 977.2,258.4 977.5,258.6 977.7,259.8 978.0,260.4 978.2,260.7 978.5,259.3 978.8,258.3 979.0,256.4 979.3,256.2 979.5,254.5 979.8,253.1 980.0,253.4 980.3,253.6 980.5,254.8 980.8,254.7 981.0,255.9 981.3,255.9 981.5,256.1 981.8,256.8 982.0,258.5 982.3,258.5 982.5,258.3 982.8,259.3 983.1,259.0 983.3,260.1 983.6,260.2 983.8,260.3 984.1,261.3 984.3,261.3 984.6,262.5 984.8,262.7 985.1,263.5 985.3,264.0 985.6,265.3 985.8,265.0 986.1,266.3 986.3,265.9 986.6,266.4 986.8,267.0 987.1,268.0 987.3,268.1 987.6,268.9 987.8,269.2 988.1,269.1 988.4,270.2 988.6,270.0 988.9,271.2 989.1,271.2 989.4,272.5 989.6,272.1 989.9,273.0 990.1,273.7 990.4,273.8 990.6,275.3 990.9,274.8 991.1,275.1 991.4,276.0 991.6,276.4 991.9,277.5 992.1,276.9 992.4,278.0 992.6,278.2 992.9,278.7 993.2,279.6 993.4,279.6 993.7,279.8 993.9,281.4 994.2,281.8 994.4,281.5 994.7,282.2 994.9,283.4 995.2,283.4 995.4,257.7 995.7,234.4 995.9,209.3 996.2,184.5 996.5,185.3 996.7,185.4 997.0,186.1 997.2,187.1 997.5,187.1 997.7,187.3 998.0,186.9 998.2,188.2 998.5,188.7 998.7,189.3 999.0,189.3 999.3,190.1 999.5,190.6 999.8,190.8 1000.0,191.5 1000.3,191.7 1000.5,192.4 1000.8,192.6 1001.0,192.9 1001.3,193.7 1001.5,194.5 1001.8,195.2 1002.1,194.9 1002.3,196.1 1002.6,196.7 1002.8,195.6 1003.1,196.8 1003.3,197.5 1003.6,198.5 1003.8,198.1 1004.1,199.5 1004.3,199.7 1004.6,199.6 1004.8,200.6 1005.1,201.4 1005.3,201.5 1005.6,202.1 1005.8,203.0 1006.1,202.9 1006.3,203.9 1006.6,203.1 1006.8,203.7 1007.1,205.6 1007.3,205.4 1007.6,205.5 1007.8,206.9 1008.1,207.2 1008.3,207.4 1008.6,208.2 1008.8,208.5 1009.1,208.2 1009.3,209.6 1009.6,210.1 1009.8,210.5 1010.1,210.8 1010.3,211.5 1010.6,212.0 1010.8,212.6 1011.1,213.1 1011.3,212.4 1011.6,213.9 1011.8,214.0 1012.1,215.4 1012.4,215.1 1012.6,215.8 1012.9,216.5 1013.1,216.8 1013.4,217.2 1013.6,217.3 1013.9,218.5 1014.1,218.5 1014.4,219.3 1014.6,220.4 1014.9,220.6 1015.1,221.2 1015.4,221.1 1015.6,221.5 1015.9,222.5 1016.1,222.3 1016.4,223.3 1016.7,223.5 1016.9,223.9 1017.2,224.6 1017.4,224.8 1017.7,225.7 1017.9,226.1 1018.2,222.6 1018.5,219.6 1018.8,216.5 1019.1,213.8 1019.3,214.6 1019.6,214.2 1019.8,215.2 1020.1,215.9 1020.4,216.1 1020.6,216.9 1020.9,217.4 1021.1,217.4 1021.4,218.6 1021.6,218.7 1021.9,219.8 1022.1,220.1 1022.4,220.5 1022.7,220.7 1022.9,220.7 1023.2,222.3 1023.4,222.1 1023.7,221.7 1023.9,223.8 1024.2,224.1 1024.4,224.0 1024.7,224.1 1024.9,224.6 1025.2,225.1 1025.5,225.8 1025.7,226.3 1026.0,226.9 1026.2,227.3 1026.5,228.0 1026.7,228.1 1027.0,228.7 1027.2,229.7 1027.5,230.0 1027.8,230.2 1028.0,230.7 1028.3,230.9 1028.5,232.4 1028.8,232.5 1029.0,232.7 1029.3,232.9 1029.5,234.0 1029.8,234.4 1030.1,234.9 1030.3,235.6 1030.6,235.7 1030.8,236.1 1031.1,236.2 1031.3,237.2 1031.6,224.7 1031.9,212.7 1032.2,212.4 1032.4,213.9 1032.7,214.0 1032.9,215.0 1033.2,214.4 1033.5,215.5 1033.7,217.2 1034.0,216.5 1034.2,217.1 1034.5,217.9 1034.7,218.8 1035.0,217.8 1035.3,218.6 1035.5,219.3 1035.8,219.8 1036.0,220.4 1036.3,221.5 1036.5,221.0 1036.8,221.6 1037.0,222.4 1037.3,222.7 1037.6,223.1 1037.8,223.4 1038.1,224.4 1038.3,224.9" fill="none" stroke="#ff0000" stroke-opacity="0.6" stroke-width="2.08" stroke-linejoin="round" stroke-linecap="square"/>
</g>
<rect x="150.5" y="72.5" width="930" height="462" fill="none" stroke="#000" stroke-width="1.11"/>
<g stroke="#000" stroke-width="1.11"><line x1="192.50" x2="192.50" y1="534.5" y2="539.40"/><line x1="361.50" x2="361.50" y1="534.5" y2="539.40"/><line x1="531.50" x2="531.50" y1="534.5" y2="539.40"/><line x1="700.50" x2="700.50" y1="534.5" y2="539.40"/><line x1="869.50" x2="869.50" y1="534.5" y2="539.40"/><line x1="1038.50" x2="1038.50" y1="534.5" y2="539.40"/><line x1="145.60" x2="150.5" y1="488.50" y2="488.50"/><line x1="145.60" x2="150.5" y1="395.50" y2="395.50"/><line x1="145.60" x2="150.5" y1="303.50" y2="303.50"/><line x1="145.60" x2="150.5" y1="211.50" y2="211.50"/><line x1="145.60" x2="150.5" y1="118.50" y2="118.50"/></g>
<text x="183.63 191.87" y="555" font-size="13.89">30</text>
<text x="352.79 361.03" y="555" font-size="13.89">40</text>
<text x="521.95 530.19" y="555" font-size="13.89">50</text>
<text x="691.11 699.35" y="555" font-size="13.89">60</text>
<text x="860.27 868.51" y="555" font-size="13.89">70</text>
<text x="1029.43 1037.67" y="555" font-size="13.89">80</text>
<text x="119.2 126.95 131.36" y="493.00" font-size="13.89">0.6</text>
<text x="119.2 126.95 131.36" y="401.00" font-size="13.89">0.8</text>
<text x="119.2 126.95 131.36" y="308.00" font-size="13.89">1.0</text>
<text x="119.2 126.95 131.36" y="216.00" font-size="13.89">1.2</text>
<text x="119.2 126.95 131.36" y="124.00" font-size="13.89">1.4</text>
<text x="615" y="573.5" font-size="13.89" text-anchor="middle">Frequency (MHz)</text>
<text transform="translate(109,304.4) rotate(-90)" font-size="13.89" text-anchor="middle">Normalized Power</text>
<text x="615" y="64" font-size="16.67" text-anchor="middle">2025-04-01 - Cor 172 - LWA099 - Pol XX - Normalized Spectrum (Median power=17.2 CPU)</text>
<rect x="901.5" y="79.5" width="172" height="67" rx="2.8" ry="2.8" fill="#fff" fill-opacity="0.8" stroke="#ccc" stroke-opacity="0.9" stroke-width="1.39"/>
<line x1="906.2" x2="934" y1="90.9" y2="90.9" stroke="#000" stroke-width="2.08" stroke-linecap="square"/>
<line x1="906.2" x2="934" y1="112" y2="112" stroke="#f00" stroke-opacity="0.6" stroke-width="2.08" stroke-linecap="square"/>
<rect x="906.5" y="128.5" width="27.5" height="9" fill="#808080" fill-opacity="0.4" stroke="#808080" stroke-opacity="0.4" stroke-width="1.2"/>
<text x="945.1" y="94.8" font-size="13.89">Median Spectrum</text>
<text x="945.1" y="115.8" font-size="13.89">Reference spec</text>
<text x="945.1" y="137.2" font-size="13.89">Median Abs. Dev.</text>
</svg></body></html>
